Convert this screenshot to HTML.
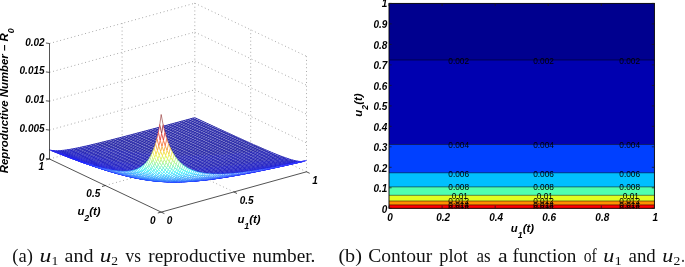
<!DOCTYPE html>
<html lang="en"><head><meta charset="utf-8"><title>Reproductive number plots</title>
<style>
html,body{margin:0;padding:0;background:#fff}
svg{display:block}
.g{stroke:#969696;stroke-width:.9;stroke-dasharray:.9 2.8;fill:none}
.a{stroke:#1a1a1a;stroke-width:.75;fill:none}
.c{stroke:#000;stroke-width:.5;fill:none}
text{font-family:"Liberation Sans",sans-serif;fill:#000}
.t{font-size:10.0px;font-weight:bold;font-style:italic}
.l{font-size:11.4px;font-weight:bold;font-style:italic}
.k{font-size:8.3px;fill:#000}
.s{font-family:"Liberation Serif",serif;font-size:18.3px;fill:#111}
</style></head>
<body>
<svg width="685" height="267" viewBox="0 0 685 267">
<rect width="685" height="267" fill="#fff"/>
<g id="grid3d">
<path class="g" d="M122.1 138.8L122.1 23.3"/>
<path class="g" d="M194.8 118.7L194.8 3.2"/>
<path class="g" d="M250.7 145.2L250.7 29.8"/>
<path class="g" d="M306.5 171.8L306.5 56.3"/>
<path class="g" d="M49.5 130.1L194.8 89.8"/>
<path class="g" d="M194.8 89.8L306.5 142.9"/>
<path class="g" d="M49.5 101.2L194.8 61.0"/>
<path class="g" d="M194.8 61.0L306.5 114.1"/>
<path class="g" d="M49.5 72.4L194.8 32.1"/>
<path class="g" d="M194.8 32.1L306.5 85.2"/>
<path class="g" d="M49.5 43.5L194.8 3.2"/>
<path class="g" d="M194.8 3.2L306.5 56.3"/>
<path class="g" d="M233.8 191.9L122.1 138.8"/>
<path class="g" d="M105.3 185.5L250.7 145.2"/>
<path class="g" d="M306.5 171.8L194.8 118.7"/>
<path class="g" d="M49.5 159.0L194.8 118.7"/>
</g>
<g id="mesh">
<g fill="#fff" stroke-width="0.56" stroke-linejoin="round">
<path fill="#fff" stroke="#fff" stroke-width=".3" d="M50.9 150.45l1.81 .47 1.82 .28 1.81 .15 1.82 .03 1.82-.04 3.63-.28 3.63-.44 5.45-.88 5.45-1.04 7.26-1.55 7.27-1.67 9.08-2.19 10.9-2.74 12.71-3.27 30.88-8.19 39.96-10.8-1.4-.65-39.96 10.81-30.87 8.18-12.72 3.28-10.89 2.74-9.09 2.2-7.26 1.67-7.27 1.56-5.44 1.04-5.45 .89-3.64 .45-3.63 .28-1.82 .05-1.81-.03-1.82-.13-1.81-.28-1.82-.46zM52.29 151l1.82 .49 1.81 .29 1.82 .15 1.82 .04 1.81-.04 3.64-.26 3.63-.44 5.45-.87 5.45-1.03 7.26-1.55 7.27-1.66 9.08-2.19 10.89-2.73 12.72-3.28 30.88-8.18 39.95-10.8-1.39-.65-39.96 10.8-30.88 8.19-12.71 3.27-10.9 2.74-9.08 2.19-7.27 1.67-7.26 1.55-5.45 1.04-5.45 .88-3.63 .44-3.63 .28-1.82 .04-1.82-.03-1.81-.15-1.82-.28-1.81-.47zM53.69 151.56l1.81 .5 1.82 .3 1.82 .15 1.81 .05 1.82-.03 3.63-.26 3.63-.43 5.45-.86 5.45-1.03 7.27-1.54 7.26-1.66 9.08-2.19 10.9-2.72 12.71-3.28 30.88-8.17 39.96-10.8-1.4-.65-39.95 10.8-30.88 8.18-12.72 3.28-10.89 2.73-9.08 2.19-7.27 1.66-7.26 1.55-5.45 1.03-5.45 .87-3.63 .44-3.64 .26-1.81 .04-1.82-.04-1.82-.15-1.81-.29-1.82-.49zM55.08 152.11l1.82 .51 1.82 .31 1.81 .17 1.82 .05 1.82-.03 3.63-.25 3.63-.42 5.45-.85 5.45-1.03 7.26-1.53 7.27-1.66 9.08-2.18 10.9-2.72 12.71-3.27 30.88-8.17 39.95-10.8-1.39-.65-39.96 10.8-30.88 8.17-12.71 3.28-10.9 2.72-9.08 2.19-7.26 1.66-7.27 1.54-5.45 1.03-5.45 .86-3.63 .43-3.63 .26-1.82 .03-1.81-.05-1.82-.15-1.82-.3-1.81-.5zM56.48 152.66l1.82 .52 1.81 .32 1.82 .17 1.82 .07 1.81-.03 3.63-.24 3.64-.41 5.45-.85 5.44-1.02 7.27-1.52 7.26-1.66 9.09-2.17 10.89-2.73 12.72-3.26 30.87-8.16 39.96-10.8-1.4-.65-39.95 10.8-30.88 8.17-12.71 3.27-10.9 2.72-9.08 2.18-7.27 1.66-7.26 1.53-5.45 1.03-5.45 .85-3.63 .42-3.63 .25-1.82 .03-1.82-.05-1.81-.17-1.82-.31-1.82-.51zM57.88 153.2l1.81 .54 1.82 .33 1.82 .18 1.81 .07 1.82-.02 3.63-.23 3.63-.41 5.45-.83 5.45-1.02 7.27-1.52 7.26-1.65 9.08-2.17 10.9-2.72 12.71-3.26 30.88-8.16 39.96-10.79-1.4-.65-39.96 10.8-30.87 8.16-12.72 3.26-10.89 2.73-9.09 2.17-7.26 1.66-7.27 1.52-5.44 1.02-5.45 .85-3.64 .41-3.63 .24-1.81 .03-1.82-.07-1.82-.17-1.81-.32-1.82-.52zM59.27 153.75l1.82 .55 1.82 .34 1.81 .19 1.82 .07 1.82-.01 3.63-.22 3.63-.4 5.45-.83 5.45-1.01 7.26-1.51 7.27-1.65 9.08-2.17 10.9-2.71 12.71-3.26 30.88-8.15 39.95-10.79-1.39-.65-39.96 10.79-30.88 8.16-12.71 3.26-10.9 2.72-9.08 2.17-7.26 1.65-7.27 1.52-5.45 1.02-5.45 .83-3.63 .41-3.63 .23-1.82 .02-1.81-.07-1.82-.18-1.82-.33-1.81-.54zM60.67 154.29l1.82 .56 1.81 .35 1.82 .2 1.81 .08 1.82 0 3.63-.21 3.64-.4 5.45-.82 5.44-1 7.27-1.51 7.26-1.64 9.09-2.16 10.89-2.71 12.72-3.26 30.87-8.15 39.96-10.78-1.4-.65-39.95 10.79-30.88 8.15-12.71 3.26-10.9 2.71-9.08 2.17-7.27 1.65-7.26 1.51-5.45 1.01-5.45 .83-3.63 .4-3.63 .22-1.82 .01-1.82-.07-1.81-.19-1.82-.34-1.82-.55zM62.07 154.82l1.81 .58 1.82 .36 1.81 .21 1.82 .09 1.82 0 3.63-.2 3.63-.39 5.45-.81 5.45-.99 7.26-1.5 7.27-1.64 9.08-2.16 10.9-2.71 12.71-3.25 14.53-3.8 16.35-4.34 39.96-10.78-1.4-.65-39.96 10.78-30.87 8.15-12.72 3.26-10.89 2.71-9.09 2.16-7.26 1.64-7.27 1.51-5.44 1-5.45 .82-3.64 .4-3.63 .21-1.82 0-1.81-.08-1.82-.2-1.81-.35-1.82-.56zM63.46 155.36l1.82 .59 1.81 .37 1.82 .22 1.82 .1 1.81 0 3.64-.19 3.63-.38 5.45-.8 5.45-.99 7.26-1.49 7.27-1.63 9.08-2.16 10.89-2.7 12.72-3.25 14.53-3.8 16.35-4.34 39.95-10.77-1.39-.65-39.96 10.78-16.35 4.34-14.53 3.8-12.71 3.25-10.9 2.71-9.08 2.16-7.27 1.64-7.26 1.5-5.45 .99-5.45 .81-3.63 .39-3.63 .2-1.82 0-1.82-.09-1.81-.21-1.82-.36-1.81-.58zM64.86 155.89l1.81 .6 1.82 .39 1.82 .22 1.81 .11 1.82 .01 3.63-.18 3.63-.37 5.45-.79 5.45-.98 7.27-1.49 7.26-1.63 9.08-2.15 10.9-2.69 12.71-3.25 14.54-3.8 16.34-4.33 39.96-10.77-1.4-.65-39.95 10.77-16.35 4.34-14.53 3.8-12.72 3.25-10.89 2.7-9.08 2.16-7.27 1.63-7.26 1.49-5.45 .99-5.45 .8-3.63 .38-3.64 .19-1.81 0-1.82-.1-1.82-.22-1.81-.37-1.82-.59zM66.25 156.42l1.82 .61 1.82 .4 1.81 .24 1.82 .11 1.82 .02 3.63-.17 3.63-.36 5.45-.79 5.45-.97 7.26-1.48 7.27-1.62 9.08-2.15 10.9-2.69 12.71-3.24 14.53-3.79 16.35-4.34 39.96-10.77-1.4-.64-39.96 10.77-16.34 4.33-14.54 3.8-12.71 3.25-10.9 2.69-9.08 2.15-7.26 1.63-7.27 1.49-5.45 .98-5.45 .79-3.63 .37-3.63 .18-1.82-.01-1.81-.11-1.82-.22-1.82-.39-1.81-.6zM67.65 156.94l1.82 .63 1.81 .41 1.82 .25 1.82 .12 1.81 .02 1.82-.04 1.81-.11 3.64-.36 5.45-.77 5.44-.97 7.27-1.47 7.26-1.62 9.09-2.14 10.89-2.69 12.72-3.24 14.53-3.78 16.34-4.34 39.96-10.76-1.39-.65-39.96 10.77-16.35 4.34-14.53 3.79-12.71 3.24-10.9 2.69-9.08 2.15-7.27 1.62-7.26 1.48-5.45 .97-5.45 .79-3.63 .36-3.63 .17-1.82-.02-1.82-.11-1.81-.24-1.82-.4-1.82-.61zM69.05 157.46l1.81 .65 1.82 .42 1.82 .25 1.81 .13 1.82 .04 1.81-.04 1.82-.11 3.63-.34 5.45-.77 5.45-.96 7.27-1.46 7.26-1.61 9.08-2.14 10.9-2.68 12.71-3.24 14.53-3.78 16.35-4.33 39.96-10.76-1.4-.65-39.96 10.76-16.34 4.34-14.53 3.78-12.72 3.24-10.89 2.69-9.09 2.14-7.26 1.62-7.27 1.47-5.44 .97-5.45 .77-3.64 .36-1.81 .11-1.82 .04-1.81-.02-1.82-.12-1.82-.25-1.81-.41-1.82-.63zM70.44 157.98l1.82 .66 1.82 .43 1.81 .27 1.82 .14 1.81 .04 1.82-.04 1.82-.09 3.63-.34 5.45-.76 5.45-.95 7.26-1.46 7.27-1.6 9.08-2.13 10.9-2.68 12.71-3.23 14.53-3.78 16.35-4.33 39.95-10.75-1.39-.65-39.96 10.76-16.35 4.33-14.53 3.78-12.71 3.24-10.9 2.68-9.08 2.14-7.26 1.61-7.27 1.46-5.45 .96-5.45 .77-3.63 .34-1.82 .11-1.81 .04-1.82-.04-1.81-.13-1.82-.25-1.82-.42-1.81-.65zM71.84 158.49l1.82 .68 1.81 .44 1.82 .28 1.81 .15 1.82 .05 1.82-.03 1.81-.09 3.64-.33 5.44-.75 5.45-.94 7.27-1.45 7.26-1.6 9.08-2.13 10.9-2.67 12.72-3.23 14.53-3.78 16.34-4.32 39.96-10.75-1.4-.64-39.95 10.75-16.35 4.33-14.53 3.78-12.71 3.23-10.9 2.68-9.08 2.13-7.27 1.6-7.26 1.46-5.45 .95-5.45 .76-3.63 .34-1.82 .09-1.82 .04-1.81-.04-1.82-.14-1.81-.27-1.82-.43-1.82-.66zM73.24 159l1.81 .69 1.82 .46 1.81 .29 1.82 .15 1.82 .06 1.81-.02 1.82-.09 3.63-.32 5.45-.73 5.45-.93 7.26-1.45 7.27-1.59 9.08-2.12 10.9-2.67 12.71-3.22 14.53-3.78 16.35-4.32 39.96-10.74-1.4-.65-39.96 10.75-16.34 4.32-14.53 3.78-12.72 3.23-10.9 2.67-9.08 2.13-7.26 1.6-7.27 1.45-5.45 .94-5.44 .75-3.64 .33-1.81 .09-1.82 .03-1.82-.05-1.81-.15-1.82-.28-1.81-.44-1.82-.68zM74.63 159.5l1.82 .71 1.81 .47 1.82 .3 1.82 .17 1.81 .06 1.82-.01 1.82-.08 3.63-.31 5.45-.72 5.45-.93 7.26-1.44 7.27-1.58 9.08-2.12 10.89-2.66 12.72-3.22 14.53-3.77 16.35-4.32 39.95-10.74-1.39-.64-39.96 10.74-16.35 4.32-14.53 3.78-12.71 3.22-10.9 2.67-9.08 2.12-7.27 1.59-7.26 1.45-5.45 .93-5.45 .73-3.63 .32-1.82 .09-1.81 .02-1.82-.06-1.82-.15-1.81-.29-1.82-.46-1.81-.69zM76.03 160l1.81 .73 1.82 .48 1.82 .31 1.81 .18 1.82 .07 1.82 0 1.81-.08 3.63-.3 5.45-.71 5.45-.92 7.27-1.43 7.26-1.57 9.08-2.11 10.9-2.66 12.72-3.22 14.53-3.76 16.34-4.32 39.96-10.73-1.4-.65-39.95 10.74-16.35 4.32-14.53 3.77-12.72 3.22-10.89 2.66-9.08 2.12-7.27 1.58-7.26 1.44-5.45 .93-5.45 .72-3.63 .31-1.82 .08-1.82 .01-1.81-.06-1.82-.17-1.82-.3-1.81-.47-1.82-.71zM77.42 160.49l1.82 .75 1.82 .5 1.81 .32 1.82 .19 1.82 .08 1.81 0 1.82-.07 3.63-.29 5.45-.7 5.45-.91 7.26-1.42 7.27-1.57 9.08-2.1 10.9-2.66 12.71-3.21 14.53-3.76 16.35-4.31 39.95-10.73-1.39-.64-39.96 10.73-16.34 4.32-14.53 3.76-12.72 3.22-10.9 2.66-9.08 2.11-7.26 1.57-7.27 1.43-5.45 .92-5.45 .71-3.63 .3-1.81 .08-1.82 0-1.82-.07-1.81-.18-1.82-.31-1.82-.48-1.81-.73zM78.82 160.98l1.82 .77 1.81 .51 1.82 .34 1.82 .19 1.81 .09 1.82 .01 1.81-.06 3.64-.28 1.81-.2 3.64-.49 5.44-.9 7.27-1.41 7.26-1.56 9.09-2.1 10.89-2.65 12.72-3.2 14.53-3.76 16.34-4.31 39.96-10.73-1.4-.64-39.95 10.73-16.35 4.31-14.53 3.76-12.71 3.21-10.9 2.66-9.08 2.1-7.27 1.57-7.26 1.42-5.45 .91-5.45 .7-3.63 .29-1.82 .07-1.81 0-1.82-.08-1.82-.19-1.81-.32-1.82-.5-1.82-.75zM80.22 161.46l1.81 .79 1.82 .53 1.82 .35 1.81 .2 1.82 .1 1.81 .02 1.82-.06 3.63-.26 1.82-.2 3.63-.48 5.45-.89 7.27-1.4 7.26-1.56 9.08-2.09 10.9-2.64 12.71-3.21 14.53-3.75 16.35-4.3 39.96-10.72-1.4-.65-39.96 10.73-16.34 4.31-14.53 3.76-12.72 3.2-10.89 2.65-9.09 2.1-7.26 1.56-7.27 1.41-5.44 .9-3.64 .49-1.81 .2-3.64 .28-1.81 .06-1.82-.01-1.81-.09-1.82-.19-1.82-.34-1.81-.51-1.82-.77zM81.61 161.94l1.82 .81 1.82 .54 1.81 .36 1.82 .22 1.81 .11 1.82 .02 1.82-.05 3.63-.25 1.82-.19 3.63-.47 5.45-.88 7.26-1.4 7.27-1.55 9.08-2.08 10.9-2.64 12.71-3.2 14.53-3.75 16.35-4.3 39.95-10.71-1.39-.64-39.96 10.72-16.35 4.3-14.53 3.75-12.71 3.21-10.9 2.64-9.08 2.09-7.26 1.56-7.27 1.4-5.45 .89-3.63 .48-1.82 .2-3.63 .26-1.82 .06-1.81-.02-1.82-.1-1.81-.2-1.82-.35-1.82-.53-1.81-.79zM83.01 162.41l1.82 .83 1.81 .56 1.82 .38 1.81 .23 1.82 .11 1.82 .03 1.81-.04 3.64-.24 1.81-.19 3.64-.46 5.44-.87 7.27-1.38 7.26-1.55 9.09-2.08 10.89-2.63 12.72-3.19 14.53-3.75 16.34-4.29 39.96-10.71-1.4-.64-39.95 10.71-16.35 4.3-14.53 3.75-12.71 3.2-10.9 2.64-9.08 2.08-7.27 1.55-7.26 1.4-5.45 .88-3.63 .47-1.82 .19-3.63 .25-1.82 .05-1.82-.02-1.81-.11-1.82-.22-1.81-.36-1.82-.54-1.82-.81zM84.41 162.88l1.81 .84 1.82 .59 1.81 .38 1.82 .24 1.82 .13 1.81 .04 1.82-.03 3.63-.23 1.82-.18 3.63-.46 5.45-.86 7.26-1.37 7.27-1.54 9.08-2.07 10.9-2.63 12.71-3.18 14.53-3.74 16.35-4.3 39.96-10.7-1.4-.64-39.96 10.71-16.34 4.29-14.53 3.75-12.72 3.19-10.89 2.63-9.09 2.08-7.26 1.55-7.27 1.38-5.44 .87-3.64 .46-1.81 .19-3.64 .24-1.81 .04-1.82-.03-1.82-.11-1.81-.23-1.82-.38-1.81-.56-1.82-.83zM85.8 163.34l1.82 .87 1.81 .6 1.82 .4 1.82 .25 1.81 .14 1.82 .04 1.82-.02 3.63-.22 1.81-.17 3.64-.45 5.45-.85 7.26-1.37 7.27-1.53 9.08-2.06 10.89-2.62 12.72-3.18 14.53-3.73 16.35-4.29 39.95-10.7-1.39-.64-39.96 10.7-16.35 4.3-14.53 3.74-12.71 3.18-10.9 2.63-9.08 2.07-7.27 1.54-7.26 1.37-5.45 .86-3.63 .46-1.82 .18-3.63 .23-1.82 .03-1.81-.04-1.82-.13-1.82-.24-1.81-.38-1.82-.59-1.81-.84zM87.2 163.79l1.81 .89 1.82 .62 1.82 .41 1.81 .27 1.82 .15 1.82 .05 1.81-.01 3.63-.21 1.82-.17 3.63-.44 5.45-.84 7.27-1.35 7.26-1.52 9.08-2.06 10.9-2.61 12.71-3.17 14.54-3.74 16.34-4.28 39.96-10.69-1.4-.64-39.95 10.7-16.35 4.29-14.53 3.73-12.72 3.18-10.89 2.62-9.08 2.06-7.27 1.53-7.26 1.37-5.45 .85-3.64 .45-1.81 .17-3.63 .22-1.82 .02-1.82-.04-1.81-.14-1.82-.25-1.82-.4-1.81-.6-1.82-.87zM88.59 164.24l1.82 .91 1.82 .64 1.81 .43 1.82 .27 1.82 .16 1.81 .07 1.82-.01 3.63-.19 1.82-.17 3.63-.42 5.45-.83 7.26-1.34 7.27-1.52 9.08-2.05 10.9-2.6 12.71-3.17 14.53-3.73 16.35-4.28 39.95-10.68-1.39-.64-39.96 10.69-16.34 4.28-14.54 3.74-12.71 3.17-10.9 2.61-9.08 2.06-7.26 1.52-7.27 1.35-5.45 .84-3.63 .44-1.82 .17-3.63 .21-1.81 .01-1.82-.05-1.82-.15-1.81-.27-1.82-.41-1.82-.62-1.81-.89zM89.99 164.67l1.82 .94 1.81 .66 1.82 .44 1.82 .3 1.81 .17 1.82 .07 1.81 0 3.64-.18 1.81-.16 3.64-.42 5.44-.81 7.27-1.33 7.26-1.51 9.09-2.04 10.89-2.6 12.72-3.16 14.53-3.72 16.34-4.28 39.96-10.67-1.4-.64-39.95 10.68-16.35 4.28-14.53 3.73-12.71 3.17-10.9 2.6-9.08 2.05-7.27 1.52-7.26 1.34-5.45 .83-3.63 .42-1.82 .17-3.63 .19-1.82 .01-1.81-.07-1.82-.16-1.82-.27-1.81-.43-1.82-.64-1.82-.91zM91.39 165.1l1.81 .97 1.82 .67 1.82 .47 1.81 .3 1.82 .18 1.81 .09 1.82 0 3.63-.16 1.82-.15 3.63-.41 5.45-.81 7.27-1.31 7.26-1.5 9.08-2.03 10.9-2.59 12.71-3.16 14.53-3.72 16.35-4.27 39.96-10.67-1.4-.63-39.96 10.67-16.34 4.28-14.53 3.72-12.72 3.16-10.89 2.6-9.09 2.04-7.26 1.51-7.27 1.33-5.44 .81-3.64 .42-1.81 .16-3.64 .18-1.81 0-1.82-.07-1.81-.17-1.82-.3-1.82-.44-1.81-.66-1.82-.94zM92.78 165.53l1.82 .99 1.82 .69 1.81 .48 1.82 .32 1.81 .19 1.82 .1 1.82 .02 3.63-.15 1.82-.15 3.63-.4 5.45-.79 7.26-1.31 7.27-1.48 9.08-2.03 10.9-2.58 12.71-3.15 14.53-3.71 16.35-4.27 39.95-10.66-1.39-.64-39.96 10.67-16.35 4.27-14.53 3.72-12.71 3.16-10.9 2.59-9.08 2.03-7.26 1.5-7.27 1.31-5.45 .81-3.63 .41-1.82 .15-3.63 .16-1.82 0-1.81-.09-1.82-.18-1.81-.3-1.82-.47-1.82-.67-1.81-.97zM94.18 165.94l1.82 1.02 1.81 .71 1.82 .5 1.81 .33 1.82 .21 1.82 .11 1.81 .02 3.64-.13 1.81-.14 3.64-.39 5.44-.78 7.27-1.29 7.26-1.48 9.09-2.02 10.89-2.57 12.72-3.14 14.53-3.71 16.34-4.26 39.96-10.66-1.4-.63-39.95 10.66-16.35 4.27-14.53 3.71-12.71 3.15-10.9 2.58-9.08 2.03-7.27 1.48-7.26 1.31-5.45 .79-3.63 .4-1.82 .15-3.63 .15-1.82-.02-1.82-.1-1.81-.19-1.82-.32-1.81-.48-1.82-.69-1.82-.99zM95.58 166.35l1.81 1.04 1.82 .74 1.81 .51 1.82 .35 1.82 .22 1.81 .12 1.82 .03 3.63-.12 1.82-.13 3.63-.37 5.45-.77 7.26-1.28 7.27-1.47 9.08-2.01 10.9-2.56 12.71-3.14 14.53-3.7 16.35-4.26 18.16-4.81 21.8-5.83-1.4-.64-39.96 10.66-16.34 4.26-14.53 3.71-12.72 3.14-10.89 2.57-9.09 2.02-7.26 1.48-7.27 1.29-5.44 .78-3.64 .39-1.81 .14-3.64 .13-1.81-.02-1.82-.11-1.82-.21-1.81-.33-1.82-.5-1.81-.71-1.82-1.02zM96.97 166.74l1.82 1.07 1.81 .76 1.82 .54 1.82 .36 1.81 .24 1.82 .12 1.82 .05 3.63-.1 1.81-.13 3.64-.36 5.45-.76 7.26-1.26 7.27-1.46 9.08-2 10.89-2.56 12.72-3.13 14.53-3.69 16.35-4.25 18.16-4.81 21.79-5.83-1.39-.63-21.8 5.83-18.16 4.81-16.35 4.26-14.53 3.7-12.71 3.14-10.9 2.56-9.08 2.01-7.27 1.47-7.26 1.28-5.45 .77-3.63 .37-1.82 .13-3.63 .12-1.82-.03-1.81-.12-1.82-.22-1.82-.35-1.81-.51-1.82-.74-1.81-1.04zM98.37 167.13l1.81 1.1 1.82 .78 1.82 .56 1.81 .38 1.82 .24 1.82 .14 1.81 .06 3.63-.09 1.82-.11 3.63-.36 5.45-.74 7.27-1.25 7.26-1.45 9.08-1.98 10.9-2.55 12.71-3.12 14.54-3.69 16.34-4.25 18.16-4.8 21.8-5.83-1.4-.63-21.79 5.83-18.16 4.81-16.35 4.25-14.53 3.69-12.72 3.13-10.89 2.56-9.08 2-7.27 1.46-7.26 1.26-5.45 .76-3.64 .36-1.81 .13-3.63 .1-1.82-.05-1.82-.12-1.81-.24-1.82-.36-1.82-.54-1.81-.76-1.82-1.07zM99.76 167.5l1.82 1.13 1.82 .81 1.81 .58 1.82 .4 1.82 .26 1.81 .15 1.82 .06 3.63-.06 1.82-.11 3.63-.34 5.45-.73 3.63-.59 3.63-.65 7.27-1.43 9.08-1.98 10.9-2.54 12.71-3.11 14.53-3.69 16.35-4.24 18.16-4.79 21.79-5.83-1.39-.63-21.8 5.83-18.16 4.8-16.34 4.25-14.54 3.69-12.71 3.12-10.9 2.55-9.08 1.98-7.26 1.45-7.27 1.25-5.45 .74-3.63 .36-1.82 .11-3.63 .09-1.81-.06-1.82-.14-1.82-.24-1.81-.38-1.82-.56-1.82-.78-1.81-1.1zM101.16 167.86l1.82 1.17 1.81 .83 1.82 .6 1.82 .41 1.81 .28 1.82 .17 1.82 .07 3.63-.05 1.81-.1 3.64-.33 5.45-.71 3.63-.58 3.63-.64 7.27-1.42 9.08-1.97 10.89-2.53 12.72-3.11 14.53-3.67 16.34-4.24 18.17-4.79 21.79-5.82-1.4-.63-21.79 5.83-18.16 4.79-16.35 4.24-14.53 3.69-12.71 3.11-10.9 2.54-9.08 1.98-7.27 1.43-3.63 .65-3.63 .59-5.45 .73-3.63 .34-1.82 .11-3.63 .06-1.82-.06-1.81-.15-1.82-.26-1.82-.4-1.81-.58-1.82-.81-1.82-1.13zM102.56 168.22l1.81 1.19 1.82 .87 1.82 .61 1.81 .44 1.82 .29 1.81 .18 1.82 .08 1.82 .02 1.81-.05 1.82-.09 3.63-.31 5.45-.7 3.63-.57 3.64-.63 7.26-1.42 9.08-1.95 10.9-2.53 12.71-3.09 14.53-3.67 16.35-4.23 18.16-4.79 21.8-5.81-1.4-.63-21.79 5.82-18.17 4.79-16.34 4.24-14.53 3.67-12.72 3.11-10.89 2.53-9.08 1.97-7.27 1.42-3.63 .64-3.63 .58-5.45 .71-3.64 .33-1.81 .1-3.63 .05-1.82-.07-1.82-.17-1.81-.28-1.82-.41-1.82-.6-1.81-.83-1.82-1.17zM103.95 168.55l1.82 1.24 1.82 .89 1.81 .64 1.82 .45 1.81 .31 1.82 .19 1.82 .1 1.81 .02 1.82-.03 1.82-.09 3.63-.3 5.45-.67 3.63-.57 3.63-.62 7.27-1.41 9.08-1.94 10.9-2.51 12.71-3.09 14.53-3.66 16.35-4.23 18.16-4.78 21.79-5.81-1.39-.62-21.8 5.81-18.16 4.79-16.35 4.23-14.53 3.67-12.71 3.09-10.9 2.53-9.08 1.95-7.26 1.42-3.64 .63-3.63 .57-5.45 .7-3.63 .31-1.82 .09-1.81 .05-1.82-.02-1.82-.08-1.81-.18-1.82-.29-1.81-.44-1.82-.61-1.82-.87-1.81-1.19zM105.35 168.88l1.82 1.27 1.81 .92 1.82 .66 1.81 .47 1.82 .33 1.82 .2 1.81 .12 1.82 .03 1.82-.02 1.81-.08 3.64-.29 5.44-.66 3.64-.55 3.63-.62 7.26-1.39 9.09-1.93 10.89-2.5 12.72-3.08 14.53-3.65 16.34-4.22 18.16-4.78 21.8-5.8-1.4-.63-21.79 5.81-18.16 4.78-16.35 4.23-14.53 3.66-12.71 3.09-10.9 2.51-9.08 1.94-7.27 1.41-3.63 .62-3.63 .57-5.45 .67-3.63 .3-1.82 .09-1.82 .03-1.81-.02-1.82-.1-1.82-.19-1.81-.31-1.82-.45-1.81-.64-1.82-.89-1.82-1.24zM106.75 169.19l1.81 1.31 1.82 .94 1.81 .69 1.82 .5 1.82 .34 1.81 .22 1.82 .13 1.82 .04 1.81-.01 1.82-.07 3.63-.27 5.45-.64 3.63-.55 3.63-.61 7.27-1.37 9.08-1.92 10.9-2.49 12.71-3.07 14.53-3.65 16.35-4.21 18.16-4.77 21.8-5.8-1.4-.62-21.8 5.8-18.16 4.78-16.34 4.22-14.53 3.65-12.72 3.08-10.89 2.5-9.09 1.93-7.26 1.39-3.63 .62-3.64 .55-5.44 .66-3.64 .29-1.81 .08-1.82 .02-1.82-.03-1.81-.12-1.82-.2-1.82-.33-1.81-.47-1.82-.66-1.81-.92-1.82-1.27zM108.14 169.49l1.82 1.34 1.81 .98 1.82 .72 1.82 .51 1.81 .36 1.82 .24 1.82 .14 1.81 .06 1.82-.01 1.81-.06 3.64-.25 5.45-.63 3.63-.53 3.63-.6 7.27-1.36 9.08-1.91 10.89-2.48 12.72-3.06 14.53-3.63 16.35-4.21 18.16-4.76 21.79-5.8-1.39-.62-21.8 5.8-18.16 4.77-16.35 4.21-14.53 3.65-12.71 3.07-10.9 2.49-9.08 1.92-7.27 1.37-3.63 .61-3.63 .55-5.45 .64-3.63 .27-1.82 .07-1.81 .01-1.82-.04-1.82-.13-1.81-.22-1.82-.34-1.82-.5-1.81-.69-1.82-.94-1.81-1.31zM109.54 169.76l1.81 1.39 1.82 1.01 1.82 .75 1.81 .53 1.82 .38 1.82 .25 1.81 .16 1.82 .07 1.81 .01 1.82-.05 3.63-.24 5.45-.6 3.63-.53 3.64-.59 7.26-1.35 9.08-1.89 10.9-2.47 12.71-3.05 14.54-3.62 16.34-4.2 18.16-4.76 21.8-5.79-1.4-.62-21.79 5.8-18.16 4.76-16.35 4.21-14.53 3.63-12.72 3.06-10.89 2.48-9.08 1.91-7.27 1.36-3.63 .6-3.63 .53-5.45 .63-3.64 .25-1.81 .06-1.82 .01-1.81-.06-1.82-.14-1.82-.24-1.81-.36-1.82-.51-1.82-.72-1.81-.98-1.82-1.34zM110.93 170.03l1.82 1.42 1.82 1.05 1.81 .77 1.82 .56 1.82 .4 1.81 .27 1.82 .17 1.81 .09 1.82 .01 1.82-.04 3.63-.21 5.45-.59 3.63-.51 3.63-.58 7.27-1.34 9.08-1.88 10.9-2.45 12.71-3.04 14.53-3.62 16.35-4.19 18.16-4.75 21.8-5.79-1.4-.61-21.8 5.79-18.16 4.76-16.34 4.2-14.54 3.62-12.71 3.05-10.9 2.47-9.08 1.89-7.26 1.35-3.64 .59-3.63 .53-5.45 .6-3.63 .24-1.82 .05-1.81-.01-1.82-.07-1.81-.16-1.82-.25-1.82-.38-1.81-.53-1.82-.75-1.82-1.01-1.81-1.39zM112.33 170.27l1.82 1.47 1.81 1.09 1.82 .8 1.82 .58 1.81 .42 1.82 .29 1.81 .18 1.82 .1 1.82 .03 1.81-.03 3.64-.2 5.44-.56 3.64-.5 3.63-.58 7.26-1.31 9.09-1.87 10.89-2.44 12.72-3.02 14.53-3.61 16.34-4.19 18.17-4.74 21.79-5.78-1.39-.62-21.8 5.79-18.16 4.75-16.35 4.19-14.53 3.62-12.71 3.04-10.9 2.45-9.08 1.88-7.27 1.34-3.63 .58-3.63 .51-5.45 .59-3.63 .21-1.82 .04-1.82-.01-1.81-.09-1.82-.17-1.81-.27-1.82-.4-1.82-.56-1.81-.77-1.82-1.05-1.82-1.42zM113.73 170.49l1.81 1.52 1.82 1.12 1.82 .83 1.81 .62 1.82 .44 1.81 .3 1.82 .21 1.82 .11 1.81 .04 1.82-.02 3.63-.18 1.82-.15 3.63-.39 3.63-.49 3.64-.56 7.26-1.3 9.08-1.85 10.9-2.43 12.71-3.01 14.53-3.6 16.35-4.18 18.16-4.73 21.8-5.78-1.4-.61-21.79 5.78-18.17 4.74-16.34 4.19-14.53 3.61-12.72 3.02-10.89 2.44-9.09 1.87-7.26 1.31-3.63 .58-3.64 .5-5.44 .56-3.64 .2-1.81 .03-1.82-.03-1.82-.1-1.81-.18-1.82-.29-1.81-.42-1.82-.58-1.82-.8-1.81-1.09-1.82-1.47zM115.12 170.7l1.82 1.56 1.82 1.17 1.81 .86 1.82 .64 1.81 .46 1.82 .33 1.82 .21 1.81 .13 1.82 .06 1.82-.01 3.63-.16 1.82-.14 3.63-.38 3.63-.47 3.63-.56 7.27-1.28 9.08-1.83 10.9-2.41 12.71-3.01 14.53-3.58 16.35-4.17 18.16-4.73 21.79-5.77-1.39-.61-21.8 5.78-18.16 4.73-16.35 4.18-14.53 3.6-12.71 3.01-10.9 2.43-9.08 1.85-7.26 1.3-3.64 .56-3.63 .49-3.63 .39-1.82 .15-3.63 .18-1.82 .02-1.81-.04-1.82-.11-1.82-.21-1.81-.3-1.82-.44-1.81-.62-1.82-.83-1.82-1.12-1.81-1.52zM116.52 170.87l1.82 1.63 1.81 1.2 1.82 .89 1.81 .67 1.82 .49 1.82 .35 1.81 .23 1.82 .15 1.82 .06 1.81 .01 3.63-.14 1.82-.13 3.63-.36 3.64-.46 3.63-.55 7.26-1.26 9.09-1.82 10.89-2.39 12.72-2.99 14.53-3.58 16.34-4.16 18.16-4.72 21.8-5.76-1.4-.61-21.79 5.77-18.16 4.73-16.35 4.17-14.53 3.58-12.71 3.01-10.9 2.41-9.08 1.83-7.27 1.28-3.63 .56-3.63 .47-3.63 .38-1.82 .14-3.63 .16-1.82 .01-1.82-.06-1.81-.13-1.82-.21-1.82-.33-1.81-.46-1.82-.64-1.81-.86-1.82-1.17-1.82-1.56zM117.92 171.03l1.81 1.67 1.82 1.25 1.81 .93 1.82 .7 1.82 .51 1.81 .37 1.82 .26 1.82 .16 1.81 .08 1.82 .02 3.63-.12 1.82-.12 3.63-.35 3.63-.44 3.63-.54 7.27-1.24 9.08-1.8 10.9-2.38 12.71-2.98 14.53-3.56 16.35-4.15 18.16-4.71 21.8-5.76-1.4-.6-21.8 5.76-18.16 4.72-16.34 4.16-14.53 3.58-12.72 2.99-10.89 2.39-9.09 1.82-7.26 1.26-3.63 .55-3.64 .46-3.63 .36-1.82 .13-3.63 .14-1.81-.01-1.82-.06-1.82-.15-1.81-.23-1.82-.35-1.82-.49-1.81-.67-1.82-.89-1.81-1.2-1.82-1.63zM119.31 171.16l1.82 1.73 1.81 1.29 1.82 .97 1.82 .73 1.81 .54 1.82 .39 1.82 .27 1.81 .18 1.82 .1 1.81 .03 3.64-.09 1.81-.11 3.64-.33 3.63-.43 3.63-.52 7.27-1.23 9.08-1.78 10.89-2.36 12.72-2.96 14.53-3.56 16.35-4.13 18.16-4.71 21.79-5.75-1.39-.6-21.8 5.76-18.16 4.71-16.35 4.15-14.53 3.56-12.71 2.98-10.9 2.38-9.08 1.8-7.27 1.24-3.63 .54-3.63 .44-3.63 .35-1.82 .12-3.63 .12-1.82-.02-1.81-.08-1.82-.16-1.82-.26-1.81-.37-1.82-.51-1.82-.7-1.81-.93-1.82-1.25-1.81-1.67zM120.71 171.26l1.81 1.79 1.82 1.34 1.82 1.01 1.81 .76 1.82 .56 1.82 .42 1.81 .3 1.82 .19 1.81 .12 1.82 .04 3.63-.07 1.82-.1 3.63-.3 3.63-.42 3.64-.51 7.26-1.2 9.08-1.76 10.9-2.35 12.71-2.94 14.54-3.55 16.34-4.12 18.16-4.7 21.8-5.74-1.4-.6-21.79 5.75-18.16 4.71-16.35 4.13-14.53 3.56-12.72 2.96-10.89 2.36-9.08 1.78-7.27 1.23-3.63 .52-3.63 .43-3.64 .33-1.81 .11-3.64 .09-1.81-.03-1.82-.1-1.81-.18-1.82-.27-1.82-.39-1.81-.54-1.82-.73-1.82-.97-1.81-1.29-1.82-1.73zM122.1 171.32l1.82 1.86 1.82 1.39 1.81 1.05 1.82 .8 1.82 .59 1.81 .45 1.82 .31 1.81 .22 1.82 .13 1.82 .06 3.63-.04 1.82-.09 3.63-.29 3.63-.4 3.63-.5 7.27-1.18 9.08-1.73 10.9-2.33 12.71-2.93 14.53-3.53 16.35-4.12 18.16-4.68 21.79-5.73-1.39-.6-21.8 5.74-18.16 4.7-16.34 4.12-14.54 3.55-12.71 2.94-10.9 2.35-9.08 1.76-7.26 1.2-3.64 .51-3.63 .42-3.63 .3-1.82 .1-3.63 .07-1.82-.04-1.81-.12-1.82-.19-1.81-.3-1.82-.42-1.82-.56-1.81-.76-1.82-1.01-1.82-1.34-1.81-1.79zM123.5 171.36l1.82 1.92 1.81 1.44 1.82 1.1 1.82 .83 1.81 .63 1.82 .47 1.81 .34 1.82 .24 1.82 .15 1.81 .07 3.64-.01 1.81-.08 3.64-.27 3.63-.39 3.63-.47 7.26-1.16 9.09-1.71 10.89-2.31 12.72-2.92 14.53-3.51 16.34-4.1 18.17-4.68 21.79-5.72-1.4-.59-21.79 5.73-18.16 4.68-16.35 4.12-14.53 3.53-12.71 2.93-10.9 2.33-9.08 1.73-7.27 1.18-3.63 .5-3.63 .4-3.63 .29-1.82 .09-3.63 .04-1.82-.06-1.82-.13-1.81-.22-1.82-.31-1.81-.45-1.82-.59-1.82-.8-1.81-1.05-1.82-1.39-1.82-1.86zM124.9 171.36l1.81 1.99 1.82 1.5 1.82 1.14 1.81 .87 1.82 .66 1.81 .5 1.82 .37 1.82 .25 1.81 .17 1.82 .1 3.63 .01 1.82-.07 3.63-.24 3.63-.37 3.64-.46 7.26-1.13 9.08-1.7 10.9-2.28 12.71-2.9 14.53-3.5 16.35-4.09 18.16-4.67 21.8-5.71-1.4-.58-21.79 5.72-18.17 4.68-16.34 4.1-14.53 3.51-12.72 2.92-10.89 2.31-9.09 1.71-7.26 1.16-3.63 .47-3.63 .39-3.64 .27-1.81 .08-3.64 .01-1.81-.07-1.82-.15-1.82-.24-1.81-.34-1.82-.47-1.81-.63-1.82-.83-1.82-1.1-1.81-1.44-1.82-1.92zM126.29 171.31l1.82 2.07 1.82 1.56 1.81 1.19 1.82 .91 1.82 .7 1.81 .53 1.82 .39 1.81 .28 1.82 .19 1.82 .11 3.63 .05 1.82-.06 3.63-.22 3.63-.35 3.63-.44 3.64-.52 3.63-.59 3.63-.63 5.45-1.04 10.9-2.26 12.71-2.88 14.53-3.48 16.35-4.08 18.16-4.65 21.79-5.71-1.39-.58-21.8 5.71-18.16 4.67-16.35 4.09-14.53 3.5-12.71 2.9-10.9 2.28-9.08 1.7-7.26 1.13-3.64 .46-3.63 .37-3.63 .24-1.82 .07-3.63-.01-1.82-.1-1.81-.17-1.82-.25-1.82-.37-1.81-.5-1.82-.66-1.81-.87-1.82-1.14-1.82-1.5-1.81-1.99zM127.69 171.23l1.82 2.14 1.81 1.63 1.82 1.24 1.81 .96 1.82 .73 1.82 .56 1.81 .42 1.82 .31 1.82 .21 1.81 .13 3.64 .07 1.81-.03 3.63-.2 3.64-.33 3.63-.43 3.63-.51 3.63-.57 3.64-.62 5.45-1.02 10.89-2.24 12.72-2.86 14.53-3.46 16.34-4.06 18.16-4.65 21.8-5.69-1.4-.58-21.79 5.71-18.16 4.65-16.35 4.08-14.53 3.48-12.71 2.88-10.9 2.26-5.45 1.04-3.63 .63-3.63 .59-3.64 .52-3.63 .44-3.63 .35-3.63 .22-1.82 .06-3.63-.05-1.82-.11-1.82-.19-1.81-.28-1.82-.39-1.81-.53-1.82-.7-1.82-.91-1.81-1.19-1.82-1.56-1.82-2.07zM129.09 171.09l1.81 2.23 1.82 1.7 1.81 1.3 1.82 1 1.82 .77 1.81 .6 1.82 .45 1.82 .33 1.81 .23 1.82 .15 3.63 .11 1.82-.02 3.63-.17 3.63-.31 3.63-.41 3.64-.49 3.63-.56 3.63-.61 5.45-1 5.45-1.08 5.45-1.14 12.71-2.83 14.53-3.45 16.35-4.05 18.16-4.63 21.8-5.68-1.4-.57-21.8 5.69-18.16 4.65-16.34 4.06-14.53 3.46-12.72 2.86-10.89 2.24-5.45 1.02-3.64 .62-3.63 .57-3.63 .51-3.63 .43-3.64 .33-3.63 .2-1.81 .03-3.64-.07-1.81-.13-1.82-.21-1.82-.31-1.81-.42-1.82-.56-1.82-.73-1.81-.96-1.82-1.24-1.81-1.63-1.82-2.14zM130.48 170.9l1.82 2.33 1.81 1.76 1.82 1.36 1.82 1.05 1.81 .82 1.82 .63 1.82 .48 1.81 .36 1.82 .26 1.81 .17 1.82 .11 1.82 .04 1.81-.01 3.64-.15 3.63-.28 3.63-.39 3.63-.47 3.64-.54 3.63-.6 5.45-.98 5.45-1.07 5.44-1.13 12.72-2.81 14.53-3.43 16.35-4.03 18.16-4.62 21.79-5.66-1.39-.57-21.8 5.68-18.16 4.63-16.35 4.05-14.53 3.45-12.71 2.83-5.45 1.14-5.45 1.08-5.45 1-3.63 .61-3.63 .56-3.64 .49-3.63 .41-3.63 .31-3.63 .17-1.82 .02-3.63-.11-1.82-.15-1.81-.23-1.82-.33-1.82-.45-1.81-.6-1.82-.77-1.82-1-1.81-1.3-1.82-1.7-1.81-2.23zM131.88 170.66l1.81 2.42 1.82 1.84 1.82 1.42 1.81 1.11 1.82 .86 1.82 .67 1.81 .51 1.82 .39 1.81 .29 1.82 .19 1.82 .13 1.81 .06 1.82 .01 3.63-.12 3.63-.26 3.64-.36 3.63-.46 3.63-.53 3.63-.58 5.45-.97 5.45-1.04 5.45-1.12 12.71-2.79 14.54-3.4 16.34-4.02 18.16-4.6 21.8-5.66-1.4-.55-21.79 5.66-18.16 4.62-16.35 4.03-14.53 3.43-12.72 2.81-5.44 1.13-5.45 1.07-5.45 .98-3.63 .6-3.64 .54-3.63 .47-3.63 .39-3.63 .28-3.64 .15-1.81 .01-1.82-.04-1.82-.11-1.81-.17-1.82-.26-1.81-.36-1.82-.48-1.82-.63-1.81-.82-1.82-1.05-1.82-1.36-1.81-1.76-1.82-2.33zM133.27 170.35l1.82 2.52 1.82 1.93 1.81 1.49 1.82 1.16 1.82 .91 1.81 .71 1.82 .55 1.81 .42 1.82 .31 1.82 .23 1.81 .14 1.82 .08 1.82 .03 3.63-.08 3.63-.23 3.63-.35 3.64-.44 3.63-.51 3.63-.57 5.45-.94 5.45-1.03 5.45-1.1 12.71-2.77 14.53-3.38 16.35-4 18.16-4.59 21.79-5.64-1.39-.55-21.8 5.66-18.16 4.6-16.34 4.02-14.54 3.4-12.71 2.79-5.45 1.12-5.45 1.04-5.45 .97-3.63 .58-3.63 .53-3.63 .46-3.64 .36-3.63 .26-3.63 .12-1.82-.01-1.81-.06-1.82-.13-1.82-.19-1.81-.29-1.82-.39-1.81-.51-1.82-.67-1.82-.86-1.81-1.11-1.82-1.42-1.82-1.84-1.81-2.42zM134.67 169.97l1.82 2.63 1.81 2.02 1.82 1.56 1.82 1.22 1.81 .97 1.82 .75 1.81 .59 1.82 .45 1.82 .35 1.81 .24 1.82 .17 1.82 .11 1.81 .04 3.63-.05 3.64-.2 3.63-.32 3.63-.42 3.63-.49 3.64-.55 5.45-.92 5.44-1.02 5.45-1.08 12.72-2.74 14.53-3.36 16.34-3.98 18.17-4.57 21.79-5.62-1.4-.55-21.79 5.64-18.16 4.59-16.35 4-14.53 3.38-12.71 2.77-5.45 1.1-5.45 1.03-5.45 .94-3.63 .57-3.63 .51-3.64 .44-3.63 .35-3.63 .23-3.63 .08-1.82-.03-1.82-.08-1.81-.14-1.82-.23-1.82-.31-1.81-.42-1.82-.55-1.81-.71-1.82-.91-1.82-1.16-1.81-1.49-1.82-1.93-1.82-2.52zM136.07 169.5l1.81 2.76 1.82 2.11 1.82 1.64 1.81 1.29 1.82 1.02 1.82 .8 1.81 .63 1.82 .49 1.81 .38 1.82 .28 1.82 .19 1.81 .13 1.82 .07 3.63-.02 3.63-.17 3.64-.3 3.63-.39 3.63-.47 3.63-.54 5.45-.9 5.45-.99 5.45-1.07 5.45-1.13 7.26-1.58 14.53-3.33 16.35-3.96 18.16-4.55 21.8-5.61-1.4-.53-21.79 5.62-18.17 4.57-16.34 3.98-14.53 3.36-12.72 2.74-5.45 1.08-5.44 1.02-5.45 .92-3.64 .55-3.63 .49-3.63 .42-3.63 .32-3.64 .2-3.63 .05-1.81-.04-1.82-.11-1.82-.17-1.81-.24-1.82-.35-1.82-.45-1.81-.59-1.82-.75-1.81-.97-1.82-1.22-1.82-1.56-1.81-2.02-1.82-2.63zM137.46 168.95l1.82 2.89 1.82 2.21 1.81 1.73 1.82 1.36 1.82 1.08 1.81 .85 1.82 .68 1.81 .53 1.82 .41 1.82 .31 1.81 .22 1.82 .15 1.81 .09 3.64 .03 3.63-.14 3.63-.27 3.64-.37 3.63-.45 3.63-.52 5.45-.87 5.45-.98 5.45-1.05 5.45-1.11 7.26-1.56 14.53-3.31 16.35-3.93 18.16-4.54 21.79-5.59-1.39-.52-21.8 5.61-18.16 4.55-16.35 3.96-14.53 3.33-7.26 1.58-5.45 1.13-5.45 1.07-5.45 .99-5.45 .9-3.63 .54-3.63 .47-3.63 .39-3.64 .3-3.63 .17-3.63 .02-1.82-.07-1.81-.13-1.82-.19-1.82-.28-1.81-.38-1.82-.49-1.81-.63-1.82-.8-1.82-1.02-1.81-1.29-1.82-1.64-1.82-2.11-1.81-2.76zM138.86 168.3l1.82 3.03 1.81 2.32 1.82 1.82 1.81 1.44 1.82 1.15 1.82 .91 1.81 .72 1.82 .57 1.82 .45 1.81 .34 1.82 .25 1.82 .18 1.81 .12 3.63 .06 3.64-.1 3.63-.23 3.63-.35 3.63-.42 3.64-.5 5.45-.85 5.44-.96 5.45-1.03 5.45-1.09 7.27-1.54 14.53-3.28 16.34-3.91 18.17-4.52 21.79-5.57-1.4-.51-21.79 5.59-18.16 4.54-16.35 3.93-14.53 3.31-7.26 1.56-5.45 1.11-5.45 1.05-5.45 .98-5.45 .87-3.63 .52-3.63 .45-3.64 .37-3.63 .27-3.63 .14-3.64-.03-1.81-.09-1.82-.15-1.81-.22-1.82-.31-1.82-.41-1.81-.53-1.82-.68-1.81-.85-1.82-1.08-1.82-1.36-1.81-1.73-1.82-2.21-1.82-2.89zM140.26 167.54l1.81 3.17 1.82 2.45 1.81 1.92 1.82 1.53 1.82 1.21 1.81 .97 1.82 .78 1.82 .62 1.81 .48 1.82 .38 1.81 .29 1.82 .21 1.82 .14 3.63 .11 3.63-.06 3.63-.21 3.64-.31 3.63-.4 3.63-.48 5.45-.82 5.45-.93 5.45-1.01 5.45-1.08 7.26-1.52 14.53-3.25 16.35-3.88 18.16-4.49 21.8-5.55-1.4-.5-21.79 5.57-18.17 4.52-16.34 3.91-14.53 3.28-7.27 1.54-5.45 1.09-5.45 1.03-5.44 .96-5.45 .85-3.64 .5-3.63 .42-3.63 .35-3.63 .23-3.64 .1-3.63-.06-1.81-.12-1.82-.18-1.82-.25-1.81-.34-1.82-.45-1.82-.57-1.81-.72-1.82-.91-1.82-1.15-1.81-1.44-1.82-1.82-1.81-2.32-1.82-3.03zM141.65 166.65l1.82 3.34 1.81 2.58 1.82 2.03 1.82 1.61 1.81 1.29 1.82 1.04 1.82 .83 1.81 .67 1.82 .54 1.81 .41 1.82 .33 1.82 .24 1.81 .17 3.64 .16 3.63-.02 3.63-.17 3.63-.28 3.64-.38 3.63-.45 5.45-.79 5.45-.9 5.44-.99 5.45-1.06 7.27-1.5 7.26-1.57 7.27-1.64 16.35-3.85 18.16-4.47 21.79-5.53-1.39-.48-21.8 5.55-18.16 4.49-16.35 3.88-14.53 3.25-7.26 1.52-5.45 1.08-5.45 1.01-5.45 .93-5.45 .82-3.63 .48-3.63 .4-3.64 .31-3.63 .21-3.63 .06-3.63-.11-1.82-.14-1.82-.21-1.81-.29-1.82-.38-1.81-.48-1.82-.62-1.82-.78-1.81-.97-1.82-1.21-1.82-1.53-1.81-1.92-1.82-2.45-1.81-3.17zM143.05 165.61l1.81 3.52 1.82 2.73 1.82 2.15 1.81 1.71 1.82 1.37 1.82 1.11 1.81 .9 1.82 .73 1.81 .58 1.82 .46 1.82 .36 1.81 .27 1.82 .2 3.63 .22 3.63 .03 3.64-.13 3.63-.25 3.63-.34 3.63-.43 5.45-.76 5.45-.87 5.45-.96 5.45-1.04 7.26-1.47 7.27-1.56 7.27-1.62 16.34-3.82 18.16-4.44 21.8-5.5-1.4-.47-21.79 5.53-18.16 4.47-16.35 3.85-7.27 1.64-7.26 1.57-7.27 1.5-5.45 1.06-5.44 .99-5.45 .9-5.45 .79-3.63 .45-3.64 .38-3.63 .28-3.63 .17-3.63 .02-3.64-.16-1.81-.17-1.82-.24-1.82-.33-1.81-.41-1.82-.54-1.81-.67-1.82-.83-1.82-1.04-1.81-1.29-1.82-1.61-1.82-2.03-1.81-2.58-1.82-3.34zM144.44 164.4l1.82 3.72 1.82 2.89 1.81 2.28 1.82 1.82 1.82 1.47 1.81 1.19 1.82 .97 1.81 .78 1.82 .63 1.82 .51 1.81 .41 1.82 .31 1.82 .24 3.63 .28 3.63 .07 3.63-.08 3.64-.21 3.63-.31 3.63-.4 5.45-.72 5.45-.84 5.45-.94 5.45-1.02 7.26-1.44 7.27-1.53 7.26-1.6 16.35-3.79 18.16-4.41 21.8-5.48-1.4-.44-21.8 5.5-18.16 4.44-16.34 3.82-7.27 1.62-7.27 1.56-7.26 1.47-5.45 1.04-5.45 .96-5.45 .87-5.45 .76-3.63 .43-3.63 .34-3.63 .25-3.64 .13-3.63-.03-3.63-.22-1.82-.2-1.81-.27-1.82-.36-1.82-.46-1.81-.58-1.82-.73-1.81-.9-1.82-1.11-1.82-1.37-1.81-1.71-1.82-2.15-1.82-2.73-1.81-3.52zM145.84 163l1.82 3.94 1.81 3.06 1.82 2.43 1.82 1.94 1.81 1.57 1.82 1.28 1.81 1.04 1.82 .85 1.82 .7 1.81 .56 1.82 .45 1.82 .36 1.81 .27 1.82 .2 1.81 .15 3.64 .13 3.63-.04 3.63-.17 3.63-.27 3.64-.37 5.45-.68 5.44-.8 5.45-.91 5.45-.99 7.27-1.42 7.26-1.5 7.27-1.58 16.34-3.75 18.17-4.37 21.79-5.46-1.39-.42-21.8 5.48-18.16 4.41-16.35 3.79-7.26 1.6-7.27 1.53-7.26 1.44-5.45 1.02-5.45 .94-5.45 .84-5.45 .72-3.63 .4-3.63 .31-3.64 .21-3.63 .08-3.63-.07-3.63-.28-1.82-.24-1.82-.31-1.81-.41-1.82-.51-1.82-.63-1.81-.78-1.82-.97-1.81-1.19-1.82-1.47-1.82-1.82-1.81-2.28-1.82-2.89-1.82-3.72zM147.24 161.37l1.81 4.18 1.82 3.26 1.82 2.59 1.81 2.08 1.82 1.68 1.81 1.38 1.82 1.12 1.82 .93 1.81 .76 1.82 .62 1.82 .5 1.81 .41 1.82 .31 1.81 .25 1.82 .17 3.63 .2 3.64 .02 3.63-.13 3.63-.23 3.63-.33 5.45-.64 5.45-.77 5.45-.87 5.45-.96 7.26-1.38 7.27-1.48 7.26-1.56 16.35-3.7 18.16-4.34 21.8-5.42-1.4-.4-21.79 5.46-18.17 4.37-16.34 3.75-7.27 1.58-7.26 1.5-7.27 1.42-5.45 .99-5.45 .91-5.44 .8-5.45 .68-3.64 .37-3.63 .27-3.63 .17-3.63 .04-3.64-.13-1.81-.15-1.82-.2-1.81-.27-1.82-.36-1.82-.45-1.81-.56-1.82-.7-1.82-.85-1.81-1.04-1.82-1.28-1.81-1.57-1.82-1.94-1.82-2.43-1.81-3.06-1.82-3.94zM148.63 159.48l1.82 4.45 1.82 3.48 1.81 2.76 1.82 2.23 1.82 1.81 1.81 1.49 1.82 1.22 1.81 1.01 1.82 .83 1.82 .69 1.81 .56 1.82 .45 1.82 .37 1.81 .29 1.82 .21 3.63 .27 3.63 .07 3.64-.07 3.63-.19 3.63-.29 5.45-.58 5.45-.73 5.45-.84 5.45-.92 7.26-1.35 7.26-1.45 7.27-1.53 7.27-1.59 9.08-2.06 18.16-4.3 21.79-5.38-1.39-.37-21.8 5.42-18.16 4.34-16.35 3.7-7.26 1.56-7.27 1.48-7.26 1.38-5.45 .96-5.45 .87-5.45 .77-5.45 .64-3.63 .33-3.63 .23-3.63 .13-3.64-.02-3.63-.2-1.82-.17-1.81-.25-1.82-.31-1.81-.41-1.82-.5-1.82-.62-1.81-.76-1.82-.93-1.82-1.12-1.81-1.38-1.82-1.68-1.81-2.08-1.82-2.59-1.82-3.26-1.81-4.18zM150.03 157.27l1.82 4.76 1.81 3.72 1.82 2.97 1.81 2.39 1.82 1.96 1.82 1.6 1.81 1.33 1.82 1.1 1.82 .92 1.81 .76 1.82 .62 1.81 .52 1.82 .42 1.82 .33 1.81 .27 3.64 .34 3.63 .14 3.63-.01 3.63-.14 3.64-.25 5.44-.53 5.45-.67 5.45-.8 5.45-.89 7.27-1.31 7.26-1.41 7.27-1.5 7.26-1.56 9.08-2.04 18.16-4.25 21.8-5.35-1.4-.32-21.79 5.38-18.16 4.3-9.08 2.06-7.27 1.59-7.27 1.53-7.26 1.45-7.26 1.35-5.45 .92-5.45 .84-5.45 .73-5.45 .58-3.63 .29-3.63 .19-3.64 .07-3.63-.07-3.63-.27-1.82-.21-1.81-.29-1.82-.37-1.82-.45-1.81-.56-1.82-.69-1.82-.83-1.81-1.01-1.82-1.22-1.81-1.49-1.82-1.81-1.82-2.23-1.81-2.76-1.82-3.48-1.82-4.45zM151.43 154.68l1.81 5.11 1.82 4 1.81 3.19 1.82 2.59 1.82 2.11 1.81 1.75 1.82 1.45 1.82 1.21 1.81 1 1.82 .84 1.81 .71 1.82 .58 1.82 .48 1.81 .39 1.82 .31 3.63 .43 3.63 .22 3.64 .05 3.63-.08 3.63-.2 5.45-.46 5.45-.63 5.45-.75 5.45-.85 7.26-1.26 7.27-1.37 7.26-1.46 7.27-1.54 9.08-2 18.16-4.2 21.8-5.3-1.4-.29-21.8 5.35-18.16 4.25-9.08 2.04-7.26 1.56-7.27 1.5-7.26 1.41-7.27 1.31-5.45 .89-5.45 .8-5.45 .67-5.44 .53-3.64 .25-3.63 .14-3.63 .01-3.63-.14-3.64-.34-1.81-.27-1.82-.33-1.82-.42-1.81-.52-1.82-.62-1.81-.76-1.82-.92-1.82-1.1-1.81-1.33-1.82-1.6-1.82-1.96-1.81-2.39-1.82-2.97-1.81-3.72-1.82-4.76zM152.82 151.64l1.82 5.5 1.81 4.32 1.82 3.45 1.82 2.8 1.81 2.3 1.82 1.91 1.82 1.58 1.81 1.33 1.82 1.11 1.81 .94 1.82 .78 1.82 .66 1.81 .55 1.82 .45 1.82 .37 1.81 .3 1.82 .24 3.63 .3 3.63 .13 3.64-.02 3.63-.14 5.45-.39 5.45-.56 5.44-.7 5.45-.8 7.27-1.21 7.26-1.33 7.27-1.42 7.26-1.5 9.09-1.97 9.08-2.04 9.08-2.11 21.79-5.24-1.39-.23-21.8 5.3-18.16 4.2-9.08 2-7.27 1.54-7.26 1.46-7.27 1.37-7.26 1.26-5.45 .85-5.45 .75-5.45 .63-5.45 .46-3.63 .2-3.63 .08-3.64-.05-3.63-.22-3.63-.43-1.82-.31-1.81-.39-1.82-.48-1.82-.58-1.81-.71-1.82-.84-1.81-1-1.82-1.21-1.82-1.45-1.81-1.75-1.82-2.11-1.82-2.59-1.81-3.19-1.82-4-1.81-5.11zM154.22 148.04l1.81 5.95 1.82 4.68 1.82 3.75 1.81 3.06 1.82 2.51 1.82 2.08 1.81 1.75 1.82 1.46 1.81 1.24 1.82 1.04 1.82 .89 1.81 .74 1.82 .63 1.82 .52 1.81 .44 1.82 .36 1.81 .29 3.64 .4 3.63 .22 3.63 .05 3.63-.07 5.45-.31 5.45-.49 5.45-.63 5.45-.75 7.27-1.15 7.26-1.27 7.27-1.38 7.26-1.47 9.08-1.92 9.08-2.01 9.08-2.07 10.9-2.56 10.9-2.62-1.4-.17-21.79 5.24-9.08 2.11-9.08 2.04-9.09 1.97-7.26 1.5-7.27 1.42-7.26 1.33-7.27 1.21-5.45 .8-5.44 .7-5.45 .56-5.45 .39-3.63 .14-3.64 .02-3.63-.13-3.63-.3-1.82-.24-1.81-.3-1.82-.37-1.82-.45-1.81-.55-1.82-.66-1.82-.78-1.81-.94-1.82-1.11-1.81-1.33-1.82-1.58-1.82-1.91-1.81-2.3-1.82-2.8-1.82-3.45-1.81-4.32-1.82-5.5zM155.61 143.74l1.82 6.48 1.82 5.11 1.81 4.09 1.82 3.35 1.82 2.75 1.81 2.3 1.82 1.93 1.81 1.63 1.82 1.37 1.82 1.18 1.81 .99 1.82 .85 1.82 .72 1.81 .61 1.82 .51 1.81 .43 1.82 .35 3.63 .52 3.64 .32 3.63 .14 3.63 0 5.45-.21 5.45-.4 5.45-.56 5.45-.69 7.26-1.08 7.27-1.21 7.26-1.33 7.27-1.42 9.08-1.87 9.08-1.97 9.08-2.04 10.9-2.52 10.9-2.59-1.4-.08-10.9 2.62-10.9 2.56-9.08 2.07-9.08 2.01-9.08 1.92-7.26 1.47-7.27 1.38-7.26 1.27-7.27 1.15-5.45 .75-5.45 .63-5.45 .49-5.45 .31-3.63 .07-3.63-.05-3.63-.22-3.64-.4-1.81-.29-1.82-.36-1.81-.44-1.82-.52-1.82-.63-1.81-.74-1.82-.89-1.82-1.04-1.81-1.24-1.82-1.46-1.81-1.75-1.82-2.08-1.82-2.51-1.81-3.06-1.82-3.75-1.82-4.68-1.81-5.95zM157.01 138.56l1.82 7.1 1.81 5.6 1.82 4.51 1.82 3.69 1.81 3.04 1.82 2.55 1.81 2.14 1.82 1.82 1.82 1.55 1.81 1.32 1.82 1.13 1.82 .96 1.81 .83 1.82 .71 1.81 .6 1.82 .52 1.82 .43 1.81 .36 1.82 .29 3.63 .43 3.63 .25 3.64 .09 5.45-.09 5.44-.31 5.45-.48 5.45-.61 7.27-.99 7.26-1.15 7.27-1.27 7.26-1.36 9.08-1.82 9.08-1.91 9.09-2 10.89-2.47 10.9-2.56-1.39 .02-10.9 2.59-10.9 2.52-9.08 2.04-9.08 1.97-9.08 1.87-7.27 1.42-7.26 1.33-7.27 1.21-7.26 1.08-5.45 .69-5.45 .56-5.45 .4-5.45 .21-3.63 0-3.63-.14-3.64-.32-3.63-.52-1.82-.35-1.81-.43-1.82-.51-1.81-.61-1.82-.72-1.82-.85-1.81-.99-1.82-1.18-1.82-1.37-1.81-1.63-1.82-1.93-1.81-2.3-1.82-2.75-1.82-3.35-1.81-4.09-1.82-5.11-1.82-6.48zM158.41 132.24l1.81 7.84 1.82 6.2 1.82 5 1.81 4.09 1.82 3.4 1.82 2.84 1.81 2.4 1.82 2.04 1.81 1.75 1.82 1.5 1.82 1.29 1.81 1.11 1.82 .96 1.82 .82 1.81 .72 1.82 .61 1.81 .52 1.82 .44 1.82 .38 3.63 .57 3.63 .36 3.63 .2 1.82 .05 3.63 0 5.45-.19 5.45-.38 5.45-.52 7.26-.89 7.27-1.06 7.26-1.2 7.27-1.3 9.08-1.75 9.08-1.85 9.08-1.95 10.9-2.42 10.9-2.51-1.4 .15-10.9 2.56-10.89 2.47-9.09 2-9.08 1.91-9.08 1.82-7.26 1.36-7.27 1.27-7.26 1.15-7.27 .99-5.45 .61-5.45 .48-5.44 .31-5.45 .09-3.64-.09-3.63-.25-3.63-.43-1.82-.29-1.81-.36-1.82-.43-1.82-.52-1.81-.6-1.82-.71-1.81-.83-1.82-.96-1.82-1.13-1.81-1.32-1.82-1.55-1.82-1.82-1.81-2.14-1.82-2.55-1.81-3.04-1.82-3.69-1.82-4.51-1.81-5.6-1.82-7.1zM159.8 124.4l1.82 8.75 1.82 6.92 1.81 5.6 1.82 4.59 1.81 3.81 1.82 3.21 1.82 2.72 1.81 2.32 1.82 1.98 1.82 1.72 1.81 1.48 1.82 1.29 1.81 1.12 1.82 .97 1.82 .84 1.81 .73 1.82 .64 1.82 .54 1.81 .47 1.82 .4 1.81 .34 3.64 .51 3.63 .33 1.82 .11 3.63 .11 5.45-.04 5.45-.26 5.44-.42 7.27-.77 7.26-.96 7.27-1.1 7.26-1.22 9.09-1.67 9.08-1.78 9.08-1.88 10.9-2.36 10.89-2.45-1.39 .32-10.9 2.51-10.9 2.42-9.08 1.95-9.08 1.85-9.08 1.75-7.27 1.3-7.26 1.2-7.27 1.06-7.26 .89-5.45 .52-5.45 .38-5.45 .19-3.63 0-1.82-.05-3.63-.2-3.63-.36-3.63-.57-1.82-.38-1.82-.44-1.81-.52-1.82-.61-1.81-.72-1.82-.82-1.82-.96-1.81-1.11-1.82-1.29-1.82-1.5-1.81-1.75-1.82-2.04-1.81-2.4-1.82-2.84-1.82-3.4-1.81-4.09-1.82-5-1.82-6.2-1.81-7.84zM161.2 114.5l1.82 9.87 1.81 7.83 1.82 6.33 1.81 5.21 1.82 4.34 1.82 3.66 1.81 3.11 1.82 2.66 1.82 2.29 1.81 1.98 1.82 1.73 1.82 1.5 1.81 1.31 1.82 1.15 1.81 1.01 1.82 .88 1.82 .77 1.81 .68 1.82 .59 1.81 .51 1.82 .44 3.63 .7 3.64 .49 1.81 .18 3.64 .25 5.44 .13 5.45-.1 5.45-.29 7.27-.62 7.26-.83 7.27-1 7.26-1.12 9.08-1.56 9.08-1.7 9.08-1.8 10.9-2.28 10.9-2.38-1.4 .57-10.89 2.45-10.9 2.36-9.08 1.88-9.08 1.78-9.09 1.67-7.26 1.22-7.27 1.1-7.26 .96-7.27 .77-5.44 .42-5.45 .26-5.45 .04-3.63-.11-1.82-.11-3.63-.33-3.64-.51-1.81-.34-1.82-.4-1.81-.47-1.82-.54-1.82-.64-1.81-.73-1.82-.84-1.82-.97-1.81-1.12-1.82-1.29-1.81-1.48-1.82-1.72-1.82-1.98-1.81-2.32-1.82-2.72-1.82-3.21-1.81-3.81-1.82-4.59-1.81-5.6-1.82-6.92-1.82-8.75z"/>
<path fill="none" stroke="#1f1fea" stroke-width="0.9" d="M258.02 171.05l9.99-2.19 9.99-2.27M232.18 175.86l9.08-1.78 10.9-2.3M217.23 178.13l8.17-1.48 8.18-1.61M209.55 178.91l8.17-1.45 8.17-1.59M198.23 180.12l7.27-1.16 7.26-1.31M192.37 180.35l6.35-.98 6.36-1.11M184.68 180.74l5.45-.77 5.45-.88M177 180.98l4.54-.54 4.54-.65M172.95 180.74l4.54-.55 4.54-.65M165.27 180.76l4.54-.42 4.54-.56M163.03 180.25l3.64-.36 3.63-.45M157.17 179.98l3.63-.29 3.63-.4M151.3 179.6l3.63-.2 3.64-.33M149.07 179.01l2.72-.17 2.73-.24M143.2 178.5l3.63-.12 3.64-.28M140.97 177.87l2.72-.11 2.73-.19M136.92 177.23l2.72-.06 2.73-.16M132.87 176.54l2.72-.01 2.72-.12M128.82 175.81l2.72 .05 2.72-.08M126.58 175.11l2.73 .02 2.72-.1M122.53 174.32l2.73 .09 2.72-.06M120.3 173.59l1.81 .06 1.82-.01M116.25 172.73l2.72 .14 2.73-.01M114.01 171.99l1.82 .09 1.82 .02M109.96 171.06l2.73 .21 2.72 .03M107.73 170.29l1.82 .14 1.81 .06M103.68 169.28l1.82 .23M101.44 168.5l1.82 .21 1.82 .11M99.21 167.71l1.82 .19 1.81 .09M95.16 166.62l1.82 .28 1.81 .17M92.93 165.82l1.81 .26 1.82 .15M90.69 165l1.82 .25 1.82 .13"/>
<path fill="none" stroke="#1f1fdc" stroke-width="0.9" d="M278 166.59l5.45-1.27M288.9 164.04l3.63-.87M252.16 171.78l14.53-3.25 16.34-3.85M233.58 175.04l11.8-2.49 13.62-3.07M225.89 175.87l10.9-2.29 12.72-2.84M212.76 177.65l9.08-1.79 10.9-2.32M205.08 178.26l9.08-1.75 10.9-2.3M195.58 179.09l8.17-1.48 8.18-1.64M186.08 179.79l7.27-1.21 9.08-1.72M182.03 179.54l7.27-1.21 7.26-1.37M174.35 179.78l6.36-.96 6.35-1.12M170.3 179.44l6.36-.96 6.35-1.11M164.43 179.29l5.45-.75 5.45-.89M158.57 179.07l5.44-.67 5.45-.84M154.52 178.6l5.44-.64 5.45-.82M150.47 178.1l4.54-.5 4.54-.63M146.42 177.57l4.54-.47 4.54-.61M142.37 177.01l4.54-.44 4.54-.59M138.31 176.41l4.55-.39 4.54-.56M134.26 175.78l4.55-.34 4.54-.53M132.03 175.03l3.63-.28 3.64-.41M127.98 174.35l3.63-.23 3.64-.37M123.93 173.64l3.63-.18 3.64-.33M121.7 172.86l2.72-.14 2.73-.23M117.65 172.1l3.63-.14 3.63-.3M115.41 171.3l2.73-.11 2.72-.2M111.36 170.49l3.63-.08 3.64-.28M110.94 169.65l3.64-.21M105.08 168.82l2.72 .01 2.73-.12M102.84 167.99l2.73-.01 2.72-.14M98.79 167.07l2.73 .08 2.72-.07M96.56 166.23l2.72 .06 2.73-.09M94.33 165.38l2.72 .04 2.72-.11M92.09 164.52l1.82 .03 1.81-.04M89.86 163.65l1.81 .02 1.82-.05M85.81 162.68l1.81 .09 1.82 .01M83.57 161.81l1.82 .08 1.82-.01M81.34 160.93l1.82 .06 1.81-.02M77.29 159.89l1.81 .15 1.82 .05M75.05 159.01l1.82 .13 1.82 .04M72.82 158.11l1.82 .12 1.81 .03M70.59 157.22l1.81 .1 1.82 .02M68.35 156.31l1.82 .1M66.12 155.4l1.81 .08M63.88 154.48l1.82 .07M61.65 153.56l1.82 .06M55.37 151.55l1.81 .15M53.13 150.63l1.82 .13"/>
<path fill="none" stroke="#1f1ff8" stroke-width="0.9" d="M226.73 176.87l5.45-1.01M208.15 179.56l4.54-.68 4.54-.75M198.65 180.52l5.45-.75 5.45-.86M189.15 181.26l4.54-.52 4.54-.62M183.29 181.44l4.54-.49 4.54-.6M175.6 181.64l4.54-.38 4.54-.52M169.74 181.56l3.63-.23 3.63-.35M165.69 181.3l3.63-.23 3.63-.33M159.82 181.02l2.72-.09 2.73-.17M155.77 180.61l3.63-.11 3.63-.25M151.72 180.15l2.72-.04 2.73-.13M145.85 179.56l2.73 .08 2.72-.04M143.62 179.04l2.72 .04 2.73-.07M139.57 178.41l1.81 .07 1.82 .02M135.52 177.71l2.72 .15 2.73 .01M131.47 176.94l2.72 .22 2.73 .07M129.23 176.33l1.82 .15 1.82 .06M125.18 175.48l1.82 .21 1.82 .12M122.95 174.84l1.82 .18 1.81 .09M118.9 173.9l1.82 .26 1.81 .16M116.67 173.23l1.81 .23 1.82 .13M112.61 172.2l1.82 .33 1.82 .2M110.38 171.5l1.82 .3 1.81 .19M108.15 170.78l1.81 .28M105.91 170.04l1.82 .25M99.63 168.17l1.81 .33M97.39 167.4l1.82 .31"/>
<path fill="none" stroke="#1f1fce" stroke-width="0.9" d="M283.03 164.68l14.53-3.53M259 169.48l17.26-4.08 19.07-4.69M249.51 170.74l18.16-4.28 21.79-5.38M232.74 173.54l15.44-3.52 17.25-4.13M225.06 174.21l14.53-3.28 16.35-3.9M211.93 175.97l12.71-2.75 14.53-3.36M202.43 176.86l10.9-2.27 12.71-2.86M196.56 176.96l10.9-2.26 12.71-2.84M187.06 177.7l9.99-1.96 11.81-2.55M183.01 177.37l9.08-1.78 10.9-2.34M175.33 177.65l9.08-1.69 10.9-2.28M169.46 177.56l8.18-1.46 9.99-2.03M165.41 177.14l7.27-1.29 9.08-1.81M159.55 176.97l7.26-1.22 9.08-1.77M155.5 176.49l7.26-1.2 9.08-1.76M151.45 175.98l6.35-1.01 8.18-1.54M147.4 175.46l6.35-1 6.36-1.16M143.35 174.91l6.35-.96 6.36-1.15M139.3 174.34l5.44-.78 5.45-.94M135.25 173.75l2.72-.35 3.63-.54 6.36-1.1M131.2 173.13l5.44-.7 5.45-.89M127.15 172.49l5.44-.66 5.45-.85M124.91 171.66l5.45-.69 5.45-.88M120.86 170.99l4.54-.51 4.54-.67M118.63 170.13l4.54-.53 4.54-.68M114.58 169.44l4.54-.48 4.54-.65M110.53 168.71l4.54-.42 4.54-.61M108.29 167.84l4.54-.44 4.54-.63M104.24 167.08l1.82-.12 2.72-.25 4.54-.58M102.01 166.2l1.81-.13 2.73-.26 4.54-.6M99.77 165.31l3.64-.31 3.63-.45M95.72 164.51l3.64-.24 3.63-.4M93.49 163.62l3.63-.26 3.63-.42M89.44 162.78l3.63-.18 3.63-.36M87.21 161.88l3.63-.2 3.63-.38M84.97 160.97l3.63-.22 3.64-.39M80.92 160.09l1.82-.03 1.81-.09 3.64-.33M78.69 159.18l1.81-.04 1.82-.1 3.63-.35M76.45 158.26l2.73-.1 2.72-.22M74.22 157.34l2.72-.11 2.73-.23M70.17 156.41l1.82 0 1.81-.07 3.63-.3M67.93 155.48l2.73-.03 2.72-.18M65.7 154.55l2.73-.05 2.72-.19M63.47 153.62l2.72-.07 2.73-.2M59.42 152.63l1.81 .05 1.82-.03 3.63-.26M57.18 151.7l2.73 .02 2.72-.13M54.95 150.76l2.72 .01 2.73-.15"/>
<path fill="none" stroke="#1f26ff" stroke-width="0.9" d="M191.39 181.31l1.81-.17M183.7 181.72l5.45-.46M176.02 181.92l3.63-.19 3.64-.29M170.15 181.86l2.73-.07 2.72-.15M166.1 181.66l3.64-.1M160.24 181.36l2.72 .02 2.73-.08M158 181.03l1.82-.01M152.14 180.54l3.63 .07M146.27 179.85l2.72 .22 2.73 .08M142.22 179.22l1.82 .21 1.81 .13M139.99 178.77l1.81 .17 1.82 .1M137.75 178.26l1.82 .15M127.42 176.1l1.81 .23"/>
<path fill="none" stroke="#1f1fc0" stroke-width="0.9" d="M289.46 161.08l3.64-.91M265.43 165.89l25.43-6.35M255.94 167.03l15.43-3.81 17.26-4.37M239.17 169.86l9.99-2.4 11.81-2.91 25.42-6.45M226.04 171.73l9.99-2.35 11.81-2.87 12.71-3.17 14.53-3.69M220.17 171.86l9.99-2.35 10.9-2.65 24.52-6.16M208.86 173.19l9.08-2.08 9.08-2.16 21.8-5.38M202.99 173.25l8.17-1.86 9.09-2.14 20.88-5.14M195.31 173.68l7.26-1.62 8.18-1.9 19.07-4.63M187.63 174.07l7.26-1.59 7.27-1.66 16.34-3.91M181.76 174.04l6.36-1.37 7.26-1.63 8.17-1.91 9.09-2.19M175.89 173.98l6.36-1.34 7.27-1.62 15.43-3.64M171.84 173.53l6.36-1.34 6.36-1.41 14.53-3.4M165.98 173.43l5.45-1.12 6.35-1.38 13.62-3.14M160.11 173.3l5.45-1.09 5.45-1.15 12.71-2.88M156.06 172.8l5.45-1.08 5.45-1.15 12.71-2.87M150.19 172.62l5.45-1.04 5.45-1.12 6.36-1.38 6.35-1.45M147.96 171.76l9.08-1.81 10.9-2.4M142.09 171.54l4.54-.83 5.45-1.09 5.45-1.16 6.36-1.42M138.04 170.98l4.54-.82 4.54-.89 10.9-2.33M135.81 170.09l8.17-1.54 9.99-2.14M129.94 169.81l3.63-.61 4.55-.85 9.98-2.07M127.71 168.92l3.63-.63 4.54-.86 9.99-2.09M123.66 168.31l7.26-1.27 9.08-1.85M119.61 167.68l3.63-.58 3.63-.65 9.08-1.82M117.37 166.77l6.36-1.08 8.17-1.63M113.32 166.13l6.36-1.04 8.17-1.6M111.09 165.21l6.36-1.06 8.17-1.61M107.04 164.55l6.36-1.02 8.17-1.58M102.99 163.87l2.72-.38 3.64-.58 3.63-.66 4.54-.88M100.75 162.94l5.45-.83 7.27-1.34M96.7 162.24l2.73-.36 3.63-.56 3.63-.64 4.54-.88M94.47 161.3l5.45-.79 7.26-1.32M92.24 160.36l5.45-.8 5.44-.98M88.19 159.64l2.72-.34 2.72-.41 3.64-.61 3.63-.68M85.95 158.69l5.45-.76 5.45-.95M81.9 157.94l2.73-.31 2.72-.38 3.63-.59 3.64-.66M79.67 157l2.72-.32 2.73-.39 5.45-.93M77.43 156.04l2.73-.32 2.72-.4 5.45-.94M73.38 155.27l2.73-.29 2.72-.36 5.45-.89M71.15 154.31l2.72-.29 2.73-.37 5.45-.9M68.92 153.35l4.54-.54 4.54-.72M66.68 152.39l4.54-.56 4.54-.73M62.63 151.59l1.82-.16 2.72-.32 2.73-.39 3.63-.61M60.4 150.62l1.81-.16 2.73-.33 4.54-.69"/>
<path fill="none" stroke="#1f34ff" stroke-width="0.9" d="M174.2 181.96l1.82-.04M150.32 180.41l1.82 .13"/>
<path fill="none" stroke="#1f1fb2" stroke-width="0.9" d="M275.08 159.65l9.08-2.34M265.58 160.7l16.35-4.21M248.82 163.57l14.53-3.7 16.34-4.23M241.13 164.11l17.26-4.39 19.07-4.96M229.82 165.53l20.88-5.29 24.52-6.37M218.5 166.91l11.81-2.93 12.71-3.22 29.97-7.8M212.64 166.94l11.8-2.93 13.62-3.46 15.44-3.99 17.26-4.52M204.95 167.38l13.63-3.35 14.53-3.69 16.34-4.23 19.07-5.01M199.09 167.38l13.62-3.35 15.44-3.91 18.16-4.71 19.98-5.26M191.4 167.79l12.72-3.09 14.53-3.65 17.25-4.45 19.07-5M183.72 168.18l11.81-2.84 14.53-3.61 15.44-3.95 18.16-4.74M179.67 167.7l11.81-2.83 13.62-3.39 15.44-3.95 17.25-4.5M173.8 167.63l10.9-2.59 11.81-2.91 13.62-3.45 16.35-4.24M167.94 167.55l10.9-2.56 11.8-2.9 13.62-3.44 16.35-4.23M163.89 167.04l9.99-2.34 10.89-2.66 12.72-3.2 15.44-3.97M158.02 166.94l9.99-2.32 10.9-2.64 12.71-3.18 13.62-3.5M153.97 166.41l9.08-2.09 10.9-2.62 11.81-2.95 13.62-3.48M148.1 166.28l9.09-2.06 9.99-2.38 11.8-2.92 12.71-3.23M145.87 165.34l8.17-1.86 9.99-2.38 10.9-2.7 12.71-3.23M140 165.19l8.18-1.82 9.08-2.14 10.9-2.67 11.8-2.98M135.95 164.63l7.27-1.6 9.08-2.12 9.99-2.43 11.81-2.96M131.9 164.06l7.27-1.58 9.08-2.11 9.99-2.42 11.8-2.96M127.85 163.49l7.27-1.57 8.17-1.88 9.99-2.4 10.9-2.72M125.62 162.54l7.26-1.59 8.18-1.89 9.08-2.19 9.99-2.49M121.57 161.95l7.26-1.56 7.27-1.66 8.17-1.96 9.99-2.47M117.52 161.37l6.36-1.35 8.17-1.85 8.17-1.95 9.99-2.46M113.47 160.77l6.36-1.33 8.17-1.83 8.17-1.94 9.99-2.46M111.23 159.8l6.36-1.33 6.36-1.43 7.26-1.71 9.08-2.21M107.18 159.19l6.36-1.31 7.27-1.62 8.17-1.92 9.08-2.23M103.13 158.58l6.36-1.29 6.36-1.4 7.26-1.68 9.08-2.2M100.9 157.6l5.45-1.1 6.36-1.39 7.26-1.69 8.17-1.97M96.85 156.98l6.36-1.28 6.35-1.38 7.27-1.68 9.08-2.2M94.62 156l5.44-1.09 5.45-1.18 7.27-1.66 7.26-1.74M90.57 155.36l5.44-1.06 6.36-1.36 7.27-1.66 8.17-1.96M88.33 154.38l5.45-1.07 5.45-1.17 7.26-1.66 7.27-1.73M84.28 153.73l5.45-1.04 5.45-1.15 6.36-1.43 8.17-1.93M82.05 152.75l4.54-.87 5.45-1.14 6.35-1.42 7.27-1.72M78 152.09l4.54-.84 5.45-1.12 6.35-1.4 7.27-1.7M75.76 151.1l4.54-.85 5.45-1.12 6.36-1.41 7.26-1.71M73.53 150.11l4.54-.85 5.45-1.13 5.45-1.21 6.35-1.49M69.48 149.44l4.54-.82 5.45-1.11 6.35-1.4 7.27-1.69"/>
<path fill="none" stroke="#1f1fa4" stroke-width="0.9" d="M254.97 151.6l9.08-2.41M243.66 153.04l18.16-4.81M237.79 153.03l21.8-5.77M226.48 154.44l30.87-8.16M220.61 154.42l34.51-9.13M212.93 154.87l18.16-4.77 21.79-5.8M205.24 155.3l20.89-5.47 24.52-6.52M199.38 155.27l22.7-5.95 26.34-7.01M191.69 155.69l24.52-6.4 29.97-7.99M187.64 155.17l25.43-6.64 30.88-8.23M179.96 155.58l27.25-7.09 34.5-9.2M174.1 155.52l12.71-3.27 15.44-4.04 37.23-9.94M170.04 154.99l13.63-3.5 15.43-4.05 38.15-10.18M164.18 154.92l13.62-3.49 16.35-4.28 40.86-10.91M160.13 154.38l14.53-3.72 16.34-4.28 19.07-5.06 22.71-6.1M154.26 154.3l14.53-3.7 17.26-4.51 20.88-5.55 23.61-6.35M150.21 153.76l14.53-3.7 18.16-4.74 20.89-5.55 24.52-6.6M146.16 153.21l14.53-3.69 18.16-4.74 21.8-5.79 25.43-6.85M140.29 153.12l15.44-3.91 19.07-4.97 22.71-6.03 26.33-7.09M138.06 152.11l15.44-3.91 19.07-4.98 22.7-6.04 26.34-7.09M132.19 152.01l16.35-4.12 19.07-4.97 23.61-6.28 28.15-7.59M128.14 151.45l16.35-4.11 19.07-4.96 24.52-6.52 29.06-7.84M125.91 150.44l16.35-4.12 19.07-4.97 24.52-6.52 29.06-7.84M120.04 150.33l16.35-4.09 19.98-5.19 25.43-6.76 30.87-8.34M117.81 149.32l16.35-4.1 19.97-5.2 25.43-6.76 30.88-8.34M113.76 148.75l16.35-4.09 20.88-5.42 25.43-6.77 31.78-8.59M109.71 148.18l16.34-4.07 20.89-5.42 26.34-7.01 32.69-8.84M105.66 147.6l16.34-4.05 20.89-5.42 27.25-7.24 33.6-9.09M101.61 147.03l16.34-4.04 21.8-5.65 27.24-7.25 34.51-9.33M99.37 146.01l16.35-4.05 21.8-5.65 27.24-7.25 34.51-9.34M95.32 145.43l16.35-4.03 21.8-5.64 28.15-7.49 35.41-9.59M93.09 144.42l16.35-4.04 21.79-5.65 28.15-7.5 35.42-9.59"/>
<path fill="none" stroke="#1f1fdc" stroke-width="0.88" d="M56.7 151.86l-2.8-1.16M79.84 160.55l-8.38-3.37-9.77-4.04M87.63 162.88l-6.98-2.8-6.99-2.86M105.19 168.82l-7.68-2.91-7.68-3.02M112.97 170.9l-1.39-.51M107.39 168.84l-9.77-3.79M119.36 172.38l-6.98-2.56-6.98-2.68M125.75 173.79l-6.98-2.51-6.98-2.67M130.75 174.65l-6.28-2.24-6.29-2.37M138.54 176.4l-5.59-1.9-5.58-2.03M143.53 177.14l-5.59-1.87-5.58-2M148.52 177.84l-5.58-1.83-5.59-1.97M152.12 178.06l-4.89-1.59-4.88-1.7M157.11 178.67l-5.58-1.77-5.59-1.93M162.11 179.23l-4.89-1.47-4.88-1.63M165.71 179.36l-4.19-1.24-4.19-1.36M169.3 179.46l-4.18-1.22-4.19-1.35M172.9 179.53l-4.19-1.19-4.19-1.33M176.5 179.59l-3.49-.97-3.49-1.07M180.1 179.61l-3.49-.93-3.49-1.05M183.7 179.62l-3.5-.91-3.49-1.03M187.29 179.6l-4.19-1.06-4.18-1.25M189.49 179.24l-3.49-.89-3.49-1.02M193.09 179.19l-2.79-.67-2.79-.76M196.69 179.12l-3.49-.81-3.49-.97M198.89 178.73l-2.79-.65-2.79-.75M202.49 178.62l-3.49-.77-3.49-.95M204.69 178.23l-2.79-.63-2.79-.74M208.29 178.09l-2.79-.58-2.8-.7M210.49 177.67l-2.79-.59-2.79-.72M214.09 177.5l-2.79-.54-2.8-.67M216.29 177.08l-2.79-.56-2.8-.69M219.89 176.87l-2.8-.49-2.79-.65M222.09 176.44l-2.79-.51-2.8-.66M224.29 176l-2.09-.38-2.1-.47M227.89 175.75l-2.79-.45-2.8-.62M230.09 175.31l-2.79-.48-2.8-.63M233.69 175.02l-2.79-.39-2.8-.57M235.89 174.57l-2.79-.41-2.8-.59M238.09 174.11l-2.09-.3-2.1-.41M240.29 173.64l-2.09-.31-2.1-.41M242.49 173.17l-2.09-.32-2.1-.43M246.09 172.84l-2.09-.24-2.1-.37M248.29 172.37l-2.09-.26-2.1-.38M250.49 171.89l-2.09-.27-2.09-.39M254.09 171.51l-1.39-.1-1.4-.18-2.79-.5M256.29 171.03l-2.09-.19-2.1-.34M258.5 170.55l-2.1-.21-2.09-.35M260.7 170.06l-2.1-.22-2.09-.36M262.9 169.57l-1.4-.14-1.39-.2M266.5 169.13l-2.1-.13-2.09-.29M268.7 168.64l-2.1-.14-2.09-.3M270.9 168.14l-2.1-.15-2.09-.31M273.1 167.64l-2.09-.16-2.1-.32M275.3 167.14l-1.39-.1-1.4-.17M277.5 166.63l-1.39-.1-1.4-.18M281.1 166.14l-2.09-.07-2.1-.25M283.3 165.64l-2.09-.08-2.1-.26M282.71 164.96l-1.39-.19M292.11 163.58l-1.4-.06-1.39-.14M292.91 162.99l-1.39-.15M295.12 162.46l-1.4-.15M297.32 161.93l-1.4-.16M299.52 161.4l-1.4-.17"/>
<path fill="none" stroke="#1f1ff8" stroke-width="0.88" d="M102.18 168.88l-5.58-1.96M114.16 172.49l-4.19-1.37-4.19-1.44M126.13 175.73l-4.19-1.21-4.19-1.32M132.52 177.14l-4.19-1.16-4.19-1.28M137.52 178.06l-3.5-.94-3.49-1.02M142.51 178.89l-3.49-.91-3.49-1M147.5 179.62l-3.49-.86-3.49-.97M153.89 180.55l-3.49-.75-3.49-.89M157.49 180.83l-2.79-.58-2.79-.68M161.09 181.05l-2.79-.57-2.8-.66M164.69 181.22l-2.8-.55-2.79-.65M168.28 181.35l-2.79-.52-2.79-.64M173.28 181.63l-2.79-.43-2.8-.56M176.88 181.65l-2.8-.38-2.79-.54M179.08 181.48l-2.1-.3-2.09-.39M182.68 181.44l-2.1-.26-2.09-.36M186.27 181.36l-2.09-.22-2.09-.33M189.87 181.23l-2.09-.17-2.1-.29M192.07 180.99l-2.79-.29M195.67 180.8l-2.09-.14-2.1-.26M197.87 180.53l-2.79-.25M201.47 180.29l-1.4-.05-1.39-.12M203.67 179.99l-1.39-.07-1.4-.13M205.87 179.67l-1.39-.08M209.47 179.37l-1.4-.03-1.39-.1M211.67 179.04l-1.39-.05-1.4-.11M213.87 178.69l-1.39-.06M216.08 178.32l-1.4-.07M227.67 176.77l-1.39 .03M229.88 176.38l-1.4 .02M232.08 175.98l-1.4 0"/>
<path fill="none" stroke="#1f1fea" stroke-width="0.88" d="M96.6 166.92l-5.59-2.06M105.78 169.68l-6.28-2.27-6.29-2.36M117.75 173.2l-4.18-1.4-4.19-1.46M124.14 174.7l-5.58-1.84-5.59-1.96M130.53 176.1l-5.58-1.79-5.59-1.93M135.53 176.98l-4.89-1.53-4.89-1.66M140.52 177.79l-4.88-1.5-4.89-1.64M146.91 178.91l-4.19-1.2-4.18-1.31M151.91 179.57l-4.19-1.15-4.19-1.28M155.5 179.82l-3.49-.94-3.49-1.04M159.1 180.02l-3.49-.93-3.49-1.03M162.7 180.19l-2.79-.72-2.8-.8M167.69 180.64l-2.79-.66-2.79-.75M171.29 180.73l-2.79-.64-2.79-.73M174.89 180.79l-2.79-.62-2.8-.71M178.49 180.82l-2.8-.59-2.79-.7M182.09 180.81l-2.8-.55-2.79-.67M185.68 180.77l-2.79-.52-2.79-.64M189.28 180.7l-2.79-.47-2.79-.61M191.48 180.4l-2.09-.36-2.1-.44M195.08 180.28l-2.79-.45-2.8-.59M198.68 180.12l-2.79-.38-2.8-.55M200.88 179.79l-2.1-.29-2.09-.38M204.48 179.59l-2.8-.34-2.79-.52M206.68 179.24l-2.1-.25-2.09-.37M208.88 178.88l-2.09-.28-2.1-.37M212.48 178.63l-2.1-.22-2.09-.32M214.68 178.25l-2.1-.23-2.09-.35M218.28 177.95l-2.1-.16-2.09-.29M220.48 177.56l-2.1-.18-2.09-.3M224.08 177.2l-2.1-.09-2.09-.24M226.28 176.8l-2.1-.11-2.09-.25M228.48 176.4l-2.1-.13-2.09-.27M230.68 175.98l-1.4-.08-1.39-.15M234.28 175.56l-2.1-.04-2.09-.21M236.48 175.14l-1.4-.02-1.39-.1M238.68 174.71l-1.39-.03-1.4-.11M240.88 174.28l-1.39-.05-1.4-.12M243.08 173.83l-1.39-.06-1.4-.13M246.68 173.36l-2.09 0-2.1-.19M248.88 172.91l-1.39 .01-1.4-.08M251.09 172.46l-1.4 0-1.4-.09M253.29 172l-1.4-.01-1.4-.1M255.49 171.53l-1.4-.02M257.69 171.06l-1.4-.03M261.29 170.53l-1.4 .06-1.39-.04M263.49 170.06l-1.4 .05-1.39-.05M265.69 169.58l-1.4 .04-1.39-.05M267.89 169.1l-1.39 .03M270.09 168.62l-1.39 .02M272.3 168.13l-1.4 .01M274.5 167.64l-1.4 0M276.7 167.14l-1.4 0M278.9 166.64l-1.4-.01"/>
<path fill="none" stroke="#1f1fce" stroke-width="0.88" d="M61.69 153.14l-5.59-2.35M73.66 157.22l-15.35-6.47M89.83 162.89l-11.87-4.86-13.26-5.61M97.62 165.05l-10.48-4.25-11.86-4.98M105.4 167.14l-10.47-4.21-11.87-4.96M111.79 168.61l-9.77-3.9-11.17-4.63M118.18 170.04l-9.07-3.58-10.48-4.32M127.37 172.47l-8.38-3.21-9.78-3.94M132.36 173.27l-7.68-2.92-9.08-3.62M137.35 174.04l-7.68-2.9-9.07-3.61M142.35 174.77l-6.98-2.6-8.38-3.29M145.94 174.97l-6.28-2.33-7.68-3.01M152.34 176.13l-6.29-2.26-7.68-2.95M157.33 176.76l-6.28-2.22-7.68-2.91M160.93 176.89l-6.29-2.2-7.68-2.91M164.52 177.01l-5.58-1.94-6.98-2.61M169.52 177.55l-5.59-1.88-6.98-2.56M173.12 177.63l-5.59-1.86-6.98-2.55M176.71 177.68l-5.58-1.83-6.98-2.54M178.92 177.29l-5.59-1.86-5.58-2.03M182.51 177.33l-5.58-1.84-5.59-2.02M187.51 177.76l-4.89-1.52-6.28-2.19M189.71 177.34l-4.89-1.54-4.88-1.7M193.31 177.33l-4.89-1.51-4.89-1.68M195.51 176.9l-4.89-1.53-4.89-1.69M199.11 176.86l-4.89-1.49-4.89-1.67M202.7 176.81l-4.88-1.45-4.89-1.64M204.91 176.36l-4.19-1.24-4.19-1.39M208.5 176.29l-4.19-1.2-4.18-1.36M210.7 175.83l-4.18-1.22-4.19-1.37M214.3 175.73l-4.19-1.16-4.19-1.35M216.5 175.27l-3.49-.97-3.49-1.1M220.1 175.15l-4.19-1.13-4.19-1.32M222.3 174.68l-3.49-.94-3.49-1.08M224.5 174.2l-3.49-.96-3.49-1.09M228.1 174.06l-3.49-.91-3.49-1.05M230.3 173.57l-3.49-.91-3.49-1.07M233.9 173.4l-3.49-.85-3.49-1.03M236.1 172.92l-3.49-.88-3.49-1.03M238.3 172.42l-3.49-.88-3.49-1.05M241.9 172.23l-3.49-.82-3.49-1M244.1 171.73l-3.49-.83-3.49-1.01M246.31 171.23l-2.8-.66-2.79-.78M248.51 170.73l-2.8-.67-2.79-.79M252.1 170.5l-3.49-.78-3.49-.98M254.31 169.99l-2.8-.61-2.79-.76M256.51 169.48l-2.79-.62-2.8-.76M260.11 169.23l-1.4-.26-2.09-.46-3.5-.95M262.31 168.71l-1.4-.26-2.09-.47-3.49-.95M264.51 168.2l-2.79-.58-2.8-.72M266.71 167.68l-2.79-.59-2.79-.73M268.91 167.16l-2.79-.6-2.79-.74M272.51 166.87l-2.79-.52-2.8-.68M274.71 166.35l-2.79-.53-2.79-.69M276.91 165.82l-2.79-.53-2.79-.7M279.11 165.3l-2.79-.55-2.79-.71M281.32 164.77l-2.8-.56-2.79-.71M284.91 164.44l-2.79-.46-2.79-.65M287.11 163.91l-2.79-.47-2.79-.66M289.32 163.38l-2.8-.48-2.79-.67M291.52 162.84l-2.79-.49-2.8-.67M293.72 162.31l-2.79-.5-2.8-.68M295.92 161.77l-2.09-.36-2.1-.47M298.12 161.23l-2.09-.37-2.1-.47"/>
<path fill="none" stroke="#1f26ff" stroke-width="0.88" d="M128.92 176.48l-2.79-.75M143.1 179.33l-2.79-.59-2.79-.68M148.09 180.08l-2.79-.55-2.79-.64M151.69 180.48l-4.19-.86M155.29 180.81l-1.4-.26M161.68 181.48l-2.09-.29-2.1-.36M163.88 181.5l-2.79-.45M167.48 181.64l-2.79-.42M172.47 181.87l-2.09-.21-2.1-.31M177.47 181.94l-2.1-.1-2.09-.21M179.67 181.86l-2.79-.21M181.87 181.73l-2.79-.25M185.47 181.62l-2.79-.18M189.07 181.46l-1.4-.02-1.4-.08M192.66 181.24l-1.39 .03-1.4-.04M193.47 181.05l-1.4-.06"/>
<path fill="none" stroke="#1f1fc0" stroke-width="0.88" d="M64.7 152.42l-4.19-1.81M75.28 155.82l-12.57-5.42M83.06 157.97l-18.15-7.84M90.85 160.08l-11.17-4.77-12.57-5.49M98.63 162.14l-13.96-5.95-15.36-6.72M109.21 165.32l-13.96-5.86-16.75-7.29M115.6 166.73l-13.26-5.54-16.06-6.95M120.6 167.53l-12.57-5.23-15.36-6.63M126.99 168.88l-12.57-5.19-15.36-6.61M131.98 169.63l-12.56-5.17-13.97-5.98M138.37 170.92l-11.17-4.53-12.56-5.33M143.37 171.63l-11.17-4.5-12.57-5.31M146.96 171.78l-10.47-4.21-11.87-5M151.96 172.46l-10.47-4.18-11.87-4.98M156.95 173.11l-9.77-3.85-11.17-4.64M160.55 173.22l-9.08-3.56-10.47-4.33M164.15 173.31l-9.08-3.54-10.47-4.33M167.75 173.4l-8.38-3.26-9.78-4.01M171.34 173.47l-8.37-3.24-9.78-4M176.34 174.05l-8.38-3.18-9.77-3.97M179.94 174.1l-4.19-1.55-4.19-1.61-9.78-3.96M183.53 174.14l-7.68-2.87-9.07-3.64M185.73 173.68l-6.98-2.62-8.37-3.36M189.33 173.7l-7.68-2.86-9.07-3.64M192.93 173.72l-6.98-2.57-8.38-3.32M196.53 173.73l-6.98-2.55-8.38-3.3M200.13 173.73l-6.99-2.52-8.37-3.28M202.33 173.24l-6.29-2.27-7.68-3M205.92 173.22l-6.28-2.23-7.68-2.98M209.52 173.2l-6.28-2.21-7.68-2.95M211.72 172.7l-6.28-2.22-7.68-2.96M215.32 172.66l-6.28-2.18-7.68-2.94M217.52 172.15l-6.28-2.19-7.68-2.95M221.12 172.1l-5.58-1.9-6.98-2.62M223.32 171.59l-5.58-1.91-6.98-2.64M226.92 171.52l-5.58-1.87-6.99-2.6M229.12 171.01l-5.58-1.88-6.98-2.62M231.32 170.49l-4.88-1.65-6.29-2.33M234.92 170.41l-2.79-.89-2.79-.96-6.98-2.59M237.12 169.89l-4.88-1.62-6.29-2.31M240.72 169.79l-2.79-.87-2.79-.94-3.49-1.25-3.5-1.32M242.92 169.27l-4.88-1.58-6.29-2.29M245.12 168.74l-4.88-1.59-6.29-2.3M248.72 168.62l-4.89-1.54-6.28-2.25M250.92 168.1l-4.88-1.56-6.29-2.26M253.12 167.56l-4.88-1.56-4.89-1.75M255.33 167.03l-4.89-1.57-4.89-1.76M258.92 166.9l-4.18-1.29-5.59-1.95M261.13 166.36l-4.19-1.29-5.59-1.97M263.33 165.82l-4.19-1.3-5.59-1.97M266.92 165.67l-2.09-.59-2.79-.88-2.79-.95-3.5-1.26M269.13 165.13l-4.19-1.25-5.59-1.94M271.33 164.59l-4.19-1.26-5.59-1.95M273.53 164.04l-4.19-1.27-5.58-1.95M275.73 163.5l-4.19-1.28-4.19-1.45M279.33 163.33l-4.19-1.22-2.79-.92-2.8-.98M281.53 162.78l-4.19-1.22-2.79-.93-2.79-.99M283.73 162.23l-4.19-1.23-4.19-1.42M285.93 161.68l-4.19-1.24-4.18-1.43M288.13 161.13l-4.18-1.25-4.19-1.43M291.73 160.94l-2.09-.56-2.1-.62-2.79-.9-2.79-.98M293.93 160.39l-2.09-.56-2.09-.63-4.19-1.39"/>
<path fill="none" stroke="#1f34ff" stroke-width="0.88" d="M153.09 180.71l-1.4-.23M173.87 181.95l-1.4-.08"/>
<path fill="none" stroke="#1f1fb2" stroke-width="0.88" d="M78.5 152.17l-6.98-3.09M86.28 154.24l-12.56-5.57M92.67 155.67l-16.75-7.43M99.06 157.08l-20.94-9.29M105.45 158.48l-11.86-5.22-13.27-5.93M114.64 161.06l-14.66-6.41-17.46-7.8M119.63 161.82l-16.06-7.02-18.85-8.44M124.62 162.57l-17.45-7.63-20.24-9.08M129.62 163.3l-8.38-3.62-9.77-4.3-22.34-10.03M136.01 164.62l-9.08-3.9-10.47-4.59-11.87-5.3-13.26-5.99M141 165.33l-9.07-3.89-10.47-4.58-11.87-5.29-13.27-5.99M144.6 165.44l-9.08-3.88-9.77-4.28-11.17-4.97-11.87-5.35M149.59 166.13l-9.07-3.87-9.77-4.26-11.17-4.96-11.87-5.35M153.19 166.23l-8.38-3.57-9.77-4.25-10.47-4.65-11.87-5.34M158.19 166.9l-7.68-3.24-9.08-3.93-9.77-4.31-11.17-5.01M161.78 166.98l-7.68-3.24-9.07-3.92-9.77-4.31-11.17-5.01M166.78 167.63l-7.68-3.21-9.08-3.91-9.77-4.29-11.17-5M170.38 167.7l-7.68-3.2-8.38-3.6-9.77-4.29-10.48-4.68M172.58 167.2l-6.98-2.93-8.38-3.6-9.08-3.98-10.47-4.68M177.57 167.83l-6.98-2.9-7.68-3.28-9.07-3.96-9.78-4.34M181.17 167.88l-6.98-2.88-7.68-3.28-9.08-3.96-9.77-4.34M184.77 167.93l-6.98-2.88-7.68-3.26-9.08-3.96-9.77-4.34M188.36 167.97l-6.28-2.57-7.68-3.25-8.38-3.64-9.77-4.32M191.96 168.01l-6.28-2.56-7.68-3.24-7.68-3.33-9.07-4M195.56 168.04l-6.28-2.55-6.98-2.93-8.38-3.62-9.08-4M197.76 167.52l-6.28-2.56-6.98-2.94-7.68-3.32-8.38-3.69M201.36 167.54l-6.28-2.54-6.98-2.94-7.68-3.31-8.38-3.68M203.56 167.01l-6.28-2.56-6.29-2.64-6.98-3-8.37-3.68M208.56 167.58l-5.59-2.23-6.98-2.9-6.98-2.99-8.38-3.66M210.76 167.04l-5.59-2.24-6.98-2.9-6.98-2.99-8.38-3.67M214.35 167.05l-5.58-2.22-6.98-2.9-6.98-2.98-8.38-3.66M216.56 166.51l-5.59-2.23-6.28-2.61-6.98-2.98-7.68-3.35M220.15 166.51l-5.58-2.21-6.28-2.6-6.99-2.97-7.68-3.34M222.36 165.97l-5.59-2.22-5.58-2.31-6.29-2.67-7.68-3.34M225.95 165.96l-5.58-2.2-5.59-2.29-6.28-2.66-7.68-3.33M228.15 165.41l-5.58-2.2-5.59-2.3-6.28-2.67-7.68-3.33M231.75 165.4l-5.58-2.19-5.59-2.28-6.28-2.65-7.68-3.33M233.95 164.85l-4.88-1.91-5.59-2.28-6.28-2.65-6.98-3.02M237.55 164.83l-4.89-1.89-5.58-2.27-6.28-2.63-6.98-3.02M239.75 164.28l-4.88-1.9-5.59-2.27-6.28-2.64-6.98-3.02M243.35 164.25l-4.89-1.88-5.58-2.25-6.28-2.63-6.99-3M245.55 163.7l-4.88-1.89-4.89-1.97-5.59-2.33-6.98-2.99M249.15 163.66l-4.89-1.86-4.88-1.95-5.59-2.32-6.98-2.98M251.35 163.1l-4.89-1.86-4.88-1.96-5.59-2.32-6.98-2.99M253.55 162.55l-4.88-1.87-4.89-1.97-5.59-2.32-6.98-2.99M255.75 161.99l-4.18-1.6-4.89-1.96-5.59-2.32-6.28-2.69M259.35 161.94l-4.88-1.85-4.89-1.95-5.59-2.31-6.98-2.99M261.55 161.38l-4.18-1.58-4.89-1.94-5.59-2.31-6.28-2.68M263.76 160.82l-4.19-1.59-4.89-1.95-10.47-4.39M267.35 160.77l-4.19-1.57-4.88-1.92-5.59-2.3-6.28-2.67M269.55 160.21l-4.18-1.57-4.89-1.93-5.59-2.31-6.28-2.67M271.76 159.64l-4.19-1.57-4.19-1.66-5.59-2.29-5.58-2.37M275.35 159.58l-4.18-1.55-4.19-1.63-5.59-2.28-5.58-2.35M277.56 159.01l-4.19-1.55-4.19-1.64-5.59-2.28-5.58-2.35M279.76 158.45l-4.19-1.56-4.19-1.64-5.59-2.29-5.58-2.36M281.96 157.88l-4.19-1.56-4.19-1.65-9.77-4.05M285.56 157.81l-4.19-1.53-4.19-1.63-5.59-2.27-5.58-2.35"/>
<path fill="none" stroke="#1f1fa4" stroke-width="0.88" d="M96.32 145.58l-2.79-1.27M102.71 146.96l-6.98-3.18M107.71 147.69l-9.78-4.44M112.7 148.42l-12.57-5.71M120.49 150.41l-18.15-8.25M124.09 150.5l-19.55-8.89M129.08 151.22l-22.34-10.16M134.07 151.93l-25.13-11.43M137.67 152.01l-26.53-12.07M144.06 153.35l-13.96-6.31-16.76-7.66M147.66 153.42l-14.66-6.62-17.45-7.99M151.26 153.49l-15.36-6.93-18.15-8.31M156.25 154.19l-16.75-7.56-19.55-8.95M161.25 154.88l-17.46-7.86-21.64-9.91M164.84 154.94l-18.15-8.17-22.34-10.24M168.44 155.01l-18.85-8.49-23.04-10.56M172.04 155.07l-19.55-8.8-23.74-10.89M175.64 155.13l-19.55-8.79-25.13-11.54M180.63 155.8l-9.77-4.35-11.17-5.05-26.53-12.18M182.83 155.24l-9.77-4.36-11.17-5.05-26.53-12.19M186.43 155.29l-10.47-4.67-11.17-5.05-27.23-12.51M190.03 155.34l-9.78-4.35-11.86-5.36-28.63-13.16M193.62 155.39l-10.47-4.66-11.87-5.36-29.32-13.48M197.22 155.43l-10.47-4.65-12.57-5.67-30.01-13.81M200.82 155.48l-10.47-4.65-12.57-5.67-14.66-6.7-16.75-7.75M203.02 154.91l-10.47-4.65-12.57-5.68-14.66-6.71-16.75-7.74M206.62 154.95l-11.17-4.95-12.57-5.68-14.66-6.71-17.45-8.07M210.22 154.99l-11.17-4.95-13.27-5.98-15.36-7.04-17.45-8.07M213.82 155.02l-11.17-4.93-13.27-5.98-16.06-7.35-18.15-8.4M216.02 154.45l-11.17-4.94-13.27-5.99-16.05-7.35-18.16-8.4M219.61 154.49l-11.17-4.93-13.96-6.3-16.05-7.36-18.85-8.72M223.21 154.52l-11.17-4.92-13.96-6.29-16.76-7.68-19.54-9.05M226.81 154.55l-11.87-5.22-13.96-6.29-16.76-7.67-20.24-9.38M229.01 153.97l-11.87-5.22-13.96-6.3-16.75-7.67-20.25-9.38M231.21 153.4l-11.87-5.24-13.96-6.29-16.75-7.68-20.25-9.39M234.81 153.42l-11.87-5.22-14.66-6.6-17.45-8.01-20.25-9.38M237.01 152.84l-11.87-5.22-14.66-6.61-17.45-8.01-20.25-9.39M240.61 152.87l-11.87-5.21-14.66-6.61-17.45-8-21.64-10.03M244.21 152.89l-12.57-5.51-14.66-6.6-18.15-8.32-21.64-10.04M246.41 152.31l-12.57-5.51-14.66-6.61-18.15-8.32-21.64-10.05M248.61 151.73l-12.57-5.52-14.66-6.61-18.15-8.33-21.64-10.04M252.21 151.75l-12.57-5.5-14.66-6.6-18.85-8.65-22.34-10.37M255.81 151.77l-12.57-5.49-15.36-6.91-18.85-8.64-23.04-10.7M258.01 151.19l-12.57-5.5-15.36-6.91-18.85-8.65-23.03-10.7M260.21 150.6l-12.57-5.49-15.36-6.92-18.84-8.65-23.04-10.7M263.81 150.62l-12.57-5.48-15.36-6.91-19.55-8.97-23.73-11.02M266.01 150.03l-12.57-5.48-15.36-6.91-19.54-8.97-23.74-11.03"/>
<path d="M52.71 150.92l1.82 .28-1.4-.57-1.81-.28z" stroke="#1f1fdc"/>
<path d="M50.9 150.45l1.81 .47-1.39-.57-1.82-.46z" stroke="#1f1fea"/>
<path d="M54.11 151.49l1.81 .29-1.39-.58-1.82-.28z" stroke="#1f1fdc"/>
<path d="M52.29 151l1.82 .49-1.4-.57-1.81-.47z" stroke="#1f1fea"/>
<path d="M55.5 152.06l1.82 .3 1.82 .15-1.4-.58-1.82-.15-1.81-.29zm1.82 .3l-1.4-.58" stroke="#1f1fdc"/>
<path d="M53.69 151.56l1.81 .5-1.39-.57-1.82-.49z" stroke="#1f1fea"/>
<path d="M56.9 152.62l1.82 .31 1.81 .17-1.39-.59-1.82-.15-1.82-.3zm1.82 .31l-1.4-.57" stroke="#1f1fdc"/>
<path d="M55.08 152.11l1.82 .51-1.4-.56-1.81-.5z" stroke="#1f1fea"/>
<path d="M60.11 153.5l1.82 .17-1.4-.57-1.81-.17z" stroke="#1f1fdc"/>
<path d="M56.48 152.66l1.82 .52 1.81 .32-1.39-.57-1.82-.31-1.82-.51zm1.82 .52l-1.4-.56" stroke="#1f1fea"/>
<path d="M61.51 154.07l1.82 .18-1.4-.58-1.82-.17z" stroke="#1f1fdc"/>
<path d="M57.88 153.2l1.81 .54 1.82 .33-1.4-.57-1.81-.32-1.82-.52zm1.81 .54l-1.39-.56" stroke="#1f1fea"/>
<path d="M62.91 154.64l1.81 .19-1.39-.58-1.82-.18z" stroke="#1f1fdc"/>
<path d="M59.27 153.75l1.82 .55 1.82 .34-1.4-.57-1.82-.33-1.81-.54zm1.82 .55l-1.4-.56" stroke="#1f1fea"/>
<path d="M64.3 155.2l1.82 .2-1.4-.57-1.81-.19z" stroke="#1f1fdc"/>
<path d="M60.67 154.29l1.82 .56 1.81 .35-1.39-.56-1.82-.34-1.82-.55zm1.82 .56l-1.4-.55" stroke="#1f1fea"/>
<path d="M65.7 155.76l1.81 .21-1.39-.57-1.82-.2z" stroke="#1f1fdc"/>
<path d="M63.88 155.4l1.82 .36-1.4-.56-1.81-.35z" stroke="#1f1fea"/>
<path d="M62.07 154.82l1.81 .58-1.39-.55-1.82-.56z" stroke="#1f1ff8"/>
<path d="M67.09 156.32l1.82 .22-1.4-.57-1.81-.21z" stroke="#1f1fdc"/>
<path d="M65.28 155.95l1.81 .37-1.39-.56-1.82-.36z" stroke="#1f1fea"/>
<path d="M63.46 155.36l1.82 .59-1.4-.55-1.81-.58z" stroke="#1f1ff8"/>
<path d="M68.49 156.88l1.82 .22-1.4-.56-1.82-.22z" stroke="#1f1fdc"/>
<path d="M66.67 156.49l1.82 .39-1.4-.56-1.81-.37z" stroke="#1f1fea"/>
<path d="M64.86 155.89l1.81 .6-1.39-.54-1.82-.59z" stroke="#1f1ff8"/>
<path d="M69.89 157.43l1.81 .24-1.39-.57-1.82-.22z" stroke="#1f1fdc"/>
<path d="M68.07 157.03l1.82 .4-1.4-.55-1.82-.39z" stroke="#1f1fea"/>
<path d="M66.25 156.42l1.82 .61-1.4-.54-1.81-.6z" stroke="#1f1ff8"/>
<path d="M69.47 157.57l1.81 .41 1.82 .25-1.4-.56-1.81-.24-1.82-.4zm1.81 .41l-1.39-.55" stroke="#1f1fea"/>
<path d="M67.65 156.94l1.82 .63-1.4-.54-1.82-.61z" stroke="#1f1ff8"/>
<path d="M70.86 158.11l1.82 .42 1.82 .25-1.4-.55-1.82-.25-1.81-.41zm1.82 .42l-1.4-.55" stroke="#1f1fea"/>
<path d="M69.05 157.46l1.81 .65-1.39-.54-1.82-.63z" stroke="#1f1ff8"/>
<path d="M72.26 158.64l1.82 .43 1.81 .27-1.39-.56-1.82-.25-1.82-.42zm1.82 .43l-1.4-.54" stroke="#1f1fea"/>
<path d="M70.44 157.98l1.82 .66-1.4-.53-1.81-.65z" stroke="#1f1ff8"/>
<path d="M73.66 159.17l1.81 .44 1.82 .28-1.4-.55-1.81-.27-1.82-.43zm1.81 .44l-1.39-.54" stroke="#1f1fea"/>
<path d="M71.84 158.49l1.82 .68-1.4-.53-1.82-.66z" stroke="#1f1ff8"/>
<path d="M75.05 159.69l1.82 .46 1.81 .29-1.39-.55-1.82-.28-1.81-.44zm1.82 .46l-1.4-.54" stroke="#1f1fea"/>
<path d="M73.24 159l1.81 .69-1.39-.52-1.82-.68z" stroke="#1f1ff8"/>
<path d="M80.08 160.98l1.82 .17-1.4-.56-1.82-.15z" stroke="#1f1fdc"/>
<path d="M78.26 160.68l1.82 .3-1.4-.54-1.81-.29z" stroke="#1f1fea"/>
<path d="M74.63 159.5l1.82 .71 1.81 .47-1.39-.53-1.82-.46-1.81-.69zm1.82 .71l-1.4-.52" stroke="#1f1ff8"/>
<path d="M81.48 161.52l1.81 .18-1.39-.55-1.82-.17z" stroke="#1f1fdc"/>
<path d="M79.66 161.21l1.82 .31-1.4-.54-1.82-.3z" stroke="#1f1fea"/>
<path d="M76.03 160l1.81 .73 1.82 .48-1.4-.53-1.81-.47-1.82-.71zm1.81 .73l-1.39-.52" stroke="#1f1ff8"/>
<path d="M81.06 161.74l1.81 .32 1.82 .19-1.4-.55-1.81-.18-1.82-.31zm1.81 .32l-1.39-.54" stroke="#1f1fea"/>
<path d="M79.24 161.24l1.82 .5-1.4-.53-1.82-.48z" stroke="#1f1ff8"/>
<path d="M77.42 160.49l1.82 .75-1.4-.51-1.81-.73z" stroke="#1f26ff"/>
<path d="M82.45 162.26l1.82 .34 1.82 .19-1.4-.54-1.82-.19-1.81-.32zm1.82 .34l-1.4-.54" stroke="#1f1fea"/>
<path d="M80.64 161.75l1.81 .51-1.39-.52-1.82-.5z" stroke="#1f1ff8"/>
<path d="M78.82 160.98l1.82 .77-1.4-.51-1.82-.75z" stroke="#1f26ff"/>
<path d="M87.48 163.33l1.82 .1-1.4-.55-1.81-.09z" stroke="#1f1fdc"/>
<path d="M83.85 162.78l1.82 .35 1.81 .2-1.39-.54-1.82-.19-1.82-.34zm1.82 .35l-1.4-.53" stroke="#1f1fea"/>
<path d="M82.03 162.25l1.82 .53-1.4-.52-1.81-.51z" stroke="#1f1ff8"/>
<path d="M80.22 161.46l1.81 .79-1.39-.5-1.82-.77z" stroke="#1f26ff"/>
<path d="M88.88 163.87l1.81 .11-1.39-.55-1.82-.1z" stroke="#1f1fdc"/>
<path d="M85.25 163.29l1.81 .36 1.82 .22-1.4-.54-1.81-.2-1.82-.35zm1.81 .36l-1.39-.52" stroke="#1f1fea"/>
<path d="M83.43 162.75l1.82 .54-1.4-.51-1.82-.53z" stroke="#1f1ff8"/>
<path d="M81.61 161.94l1.82 .81-1.4-.5-1.81-.79z" stroke="#1f26ff"/>
<path d="M90.27 164.41l1.82 .11-1.4-.54-1.81-.11z" stroke="#1f1fdc"/>
<path d="M88.46 164.18l1.81 .23-1.39-.54-1.82-.22z" stroke="#1f1fea"/>
<path d="M84.83 163.24l1.81 .56 1.82 .38-1.4-.53-1.81-.36-1.82-.54zm1.81 .56l-1.39-.51" stroke="#1f1ff8"/>
<path d="M83.01 162.41l1.82 .83-1.4-.49-1.82-.81z" stroke="#1f26ff"/>
<path d="M89.85 164.69l1.82 .24 1.82 .13-1.4-.54-1.82-.11-1.81-.23zm1.82 .24l-1.4-.52" stroke="#1f1fea"/>
<path d="M86.22 163.72l1.82 .59 1.81 .38-1.39-.51-1.82-.38-1.81-.56zm1.82 .59l-1.4-.51" stroke="#1f1ff8"/>
<path d="M84.41 162.88l1.81 .84-1.39-.48-1.82-.83z" stroke="#1f26ff"/>
<path d="M87.62 164.21l1.81 .6 1.82 .4-1.4-.52-1.81-.38-1.82-.59zm1.81 .6l-1.39-.5" stroke="#1f1ff8"/>
<path d="M85.8 163.34l1.82 .87-1.4-.49-1.81-.84z" stroke="#1f26ff"/>
<path d="M90.83 165.3l1.82 .41-1.4-.5-1.82-.4z" stroke="#1f1ff8"/>
<path d="M89.01 164.68l1.82 .62-1.4-.49-1.81-.6z" stroke="#1f26ff"/>
<path d="M87.2 163.79l1.81 .89-1.39-.47-1.82-.87z" stroke="#1f34ff"/>
<path d="M92.23 165.79l1.81 .43-1.39-.51-1.82-.41z" stroke="#1f1ff8"/>
<path d="M90.41 165.15l1.82 .64-1.4-.49-1.82-.62z" stroke="#1f26ff"/>
<path d="M88.59 164.24l1.82 .91-1.4-.47-1.81-.89z" stroke="#1f34ff"/>
<path d="M93.62 166.27l1.82 .44-1.4-.49-1.81-.43z" stroke="#1f1ff8"/>
<path d="M91.81 165.61l1.81 .66-1.39-.48-1.82-.64z" stroke="#1f26ff"/>
<path d="M89.99 164.67l1.82 .94-1.4-.46-1.82-.91z" stroke="#1f34ff"/>
<path d="M95.02 166.74l1.82 .47-1.4-.5-1.82-.44z" stroke="#1f1ff8"/>
<path d="M93.2 166.07l1.82 .67-1.4-.47-1.81-.66z" stroke="#1f26ff"/>
<path d="M91.39 165.1l1.81 .97-1.39-.46-1.82-.94z" stroke="#1f34ff"/>
<path d="M96.42 167.21l1.81 .48-1.39-.48-1.82-.47z" stroke="#1f1ff8"/>
<path d="M94.6 166.52l1.82 .69-1.4-.47-1.82-.67z" stroke="#1f26ff"/>
<path d="M92.78 165.53l1.82 .99-1.4-.45-1.81-.97z" stroke="#1f34ff"/>
<path d="M97.81 167.67l1.82 .5-1.4-.48-1.81-.48z" stroke="#1f1ff8"/>
<path d="M96 166.96l1.81 .71-1.39-.46-1.82-.69z" stroke="#1f26ff"/>
<path d="M94.18 165.94l1.82 1.02-1.4-.44-1.82-.99z" stroke="#1f34ff"/>
<path d="M106.47 169.33l1.82 .03 1.82-.03-1.4-.53-1.82 .04-1.81-.02zm1.82 .03l-1.4-.52" stroke="#1f1fdc"/>
<path d="M104.66 169.21l1.81 .12-1.39-.51-1.82-.11z" stroke="#1f1fea"/>
<path d="M97.39 167.39l1.82 .74 1.81 .51-1.39-.47-1.82-.5-1.81-.71zm1.82 .74l-1.4-.46" stroke="#1f26ff"/>
<path d="M95.58 166.35l1.81 1.04-1.39-.43-1.82-1.02z" stroke="#1f34ff"/>
<path d="M109.69 169.88l1.81-.02-1.39-.53-1.82 .03z" stroke="#1f1fdc"/>
<path d="M106.05 169.71l1.82 .12 1.82 .05-1.4-.52-1.82-.03-1.81-.12zm1.82 .12l-1.4-.5" stroke="#1f1fea"/>
<path d="M102.42 169.11l1.82 .36-1.4-.48-1.82-.35z" stroke="#1f1ff8"/>
<path d="M100.6 168.57l1.82 .54-1.4-.47-1.81-.51z" stroke="#1f26ff"/>
<path d="M98.79 167.81l1.81 .76-1.39-.44-1.82-.74z" stroke="#1f34ff"/>
<path d="M96.97 166.74l1.82 1.07-1.4-.42-1.81-1.04z" stroke="#1f42ff"/>
<path d="M111.08 170.39l1.82-.01-1.4-.52-1.81 .02z" stroke="#1f1fdc"/>
<path d="M107.45 170.19l1.82 .14 1.81 .06-1.39-.51-1.82-.05-1.82-.12zm1.82 .14l-1.4-.5" stroke="#1f1fea"/>
<path d="M103.82 169.57l1.81 .38-1.39-.48-1.82-.36z" stroke="#1f1ff8"/>
<path d="M102 169.01l1.82 .56-1.4-.46-1.82-.54z" stroke="#1f26ff"/>
<path d="M100.18 168.23l1.82 .78-1.4-.44-1.81-.76z" stroke="#1f34ff"/>
<path d="M98.37 167.13l1.81 1.1-1.39-.42-1.82-1.07z" stroke="#1f42ff"/>
<path d="M105.21 170.02l1.82 .4-1.4-.47-1.81-.38z" stroke="#1f1ff8"/>
<path d="M103.4 169.44l1.81 .58-1.39-.45-1.82-.56z" stroke="#1f26ff"/>
<path d="M101.58 168.63l1.82 .81-1.4-.43-1.82-.78z" stroke="#1f34ff"/>
<path d="M99.76 167.5l1.82 1.13-1.4-.4-1.81-1.1z" stroke="#1f42ff"/>
<path d="M106.61 170.46l1.82 .41-1.4-.45-1.82-.4z" stroke="#1f1ff8"/>
<path d="M104.79 169.86l1.82 .6-1.4-.44-1.81-.58z" stroke="#1f26ff"/>
<path d="M102.98 169.03l1.81 .83-1.39-.42-1.82-.81z" stroke="#1f34ff"/>
<path d="M101.16 167.86l1.82 1.17-1.4-.4-1.82-1.13z" stroke="#1f42ff"/>
<path d="M106.19 170.28l1.82 .61 1.81 .44-1.39-.46-1.82-.41-1.82-.6zm1.82 .61l-1.4-.43" stroke="#1f26ff"/>
<path d="M104.37 169.41l1.82 .87-1.4-.42-1.81-.83z" stroke="#1f34ff"/>
<path d="M102.56 168.22l1.81 1.19-1.39-.38-1.82-1.17z" stroke="#1f42ff"/>
<path d="M109.4 171.32l1.82 .45-1.4-.44-1.81-.44z" stroke="#1f26ff"/>
<path d="M105.77 169.79l1.82 .89 1.81 .64-1.39-.43-1.82-.61-1.82-.87zm1.82 .89l-1.4-.4" stroke="#1f34ff"/>
<path d="M103.95 168.55l1.82 1.24-1.4-.38-1.81-1.19z" stroke="#1f50ff"/>
<path d="M110.8 171.73l1.81 .47-1.39-.43-1.82-.45z" stroke="#1f26ff"/>
<path d="M108.98 171.07l1.82 .66-1.4-.41-1.81-.64z" stroke="#1f34ff"/>
<path d="M107.17 170.15l1.81 .92-1.39-.39-1.82-.89z" stroke="#1f42ff"/>
<path d="M105.35 168.88l1.82 1.27-1.4-.36-1.82-1.24z" stroke="#1f50ff"/>
<path d="M114.01 172.63l1.82 .34-1.4-.44-1.82-.33z" stroke="#1f1ff8"/>
<path d="M112.19 172.13l1.82 .5-1.4-.43-1.81-.47z" stroke="#1f26ff"/>
<path d="M110.38 171.44l1.81 .69-1.39-.4-1.82-.66z" stroke="#1f34ff"/>
<path d="M108.56 170.5l1.82 .94-1.4-.37-1.81-.92z" stroke="#1f42ff"/>
<path d="M106.75 169.19l1.81 1.31-1.39-.35-1.82-1.27z" stroke="#1f50ff"/>
<path d="M113.59 172.53l1.82 .51 1.81 .36-1.39-.43-1.82-.34-1.82-.5zm1.82 .51l-1.4-.41" stroke="#1f26ff"/>
<path d="M111.77 171.81l1.82 .72-1.4-.4-1.81-.69z" stroke="#1f34ff"/>
<path d="M109.96 170.83l1.81 .98-1.39-.37-1.82-.94z" stroke="#1f42ff"/>
<path d="M108.14 169.49l1.82 1.34-1.4-.33-1.81-1.31z" stroke="#1f50ff"/>
<path d="M114.99 172.91l1.81 .53 1.82 .38-1.4-.42-1.81-.36-1.82-.51zm1.81 .53l-1.39-.4" stroke="#1f26ff"/>
<path d="M113.17 172.16l1.82 .75-1.4-.38-1.82-.72z" stroke="#1f34ff"/>
<path d="M111.35 171.15l1.82 1.01-1.4-.35-1.81-.98z" stroke="#1f42ff"/>
<path d="M109.54 169.76l1.81 1.39-1.39-.32-1.82-1.34z" stroke="#1f5eff"/>
<path d="M118.2 173.83l1.82 .4-1.4-.41-1.82-.38z" stroke="#1f26ff"/>
<path d="M116.38 173.27l1.82 .56-1.4-.39-1.81-.53z" stroke="#1f34ff"/>
<path d="M114.57 172.5l1.81 .77-1.39-.36-1.82-.75z" stroke="#1f42ff"/>
<path d="M112.75 171.45l1.82 1.05-1.4-.34-1.82-1.01z" stroke="#1f50ff"/>
<path d="M110.93 170.03l1.82 1.42-1.4-.3-1.81-1.39z" stroke="#1f5eff"/>
<path d="M119.6 174.21l1.81 .42 1.82 .29-1.4-.42-1.81-.27-1.82-.4zm1.81 .42l-1.39-.4" stroke="#1f26ff"/>
<path d="M117.78 173.63l1.82 .58-1.4-.38-1.82-.56z" stroke="#1f34ff"/>
<path d="M115.96 172.83l1.82 .8-1.4-.36-1.81-.77z" stroke="#1f42ff"/>
<path d="M114.15 171.74l1.81 1.09-1.39-.33-1.82-1.05z" stroke="#1f50ff"/>
<path d="M112.33 170.27l1.82 1.47-1.4-.29-1.82-1.42z" stroke="#1f5eff"/>
<path d="M120.99 174.58l1.82 .44 1.81 .3-1.39-.4-1.82-.29-1.81-.42zm1.82 .44l-1.4-.39" stroke="#1f26ff"/>
<path d="M119.18 173.96l1.81 .62-1.39-.37-1.82-.58z" stroke="#1f34ff"/>
<path d="M117.36 173.13l1.82 .83-1.4-.33-1.82-.8z" stroke="#1f42ff"/>
<path d="M115.54 172.01l1.82 1.12-1.4-.3-1.81-1.09z" stroke="#1f50ff"/>
<path d="M113.73 170.49l1.81 1.52-1.39-.27-1.82-1.47z" stroke="#1f5eff"/>
<path d="M124.2 175.39l1.82 .33-1.4-.4-1.81-.3z" stroke="#1f26ff"/>
<path d="M120.57 174.29l1.82 .64 1.81 .46-1.39-.37-1.82-.44-1.81-.62zm1.82 .64l-1.4-.35" stroke="#1f34ff"/>
<path d="M118.76 173.43l1.81 .86-1.39-.33-1.82-.83z" stroke="#1f42ff"/>
<path d="M116.94 172.26l1.82 1.17-1.4-.3-1.82-1.12z" stroke="#1f50ff"/>
<path d="M115.12 170.7l1.82 1.56-1.4-.25-1.81-1.52z" stroke="#1f6cff"/>
<path d="M125.6 175.75l1.82 .35-1.4-.38-1.82-.33z" stroke="#1f26ff"/>
<path d="M123.78 175.26l1.82 .49-1.4-.36-1.81-.46z" stroke="#1f34ff"/>
<path d="M121.97 174.59l1.81 .67-1.39-.33-1.82-.64z" stroke="#1f42ff"/>
<path d="M120.15 173.7l1.82 .89-1.4-.3-1.81-.86z" stroke="#1f50ff"/>
<path d="M118.34 172.5l1.81 1.2-1.39-.27-1.82-1.17z" stroke="#1f5eff"/>
<path d="M116.52 170.87l1.82 1.63-1.4-.24-1.82-1.56z" stroke="#1f6cff"/>
<path d="M127 176.09l1.81 .37-1.39-.36-1.82-.35z" stroke="#1f26ff"/>
<path d="M125.18 175.58l1.82 .51-1.4-.34-1.82-.49z" stroke="#1f34ff"/>
<path d="M123.36 174.88l1.82 .7-1.4-.32-1.81-.67z" stroke="#1f42ff"/>
<path d="M121.55 173.95l1.81 .93-1.39-.29-1.82-.89z" stroke="#1f50ff"/>
<path d="M119.73 172.7l1.82 1.25-1.4-.25-1.81-1.2z" stroke="#1f5eff"/>
<path d="M117.92 171.03l1.81 1.67-1.39-.2-1.82-1.63z" stroke="#1f6cff"/>
<path d="M130.21 176.81l1.82 .27-1.4-.36-1.82-.26z" stroke="#1f26ff"/>
<path d="M126.58 175.88l1.81 .54 1.82 .39-1.4-.35-1.81-.37-1.82-.51zm1.81 .54l-1.39-.33" stroke="#1f34ff"/>
<path d="M124.76 175.15l1.82 .73-1.4-.3-1.82-.7z" stroke="#1f42ff"/>
<path d="M122.94 174.18l1.82 .97-1.4-.27-1.81-.93z" stroke="#1f50ff"/>
<path d="M121.13 172.89l1.81 1.29-1.39-.23-1.82-1.25z" stroke="#1f5eff"/>
<path d="M119.31 171.16l1.82 1.73-1.4-.19-1.81-1.67z" stroke="#1f7aff"/>
<path d="M131.61 177.14l1.81 .3 1.82 .19-1.4-.37-1.81-.18-1.82-.27zm1.81 .3l-1.39-.36" stroke="#1f26ff"/>
<path d="M129.79 176.72l1.82 .42-1.4-.33-1.82-.39z" stroke="#1f34ff"/>
<path d="M126.16 175.4l1.81 .76 1.82 .56-1.4-.3-1.81-.54-1.82-.73zm1.81 .76l-1.39-.28" stroke="#1f42ff"/>
<path d="M124.34 174.39l1.82 1.01-1.4-.25-1.82-.97z" stroke="#1f50ff"/>
<path d="M122.52 173.05l1.82 1.34-1.4-.21-1.81-1.29z" stroke="#1f6cff"/>
<path d="M120.71 171.26l1.81 1.79-1.39-.16-1.82-1.73z" stroke="#1f7aff"/>
<path d="M133 177.46l1.82 .31 1.81 .22-1.39-.36-1.82-.19-1.81-.3zm1.82 .31l-1.4-.33" stroke="#1f26ff"/>
<path d="M131.19 177.01l1.81 .45-1.39-.32-1.82-.42z" stroke="#1f34ff"/>
<path d="M129.37 176.42l1.82 .59-1.4-.29-1.82-.56z" stroke="#1f42ff"/>
<path d="M127.55 175.62l1.82 .8-1.4-.26-1.81-.76z" stroke="#1f50ff"/>
<path d="M125.74 174.57l1.81 1.05-1.39-.22-1.82-1.01z" stroke="#1f5eff"/>
<path d="M123.92 173.18l1.82 1.39-1.4-.18-1.82-1.34z" stroke="#1f6cff"/>
<path d="M122.1 171.32l1.82 1.86-1.4-.13-1.81-1.79z" stroke="#1f88ff"/>
<path d="M136.21 178.09l1.82 .24-1.4-.34-1.81-.22z" stroke="#1f26ff"/>
<path d="M132.58 177.28l1.82 .47 1.81 .34-1.39-.32-1.82-.31-1.81-.45zm1.82 .47l-1.4-.29" stroke="#1f34ff"/>
<path d="M130.77 176.65l1.81 .63-1.39-.27-1.82-.59z" stroke="#1f42ff"/>
<path d="M128.95 175.82l1.82 .83-1.4-.23-1.82-.8z" stroke="#1f50ff"/>
<path d="M127.13 174.72l1.82 1.1-1.4-.2-1.81-1.05z" stroke="#1f5eff"/>
<path d="M125.32 173.28l1.81 1.44-1.39-.15-1.82-1.39z" stroke="#1f6cff"/>
<path d="M123.5 171.36l1.82 1.92-1.4-.1-1.82-1.86z" stroke="#1f88ff"/>
<path d="M137.61 178.39l1.82 .25-1.4-.31-1.82-.24z" stroke="#1f26ff"/>
<path d="M135.79 178.02l1.82 .37-1.4-.3-1.81-.34z" stroke="#1f34ff"/>
<path d="M132.16 176.86l1.82 .66 1.81 .5-1.39-.27-1.82-.47-1.81-.63zm1.82 .66l-1.4-.24" stroke="#1f42ff"/>
<path d="M130.35 175.99l1.81 .87-1.39-.21-1.82-.83z" stroke="#1f50ff"/>
<path d="M128.53 174.85l1.82 1.14-1.4-.17-1.82-1.1z" stroke="#1f5eff"/>
<path d="M126.71 173.35l1.82 1.5-1.4-.13-1.81-1.44z" stroke="#1f7aff"/>
<path d="M124.9 171.36l1.81 1.99-1.39-.07-1.82-1.92z" stroke="#1f88ff"/>
<path d="M137.19 178.27l1.82 .39 1.81 .28-1.39-.3-1.82-.25-1.82-.37zm1.82 .39l-1.4-.27" stroke="#1f34ff"/>
<path d="M135.38 177.74l1.81 .53-1.4-.25-1.81-.5z" stroke="#1f42ff"/>
<path d="M133.56 177.04l1.82 .7-1.4-.22-1.82-.66z" stroke="#1f50ff"/>
<path d="M131.74 176.13l1.82 .91-1.4-.18-1.81-.87z" stroke="#1f5eff"/>
<path d="M129.93 174.94l1.81 1.19-1.39-.14-1.82-1.14z" stroke="#1f6cff"/>
<path d="M128.11 173.38l1.82 1.56-1.4-.09-1.82-1.5z" stroke="#1f7aff"/>
<path d="M126.29 171.31l1.82 2.07-1.4-.03-1.81-1.99z" stroke="#1f96ff"/>
<path d="M140.4 178.91l1.82 .31-1.4-.28-1.81-.28z" stroke="#1f34ff"/>
<path d="M136.77 177.93l1.82 .56 1.81 .42-1.39-.25-1.82-.39-1.81-.53zm1.82 .56l-1.4-.22" stroke="#1f42ff"/>
<path d="M134.95 177.2l1.82 .73-1.39-.19-1.82-.7z" stroke="#1f50ff"/>
<path d="M133.14 176.24l1.81 .96-1.39-.16-1.82-.91z" stroke="#1f5eff"/>
<path d="M131.32 175l1.82 1.24-1.4-.11-1.81-1.19z" stroke="#1f6cff"/>
<path d="M129.51 173.37l1.81 1.63-1.39-.06-1.82-1.56z" stroke="#1f88ff"/>
<path d="M127.69 171.23l1.82 2.14-1.4 .01-1.82-2.07z" stroke="#1f96ff"/>
<path d="M141.8 179.14l1.82 .33 1.81 .23-1.39-.27-1.82-.21-1.82-.31zm1.82 .33l-1.4-.25" stroke="#1f34ff"/>
<path d="M139.98 178.69l1.82 .45-1.4-.23-1.81-.42z" stroke="#1f42ff"/>
<path d="M136.35 177.32l1.82 .77 1.81 .6-1.39-.2-1.82-.56-1.82-.73zm1.82 .77l-1.4-.16" stroke="#1f50ff"/>
<path d="M134.53 176.32l1.82 1-1.4-.12-1.81-.96z" stroke="#1f5eff"/>
<path d="M132.72 175.02l1.81 1.3-1.39-.08-1.82-1.24z" stroke="#1f7aff"/>
<path d="M130.9 173.32l1.82 1.7-1.4-.02-1.81-1.63z" stroke="#1f88ff"/>
<path d="M129.09 171.09l1.81 2.23-1.39 .05-1.82-2.14z" stroke="#1fa4ff"/>
<path d="M145.01 179.69l1.82 .26-1.4-.25-1.81-.23z" stroke="#1f34ff"/>
<path d="M141.38 178.85l1.82 .48 1.81 .36-1.39-.22-1.82-.33-1.82-.45zm1.82 .48l-1.4-.19" stroke="#1f42ff"/>
<path d="M139.56 178.22l1.82 .63-1.4-.16-1.81-.6z" stroke="#1f50ff"/>
<path d="M137.75 177.4l1.81 .82-1.39-.13-1.82-.77z" stroke="#1f5eff"/>
<path d="M135.93 176.35l1.82 1.05-1.4-.08-1.82-1z" stroke="#1f6cff"/>
<path d="M134.11 174.99l1.82 1.36-1.4-.03-1.81-1.3z" stroke="#1f7aff"/>
<path d="M132.3 173.23l1.81 1.76-1.39 .03-1.82-1.7z" stroke="#1f96ff"/>
<path d="M130.48 170.9l1.82 2.33-1.4 .09-1.81-2.23z" stroke="#1fa4ff"/>
<path d="M146.41 179.88l1.81 .29 1.82 .19-1.4-.24-1.81-.17-1.82-.26zm1.81 .29l-1.39-.22" stroke="#1f34ff"/>
<path d="M144.59 179.49l1.82 .39-1.4-.19-1.81-.36z" stroke="#1f42ff"/>
<path d="M140.96 178.31l1.82 .67 1.81 .51-1.39-.16-1.82-.48-1.82-.63zm1.82 .67l-1.4-.13" stroke="#1f50ff"/>
<path d="M139.14 177.45l1.82 .86-1.4-.09-1.81-.82z" stroke="#1f5eff"/>
<path d="M137.33 176.34l1.81 1.11-1.39-.05-1.82-1.05z" stroke="#1f6cff"/>
<path d="M135.51 174.92l1.82 1.42-1.4 .01-1.82-1.36z" stroke="#1f88ff"/>
<path d="M133.69 173.08l1.82 1.84-1.4 .07-1.81-1.76z" stroke="#1f96ff"/>
<path d="M131.88 170.66l1.81 2.42-1.39 .15-1.82-2.33z" stroke="#1fb2ff"/>
<path d="M149.62 180.35l1.82 .23-1.4-.22-1.82-.19z" stroke="#1f34ff"/>
<path d="M145.99 179.62l1.81 .42 1.82 .31-1.4-.18-1.81-.29-1.82-.39zm1.81 .42l-1.39-.16" stroke="#1f42ff"/>
<path d="M144.17 179.07l1.82 .55-1.4-.13-1.81-.51z" stroke="#1f50ff"/>
<path d="M142.36 178.36l1.81 .71-1.39-.09-1.82-.67z" stroke="#1f5eff"/>
<path d="M140.54 177.45l1.82 .91-1.4-.05-1.82-.86z" stroke="#1f6cff"/>
<path d="M138.72 176.29l1.82 1.16-1.4 0-1.81-1.11z" stroke="#1f7aff"/>
<path d="M136.91 174.8l1.81 1.49-1.39 .05-1.82-1.42z" stroke="#1f88ff"/>
<path d="M135.09 172.87l1.82 1.93-1.4 .12-1.82-1.84z" stroke="#1fa4ff"/>
<path d="M133.27 170.35l1.82 2.52-1.4 .21-1.81-2.42z" stroke="#1fc0ff"/>
<path d="M154.65 180.92l1.82 .11 1.81 .04-1.39-.24-1.82-.03-1.82-.08zm1.82 .11l-1.4-.23" stroke="#1f26ff"/>
<path d="M151.02 180.51l1.81 .24 1.82 .17-1.4-.2-1.81-.14-1.82-.23zm1.81 .24l-1.39-.17" stroke="#1f34ff"/>
<path d="M149.2 180.16l1.82 .35-1.4-.16-1.82-.31z" stroke="#1f42ff"/>
<path d="M145.57 179.12l1.81 .59 1.82 .45-1.4-.12-1.81-.42-1.82-.55zm1.81 .59l-1.39-.09" stroke="#1f50ff"/>
<path d="M143.75 178.37l1.82 .75-1.4-.05-1.81-.71z" stroke="#1f5eff"/>
<path d="M141.94 177.4l1.81 .97-1.39-.01-1.82-.91z" stroke="#1f6cff"/>
<path d="M140.12 176.18l1.82 1.22-1.4 .05-1.82-1.16z" stroke="#1f7aff"/>
<path d="M138.3 174.62l1.82 1.56-1.4 .11-1.81-1.49z" stroke="#1f96ff"/>
<path d="M136.49 172.6l1.81 2.02-1.39 .18-1.82-1.93z" stroke="#1fa4ff"/>
<path d="M134.67 169.97l1.82 2.63-1.4 .27-1.82-2.52z" stroke="#1fc0ff"/>
<path d="M157.86 181.22l1.82 .07-1.4-.22-1.81-.04z" stroke="#1f26ff"/>
<path d="M154.23 180.9l1.82 .19 1.81 .13-1.39-.19-1.82-.11-1.82-.17zm1.82 .19l-1.4-.17" stroke="#1f34ff"/>
<path d="M150.6 180.24l1.81 .38 1.82 .28-1.4-.15-1.81-.24-1.82-.35zm1.81 .38l-1.39-.11" stroke="#1f42ff"/>
<path d="M148.78 179.75l1.82 .49-1.4-.08-1.82-.45z" stroke="#1f50ff"/>
<path d="M146.97 179.12l1.81 .63-1.4-.04-1.81-.59z" stroke="#1f5eff"/>
<path d="M145.15 178.32l1.82 .8-1.4 0-1.82-.75z" stroke="#1f6cff"/>
<path d="M143.33 177.3l1.82 1.02-1.4 .05-1.81-.97z" stroke="#1f7aff"/>
<path d="M141.52 176.01l1.81 1.29-1.39 .1-1.82-1.22z" stroke="#1f88ff"/>
<path d="M139.7 174.37l1.82 1.64-1.4 .17-1.82-1.56z" stroke="#1f96ff"/>
<path d="M137.88 172.26l1.82 2.11-1.4 .25-1.81-2.02z" stroke="#1fb2ff"/>
<path d="M136.07 169.5l1.81 2.76-1.39 .34-1.82-2.63z" stroke="#1fceff"/>
<path d="M157.44 181.22l1.82 .15 1.81 .09-1.39-.17-1.82-.07-1.81-.13zm1.82 .15l-1.4-.15" stroke="#1f34ff"/>
<path d="M153.81 180.69l1.82 .31 1.81 .22-1.39-.13-1.82-.19-1.82-.28zm1.82 .31l-1.4-.1" stroke="#1f42ff"/>
<path d="M150.18 179.75l1.81 .53 1.82 .41-1.4-.07-1.81-.38-1.82-.49zm1.81 .53l-1.39-.04" stroke="#1f50ff"/>
<path d="M148.36 179.07l1.82 .68-1.4 0-1.81-.63z" stroke="#1f5eff"/>
<path d="M146.55 178.22l1.81 .85-1.39 .05-1.82-.8z" stroke="#1f6cff"/>
<path d="M144.73 177.14l1.82 1.08-1.4 .1-1.82-1.02z" stroke="#1f7aff"/>
<path d="M142.91 175.78l1.82 1.36-1.4 .16-1.81-1.29z" stroke="#1f88ff"/>
<path d="M141.1 174.05l1.81 1.73-1.39 .23-1.82-1.64z" stroke="#1fa4ff"/>
<path d="M139.28 171.84l1.82 2.21-1.4 .32-1.82-2.11z" stroke="#1fc0ff"/>
<path d="M137.46 168.95l1.82 2.89-1.4 .42-1.81-2.76z" stroke="#1fdcff"/>
<path d="M164.29 181.65l1.81 .01-1.39-.17-1.82 .01z" stroke="#1f26ff"/>
<path d="M158.84 181.3l1.82 .18 1.81 .12 1.82 .05-1.4-.15-1.82-.04-1.81-.09-1.82-.15zm1.82 .18l-1.4-.11m3.21 .23l-1.4-.14" stroke="#1f34ff"/>
<path d="M157.02 181.05l1.82 .25-1.4-.08-1.81-.22z" stroke="#1f42ff"/>
<path d="M153.39 180.26l1.82 .45 1.81 .34-1.39-.05-1.82-.31-1.82-.41zm1.82 .45l-1.4-.02" stroke="#1f50ff"/>
<path d="M151.57 179.69l1.82 .57-1.4 .02-1.81-.53z" stroke="#1f5eff"/>
<path d="M149.76 178.97l1.81 .72-1.39 .06-1.82-.68z" stroke="#1f6cff"/>
<path d="M147.94 178.06l1.82 .91-1.4 .1-1.81-.85z" stroke="#1f7aff"/>
<path d="M146.12 176.91l1.82 1.15-1.39 .16-1.82-1.08z" stroke="#1f88ff"/>
<path d="M144.31 175.47l1.81 1.44-1.39 .23-1.82-1.36z" stroke="#1f96ff"/>
<path d="M142.49 173.65l1.82 1.82-1.4 .31-1.81-1.73z" stroke="#1fb2ff"/>
<path d="M140.68 171.33l1.81 2.32-1.39 .4-1.82-2.21z" stroke="#1fc0ff"/>
<path d="M138.86 168.3l1.82 3.03-1.4 .51-1.82-2.89z" stroke="#1feaff"/>
<path d="M167.5 181.8l1.82-.01-1.4-.16-1.82 .03z" stroke="#1f26ff"/>
<path d="M162.05 181.55l1.82 .14 1.81 .08 1.82 .03-1.4-.14-1.81-.01-1.82-.05-1.81-.12zm1.82 .14l-1.4-.09m3.21 .17l-1.39-.12" stroke="#1f34ff"/>
<path d="M158.42 181.05l1.81 .29 1.82 .21-1.39-.07-1.82-.18-1.82-.25zm1.81 .29l-1.39-.04" stroke="#1f42ff"/>
<path d="M156.6 180.67l1.82 .38-1.4 0-1.81-.34z" stroke="#1f50ff"/>
<path d="M152.97 179.57l1.82 .62 1.81 .48-1.39 .04-1.82-.45-1.82-.57zm1.82 .62l-1.4 .07" stroke="#1f5eff"/>
<path d="M151.15 178.79l1.82 .78-1.4 .12-1.81-.72z" stroke="#1f6cff"/>
<path d="M149.34 177.82l1.81 .97-1.39 .18-1.82-.91z" stroke="#1f7aff"/>
<path d="M147.52 176.61l1.82 1.21-1.4 .24-1.82-1.15z" stroke="#1f88ff"/>
<path d="M145.7 175.08l1.82 1.53-1.4 .3-1.81-1.44z" stroke="#1fa4ff"/>
<path d="M143.89 173.16l1.81 1.92-1.39 .39-1.82-1.82z" stroke="#1fb2ff"/>
<path d="M142.07 170.71l1.82 2.45-1.4 .49-1.81-2.32z" stroke="#1fceff"/>
<path d="M140.26 167.54l1.81 3.17-1.39 .62-1.82-3.03z" stroke="#1ff8ff"/>
<path d="M165.26 181.73l1.82 .1 1.82 .06 1.81 .01-1.39-.11-1.82 .01-1.82-.03-1.81-.08zm1.82 .1l-1.4-.06m3.22 .12l-1.4-.09" stroke="#1f34ff"/>
<path d="M161.63 181.32l1.82 .24 1.81 .17-1.39-.04-1.82-.14-1.82-.21zm1.82 .24l-1.4-.01" stroke="#1f42ff"/>
<path d="M159.81 180.99l1.82 .33-1.4 .02-1.81-.29z" stroke="#1f50ff"/>
<path d="M156.18 180.04l1.82 .54 1.81 .41-1.39 .06-1.82-.38-1.81-.48zm1.82 .54l-1.4 .09" stroke="#1f5eff"/>
<path d="M154.37 179.37l1.81 .67-1.39 .15-1.82-.62z" stroke="#1f6cff"/>
<path d="M152.55 178.54l1.82 .83-1.4 .2-1.82-.78z" stroke="#1f7aff"/>
<path d="M150.73 177.5l1.82 1.04-1.4 .25-1.81-.97z" stroke="#1f88ff"/>
<path d="M148.92 176.21l1.81 1.29-1.39 .32-1.82-1.21z" stroke="#1f96ff"/>
<path d="M147.1 174.6l1.82 1.61-1.4 .4-1.82-1.53z" stroke="#1fa4ff"/>
<path d="M145.28 172.57l1.82 2.03-1.4 .48-1.81-1.92z" stroke="#1fc0ff"/>
<path d="M143.47 169.99l1.81 2.58-1.39 .59-1.82-2.45z" stroke="#1fdcff"/>
<path d="M141.65 166.65l1.82 3.34-1.4 .72-1.81-3.17z" stroke="#26fff8"/>
<path d="M168.48 181.84l1.81 .08 1.82 .04-1.4-.06-1.81-.01-1.82-.06zm1.81 .08l-1.39-.03" stroke="#1f34ff"/>
<path d="M164.84 181.5l1.82 .2 1.82 .14-1.4-.01-1.82-.1-1.81-.17zm1.82 .2l-1.4 .03" stroke="#1f42ff"/>
<path d="M161.21 180.87l1.82 .36 1.81 .27-1.39 .06-1.82-.24-1.82-.33zm1.82 .36l-1.4 .09" stroke="#1f50ff"/>
<path d="M159.39 180.41l1.82 .46-1.4 .12-1.81-.41z" stroke="#1f5eff"/>
<path d="M157.58 179.83l1.81 .58-1.39 .17-1.82-.54z" stroke="#1f6cff"/>
<path d="M155.76 179.1l1.82 .73-1.4 .21-1.81-.67z" stroke="#1f7aff"/>
<path d="M153.95 178.2l1.81 .9-1.39 .27-1.82-.83z" stroke="#1f88ff"/>
<path d="M152.13 177.09l1.82 1.11-1.4 .34-1.82-1.04z" stroke="#1f96ff"/>
<path d="M150.31 175.72l1.82 1.37-1.4 .41-1.81-1.29z" stroke="#1fa4ff"/>
<path d="M148.5 174.01l1.81 1.71-1.39 .49-1.82-1.61z" stroke="#1fb2ff"/>
<path d="M146.68 171.86l1.82 2.15-1.4 .59-1.82-2.03z" stroke="#1fceff"/>
<path d="M144.86 169.13l1.82 2.73-1.4 .71-1.81-2.58z" stroke="#1feaff"/>
<path d="M143.05 165.61l1.81 3.52-1.39 .86-1.82-3.34z" stroke="#34ffea"/>
<path d="M173.5 181.96l1.82 .01-1.4-.02-1.81 .01z" stroke="#1f34ff"/>
<path d="M168.06 181.62l1.81 .17 1.82 .11 1.81 .06-1.39 0-1.82-.04-1.81-.08-1.82-.14zm1.81 .17l-1.39 .05m3.21 .06l-1.4 .02" stroke="#1f42ff"/>
<path d="M164.42 181.07l1.82 .31 1.82 .24-1.4 .08-1.82-.2-1.81-.27zm1.82 .31l-1.4 .12" stroke="#1f50ff"/>
<path d="M162.61 180.66l1.81 .41-1.39 .16-1.82-.36z" stroke="#1f5eff"/>
<path d="M158.97 179.52l1.82 .63 1.82 .51-1.4 .21-1.82-.46-1.81-.58zm1.82 .63l-1.4 .26" stroke="#1f6cff"/>
<path d="M157.16 178.74l1.81 .78-1.39 .31-1.82-.73z" stroke="#1f7aff"/>
<path d="M155.34 177.77l1.82 .97-1.4 .36-1.81-.9z" stroke="#1f88ff"/>
<path d="M153.53 176.58l1.81 1.19-1.39 .43-1.82-1.11z" stroke="#1f96ff"/>
<path d="M151.71 175.11l1.82 1.47-1.4 .51-1.82-1.37z" stroke="#1fb2ff"/>
<path d="M149.89 173.29l1.82 1.82-1.4 .61-1.81-1.71z" stroke="#1fc0ff"/>
<path d="M148.08 171.01l1.81 2.28-1.39 .72-1.82-2.15z" stroke="#1fdcff"/>
<path d="M146.26 168.12l1.82 2.89-1.4 .85-1.82-2.73z" stroke="#1ff8ff"/>
<path d="M144.44 164.4l1.82 3.72-1.4 1.01-1.81-3.52z" stroke="#42ffdc"/>
<path d="M182.17 181.82l1.81-.1-1.39-.04-1.82 .12z" stroke="#1f26ff"/>
<path d="M176.72 181.93l1.81 0 1.82-.04 1.82-.07-1.4-.02-1.82 .09-1.81 .06-1.82 .02zm1.81 0l-1.39 .02m3.21-.06l-1.4 0" stroke="#1f34ff"/>
<path d="M171.27 181.65l1.81 .15 1.82 .09 1.82 .04-1.4 .04-1.82-.01-1.81-.06-1.82-.11zm1.81 .15l-1.39 .1m3.21-.01l-1.4 .07" stroke="#1f42ff"/>
<path d="M167.64 181.18l1.81 .27 1.82 .2-1.4 .14-1.81-.17-1.82-.24zm1.81 .27l-1.39 .17" stroke="#1f50ff"/>
<path d="M165.82 180.82l1.82 .36-1.4 .2-1.82-.31z" stroke="#1f5eff"/>
<path d="M162.19 179.81l1.81 .56 1.82 .45-1.4 .25-1.81-.41-1.82-.51zm1.81 .56l-1.39 .29" stroke="#1f6cff"/>
<path d="M160.37 179.11l1.82 .7-1.4 .34-1.82-.63z" stroke="#1f7aff"/>
<path d="M158.55 178.26l1.82 .85-1.4 .41-1.81-.78z" stroke="#1f88ff"/>
<path d="M156.74 177.22l1.81 1.04-1.39 .48-1.82-.97z" stroke="#1f96ff"/>
<path d="M154.92 175.94l1.82 1.28-1.4 .55-1.81-1.19z" stroke="#1fa4ff"/>
<path d="M153.11 174.37l1.81 1.57-1.39 .64-1.82-1.47z" stroke="#1fc0ff"/>
<path d="M151.29 172.43l1.82 1.94-1.4 .74-1.82-1.82z" stroke="#1fceff"/>
<path d="M149.47 170l1.82 2.43-1.4 .86-1.81-2.28z" stroke="#1feaff"/>
<path d="M147.66 166.94l1.81 3.06-1.39 1.01-1.82-2.89z" stroke="#34ffea"/>
<path d="M145.84 163l1.82 3.94-1.4 1.18-1.82-3.72z" stroke="#5effc0"/>
<path d="M187.19 181.6l1.82-.13-1.4-.02-1.81 .15z" stroke="#1f26ff"/>
<path d="M179.93 181.84l1.82-.01 1.81-.05 1.82-.08 1.81-.1-1.39 0-1.82 .12-1.81 .1-1.82 .07-1.82 .04zm1.82-.01l-1.4 .06m3.21-.11l-1.39 .04m3.21-.12l-1.4 .02" stroke="#1f34ff"/>
<path d="M176.3 181.74l1.81 .07 1.82 .03-1.4 .09-1.81 0-1.82-.04zm1.81 .07l-1.39 .12" stroke="#1f42ff"/>
<path d="M172.66 181.44l1.82 .17 1.82 .13-1.4 .15-1.82-.09-1.81-.15zm1.82 .17l-1.4 .19" stroke="#1f50ff"/>
<path d="M169.03 180.88l1.82 .31 1.81 .25-1.39 .21-1.82-.2-1.81-.27zm1.82 .31l-1.4 .26" stroke="#1f5eff"/>
<path d="M165.4 179.97l1.82 .5 1.81 .41-1.39 .3-1.82-.36-1.82-.45zm1.82 .5l-1.4 .35" stroke="#1f6cff"/>
<path d="M163.58 179.35l1.82 .62-1.4 .4-1.81-.56z" stroke="#1f7aff"/>
<path d="M161.77 178.59l1.81 .76-1.39 .46-1.82-.7z" stroke="#1f88ff"/>
<path d="M159.95 177.66l1.82 .93-1.4 .52-1.82-.85z" stroke="#1f96ff"/>
<path d="M158.13 176.54l1.82 1.12-1.4 .6-1.81-1.04z" stroke="#1fa4ff"/>
<path d="M156.32 175.16l1.81 1.38-1.39 .68-1.82-1.28z" stroke="#1fb2ff"/>
<path d="M154.5 173.48l1.82 1.68-1.4 .78-1.81-1.57z" stroke="#1fceff"/>
<path d="M152.69 171.4l1.81 2.08-1.39 .89-1.82-1.94z" stroke="#1fdcff"/>
<path d="M150.87 168.81l1.82 2.59-1.4 1.03-1.82-2.43z" stroke="#1ff8ff"/>
<path d="M149.05 165.55l1.82 3.26-1.4 1.19-1.81-3.06z" stroke="#42ffdc"/>
<path d="M147.24 161.37l1.81 4.18-1.39 1.39-1.82-3.94z" stroke="#6cffb2"/>
<path d="M194.04 181.12l1.82-.18 1.81-.19 1.82-.21-1.4-.04-1.81 .23-1.82 .21-1.82 .2zm1.82-.18l-1.4 0m3.21-.19l-1.39-.02" stroke="#1f26ff"/>
<path d="M190.41 181.41l1.81-.13-1.39 .03-1.82 .16z" stroke="#1f26ff"/>
<path d="M184.96 181.66l1.82-.06 1.81-.08 1.82-.11-1.4 .06-1.82 .13-1.81 .1-1.82 .08zm1.82-.06l-1.4 .1m3.21-.18l-1.4 .08" stroke="#1f34ff"/>
<path d="M179.51 181.6l1.82 .06 1.81 .01 1.82-.01-1.4 .12-1.81 .05-1.82 .01-1.82-.03zm1.82 .06l-1.4 .18m3.21-.17l-1.39 .16" stroke="#1f42ff"/>
<path d="M175.88 181.33l1.81 .16 1.82 .11-1.4 .21-1.81-.07-1.82-.13zm1.81 .16l-1.39 .25" stroke="#1f50ff"/>
<path d="M172.25 180.83l1.81 .29 1.82 .21-1.4 .28-1.82-.17-1.81-.25zm1.81 .29l-1.4 .32" stroke="#1f5eff"/>
<path d="M168.61 180.01l1.82 .45 1.82 .37-1.4 .36-1.82-.31-1.81-.41zm1.82 .45l-1.4 .42" stroke="#1f6cff"/>
<path d="M166.8 179.45l1.81 .56-1.39 .46-1.82-.5z" stroke="#1f7aff"/>
<path d="M164.98 178.76l1.82 .69-1.4 .52-1.82-.62z" stroke="#1f88ff"/>
<path d="M163.16 177.93l1.82 .83-1.4 .59-1.81-.76z" stroke="#1f96ff"/>
<path d="M161.35 176.92l1.81 1.01-1.39 .66-1.82-.93z" stroke="#1fa4ff"/>
<path d="M159.53 175.7l1.82 1.22-1.4 .74-1.82-1.12z" stroke="#1fb2ff"/>
<path d="M157.72 174.21l1.81 1.49-1.4 .84-1.81-1.38z" stroke="#1fc0ff"/>
<path d="M155.9 172.4l1.82 1.81-1.4 .95-1.82-1.68z" stroke="#1fdcff"/>
<path d="M154.08 170.17l1.82 2.23-1.4 1.08-1.81-2.08z" stroke="#1ff8ff"/>
<path d="M152.27 167.41l1.81 2.76-1.39 1.23-1.82-2.59z" stroke="#34ffea"/>
<path d="M150.45 163.93l1.82 3.48-1.4 1.4-1.82-3.26z" stroke="#50ffce"/>
<path d="M148.63 159.48l1.82 4.45-1.4 1.62-1.81-4.18z" stroke="#88ff96"/>
<path d="M206.33 179.82l1.82-.26-1.4-.02-1.81 .27z" stroke="#1f1ff8"/>
<path d="M197.25 180.86l1.82-.17 1.81-.2 1.82-.21 1.82-.22 1.81-.24-1.39-.01-1.82 .26-1.82 .24-1.81 .23-1.82 .21-1.81 .19zm1.82-.17l-1.4 .06m3.21-.26l-1.39 .05m3.21-.26l-1.4 .03m3.22-.25l-1.4 .01" stroke="#1f26ff"/>
<path d="M189.99 181.35l1.81-.08 1.82-.11 1.82-.14 1.81-.16-1.39 .08-1.82 .18-1.82 .16-1.81 .13-1.82 .11zm1.81-.08l-1.39 .14m3.21-.25l-1.4 .12m3.22-.26l-1.4 .1" stroke="#1f34ff"/>
<path d="M184.54 181.42l1.81 .01 1.82-.02 1.82-.06-1.4 .17-1.81 .08-1.82 .06-1.82 .01zm1.81 .01l-1.39 .23m3.21-.25l-1.39 .19" stroke="#1f42ff"/>
<path d="M179.09 181.14l1.82 .14 1.81 .09 1.82 .05-1.4 .25-1.81-.01-1.82-.06-1.82-.11zm1.82 .14l-1.4 .32m3.21-.23l-1.39 .29" stroke="#1f50ff"/>
<path d="M175.46 180.67l1.81 .27 1.82 .2-1.4 .35-1.81-.16-1.82-.21zm1.81 .27l-1.39 .39" stroke="#1f5eff"/>
<path d="M173.64 180.34l1.82 .33-1.4 .45-1.81-.29z" stroke="#1f6cff"/>
<path d="M170.01 179.4l1.81 .52 1.82 .42-1.39 .49-1.82-.37-1.82-.45zm1.81 .52l-1.39 .54" stroke="#1f7aff"/>
<path d="M168.19 178.78l1.82 .62-1.4 .61-1.81-.56z" stroke="#1f88ff"/>
<path d="M166.38 178.02l1.81 .76-1.39 .67-1.82-.69z" stroke="#1f96ff"/>
<path d="M164.56 177.1l1.82 .92-1.4 .74-1.82-.83z" stroke="#1fa4ff"/>
<path d="M162.74 176l1.82 1.1-1.4 .83-1.81-1.01z" stroke="#1fb2ff"/>
<path d="M160.93 174.67l1.81 1.33-1.39 .92-1.82-1.22z" stroke="#1fc0ff"/>
<path d="M159.11 173.07l1.82 1.6-1.4 1.03-1.81-1.49z" stroke="#1fceff"/>
<path d="M157.29 171.11l1.82 1.96-1.39 1.14-1.82-1.81z" stroke="#1feaff"/>
<path d="M155.48 168.72l1.81 2.39-1.39 1.29-1.82-2.23z" stroke="#26fff8"/>
<path d="M153.66 165.75l1.82 2.97-1.4 1.45-1.81-2.76z" stroke="#42ffdc"/>
<path d="M151.85 162.03l1.81 3.72-1.39 1.66-1.82-3.48z" stroke="#6cffb2"/>
<path d="M150.03 157.27l1.82 4.76-1.4 1.9-1.82-4.45z" stroke="#a4ff7a"/>
<path d="M211.36 179.25l1.82-.27 1.82-.27 1.81-.28 1.82-.3 1.81-.3 1.82-.31-1.4-.03-1.81 .32-1.82 .32-1.82 .3-1.81 .3-1.82 .29-1.81 .28zm1.82-.27l-1.4 .04m3.22-.31l-1.4 .02m3.21-.3l-1.4 0m3.22-.3l-1.4 0m3.21-.3l-1.39-.02" stroke="#1f1ff8"/>
<path d="M202.28 180.36l1.82-.19 1.81-.21 1.82-.23 1.82-.23 1.81-.25-1.39 .05-1.82 .26-1.82 .26-1.81 .24-1.82 .22-1.82 .21zm1.82-.19l-1.4 .11m3.21-.32l-1.39 .1m3.21-.33l-1.4 .09m3.22-.32l-1.4 .06" stroke="#1f26ff"/>
<path d="M195.02 180.93l1.81-.11 1.82-.13 1.81-.16 1.82-.17-1.4 .13-1.81 .2-1.82 .17-1.81 .16-1.82 .14zm1.81-.11l-1.39 .2m3.21-.33l-1.4 .17m3.21-.33l-1.39 .16" stroke="#1f34ff"/>
<path d="M189.57 181.1l1.81-.03 1.82-.05 1.82-.09-1.4 .23-1.82 .11-1.81 .08-1.82 .06zm1.81-.03l-1.39 .28m3.21-.33l-1.4 .25" stroke="#1f42ff"/>
<path d="M184.12 180.96l1.81 .09 1.82 .04 1.82 .01-1.4 .31-1.82 .02-1.81-.01-1.82-.05zm1.81 .09l-1.39 .37m3.21-.33l-1.4 .34" stroke="#1f50ff"/>
<path d="M180.49 180.64l1.81 .19 1.82 .13-1.4 .41-1.81-.09-1.82-.14zm1.81 .19l-1.39 .45" stroke="#1f5eff"/>
<path d="M176.85 180.09l1.82 .31 1.82 .24-1.4 .5-1.82-.2-1.81-.27zm1.82 .31l-1.4 .54" stroke="#1f6cff"/>
<path d="M175.04 179.7l1.81 .39-1.39 .58-1.82-.33z" stroke="#1f7aff"/>
<path d="M171.4 178.64l1.82 .58 1.82 .48-1.4 .64-1.82-.42-1.81-.52zm1.82 .58l-1.4 .7" stroke="#1f88ff"/>
<path d="M169.59 177.93l1.81 .71-1.39 .76-1.82-.62z" stroke="#1f96ff"/>
<path d="M167.77 177.09l1.82 .84-1.4 .85-1.81-.76z" stroke="#1fa4ff"/>
<path d="M165.96 176.09l1.81 1-1.39 .93-1.82-.92z" stroke="#1fb2ff"/>
<path d="M164.14 174.88l1.82 1.21-1.4 1.01-1.82-1.1z" stroke="#1fc0ff"/>
<path d="M162.32 173.43l1.82 1.45-1.4 1.12-1.81-1.33z" stroke="#1fceff"/>
<path d="M160.51 171.68l1.81 1.75-1.39 1.24-1.82-1.6z" stroke="#1feaff"/>
<path d="M158.69 169.57l1.82 2.11-1.4 1.39-1.82-1.96z" stroke="#26fff8"/>
<path d="M156.87 166.98l1.82 2.59-1.4 1.54-1.81-2.39z" stroke="#42ffdc"/>
<path d="M155.06 163.79l1.81 3.19-1.39 1.74-1.82-2.97z" stroke="#5effc0"/>
<path d="M153.24 159.79l1.82 4-1.4 1.96-1.81-3.72z" stroke="#88ff96"/>
<path d="M151.43 154.68l1.81 5.11-1.39 2.24-1.82-4.76z" stroke="#c0ff5e"/>
<path d="M220.02 178.05l1.82-.29 1.82-.3 1.81-.31 1.82-.31-1.4 .03-1.81 .33-1.82 .32-1.82 .31-1.81 .3zm1.82-.29l-1.4 .07m3.22-.37l-1.4 .06m3.21-.37l-1.39 .05" stroke="#1f1ff8"/>
<path d="M209.13 179.55l1.81-.22 1.82-.23 1.81-.25 1.82-.26 1.82-.26 1.81-.28-1.39 .08-1.82 .3-1.81 .28-1.82 .27-1.82 .27-1.81 .25-1.82 .23zm1.81-.22l-1.39 .17m3.21-.4l-1.4 .15m3.21-.4l-1.39 .13m3.21-.39l-1.39 .12m3.21-.38l-1.4 .1" stroke="#1f26ff"/>
<path d="M200.04 180.39l1.82-.13 1.82-.15 1.81-.17 1.82-.19 1.82-.2-1.4 .18-1.82 .23-1.81 .21-1.82 .19-1.82 .17-1.81 .16zm1.82-.13l-1.4 .27m3.22-.42l-1.4 .25m3.21-.42l-1.39 .23m3.21-.42l-1.4 .21" stroke="#1f34ff"/>
<path d="M194.6 180.64l1.81-.06 1.82-.08 1.81-.11-1.39 .3-1.82 .13-1.81 .11-1.82 .09zm1.81-.06l-1.39 .35m3.21-.43l-1.4 .32" stroke="#1f42ff"/>
<path d="M189.15 180.61l1.81 .05 1.82 0 1.82-.02-1.4 .38-1.82 .05-1.81 .03-1.82-.01zm1.81 .05l-1.39 .44m3.21-.44l-1.4 .41" stroke="#1f50ff"/>
<path d="M185.51 180.4l1.82 .13 1.82 .08-1.4 .48-1.82-.04-1.81-.09zm1.82 .13l-1.4 .52" stroke="#1f5eff"/>
<path d="M181.88 179.99l1.82 .24 1.81 .17-1.39 .56-1.82-.13-1.81-.19zm1.82 .24l-1.4 .6" stroke="#1f6cff"/>
<path d="M178.25 179.32l1.82 .37 1.81 .3-1.39 .65-1.82-.24-1.82-.31zm1.82 .37l-1.4 .71" stroke="#1f7aff"/>
<path d="M176.43 178.87l1.82 .45-1.4 .77-1.81-.39z" stroke="#1f88ff"/>
<path d="M172.8 177.66l1.82 .66 1.81 .55-1.39 .83-1.82-.48-1.82-.58zm1.82 .66l-1.4 .9" stroke="#1f96ff"/>
<path d="M170.98 176.88l1.82 .78-1.4 .98-1.81-.71z" stroke="#1fa4ff"/>
<path d="M169.17 175.94l1.81 .94-1.39 1.05-1.82-.84z" stroke="#1fb2ff"/>
<path d="M167.35 174.83l1.82 1.11-1.4 1.15-1.81-1z" stroke="#1fc0ff"/>
<path d="M165.54 173.5l1.81 1.33-1.39 1.26-1.82-1.21z" stroke="#1fceff"/>
<path d="M163.72 171.92l1.82 1.58-1.4 1.38-1.82-1.45z" stroke="#1feaff"/>
<path d="M161.9 170.01l1.82 1.91-1.4 1.51-1.81-1.75z" stroke="#1ff8ff"/>
<path d="M160.09 167.71l1.81 2.3-1.39 1.67-1.82-2.11z" stroke="#34ffea"/>
<path d="M158.27 164.91l1.82 2.8-1.4 1.86-1.82-2.59z" stroke="#50ffce"/>
<path d="M156.45 161.46l1.82 3.45-1.4 2.07-1.81-3.19z" stroke="#7affa4"/>
<path d="M154.64 157.14l1.81 4.32-1.39 2.33-1.82-4z" stroke="#a4ff7a"/>
<path d="M152.82 151.64l1.82 5.5-1.4 2.65-1.81-5.11z" stroke="#dcff42"/>
<path d="M283.17 165.31l1.82-.43 1.82-.43 1.81-.43-1.4-.14-1.81 .44-1.82 .43-1.81 .44zm1.82-.43l-1.4-.13m3.22-.3l-1.4-.13" stroke="#1f1fdc"/>
<path d="M243.22 174.05l1.81-.36-1.4 .03-1.81 .37z" stroke="#1f1fea"/>
<path d="M230.5 176.39l1.82-.31 1.81-.32 1.82-.33 1.82-.34 1.81-.34 1.82-.35 1.82-.35-1.4 .04-1.82 .36-1.81 .36-1.82 .35-1.82 .35-1.81 .34-1.82 .34-1.81 .33zm1.82-.31l-1.4 .11m3.21-.43l-1.39 .09m3.21-.42l-1.4 .08m3.22-.42l-1.4 .07m3.21-.41l-1.39 .06m3.21-.41l-1.4 .05" stroke="#1f1ff8"/>
<path d="M228.69 176.7l1.81-.31-1.39 .13-1.82 .32z" stroke="#1f1ff8"/>
<path d="M215.97 178.6l1.82-.24 1.81-.25 1.82-.26 1.82-.27 1.81-.29 1.82-.29 1.82-.3-1.4 .14-1.82 .31-1.81 .31-1.82 .3-1.82 .29-1.81 .28-1.82 .26-1.82 .26zm1.82-.24l-1.4 .23m3.21-.48l-1.39 .22m3.21-.48l-1.4 .2m3.22-.47l-1.4 .18m3.21-.47l-1.39 .17m3.21-.46l-1.4 .15" stroke="#1f26ff"/>
<path d="M206.89 179.58l1.82-.17 1.81-.18 1.82-.19 1.82-.22 1.81-.22-1.4 .25-1.81 .25-1.82 .23-1.81 .22-1.82 .2-1.82 .19zm1.82-.17l-1.4 .34m3.21-.52l-1.39 .32m3.21-.51l-1.4 .29m3.22-.51l-1.4 .28" stroke="#1f34ff"/>
<path d="M201.44 179.95l1.82-.1 1.81-.13 1.82-.14-1.4 .36-1.81 .17-1.82 .15-1.82 .13zm1.82-.1l-1.4 .41m3.21-.54l-1.39 .39" stroke="#1f42ff"/>
<path d="M194.18 180.09l1.81 .01 1.82-.02 1.81-.05 1.82-.08-1.4 .44-1.81 .11-1.82 .08-1.81 .06-1.82 .02zm1.81 .01l-1.39 .54m3.21-.56l-1.4 .5m3.21-.55l-1.39 .47" stroke="#1f50ff"/>
<path d="M190.54 179.96l1.82 .09 1.82 .04-1.4 .57-1.82 0-1.81-.05zm1.82 .09l-1.4 .61" stroke="#1f5eff"/>
<path d="M186.91 179.66l1.82 .17 1.81 .13-1.39 .65-1.82-.08-1.82-.13zm1.82 .17l-1.4 .7" stroke="#1f6cff"/>
<path d="M183.28 179.14l1.81 .29 1.82 .23-1.4 .74-1.81-.17-1.82-.24zm1.81 .29l-1.39 .8" stroke="#1f7aff"/>
<path d="M179.65 178.34l1.81 .44 1.82 .36-1.4 .85-1.81-.3-1.82-.37zm1.81 .44l-1.39 .91" stroke="#1f88ff"/>
<path d="M177.83 177.82l1.82 .52-1.4 .98-1.82-.45z" stroke="#1f96ff"/>
<path d="M176.01 177.19l1.82 .63-1.4 1.05-1.81-.55z" stroke="#1fa4ff"/>
<path d="M172.38 175.56l1.82 .89 1.81 .74-1.39 1.13-1.82-.66-1.82-.78zm1.82 .89l-1.4 1.21" stroke="#1fb2ff"/>
<path d="M170.56 174.52l1.82 1.04-1.4 1.32-1.81-.94z" stroke="#1fceff"/>
<path d="M168.75 173.28l1.81 1.24-1.39 1.42-1.82-1.11z" stroke="#1fdcff"/>
<path d="M166.93 171.82l1.82 1.46-1.4 1.55-1.81-1.33z" stroke="#1feaff"/>
<path d="M165.12 170.07l1.81 1.75-1.39 1.68-1.82-1.58z" stroke="#1ff8ff"/>
<path d="M163.3 167.99l1.82 2.08-1.4 1.85-1.82-1.91z" stroke="#34ffea"/>
<path d="M161.48 165.48l1.82 2.51-1.4 2.02-1.81-2.3z" stroke="#50ffce"/>
<path d="M159.67 162.42l1.81 3.06-1.39 2.23-1.82-2.8z" stroke="#7affa4"/>
<path d="M157.85 158.67l1.82 3.75-1.4 2.49-1.82-3.45z" stroke="#96ff88"/>
<path d="M156.03 153.99l1.82 4.68-1.4 2.79-1.81-4.32z" stroke="#ceff50"/>
<path d="M154.22 148.04l1.81 5.95-1.39 3.15-1.82-5.5z" stroke="#fff81f"/>
<path d="M293.65 163.22l1.82-.43 1.81-.44 1.82-.43 1.82-.44-1.4-.08-1.82 .44-1.81 .44-1.82 .44-1.82 .43zm1.82-.43l-1.4-.07m3.21-.37l-1.39-.07m3.21-.36l-1.4-.08" stroke="#1f1fdc"/>
<path d="M284.57 165.34l1.82-.42 1.81-.42 1.82-.43-1.4-.05-1.81 .43-1.82 .43-1.82 .43zm1.82-.42l-1.4-.04m3.21-.38l-1.39-.05" stroke="#1f1fdc"/>
<path d="M255.51 171.73l1.81-.37 1.82-.38-1.39 .07-1.82 .39-1.82 .38zm1.81-.37l-1.39 .08" stroke="#1f1fea"/>
<path d="M242.79 174.23l1.82-.34 1.82-.35 1.81-.35 1.82-.36 1.82-.36 1.81-.37 1.82-.37-1.4 .09-1.81 .39-1.82 .37-1.82 .38-1.81 .36-1.82 .37-1.81 .36-1.82 .35zm1.82-.34l-1.39 .16m3.21-.51l-1.4 .15m3.21-.5l-1.39 .13m3.21-.49l-1.4 .13m3.22-.49l-1.4 .11m3.21-.48l-1.39 .11" stroke="#1f1ff8"/>
<path d="M237.35 175.22l1.81-.33 1.82-.33 1.81-.33-1.39 .17-1.82 .35-1.81 .34-1.82 .34zm1.81-.33l-1.39 .2m3.21-.53l-1.4 .19" stroke="#1f1ff8"/>
<path d="M224.63 177.25l1.82-.26 1.81-.27 1.82-.29 1.82-.29 1.81-.3 1.82-.31 1.82-.31-1.4 .21-1.82 .33-1.81 .32-1.82 .31-1.81 .31-1.82 .3-1.82 .29-1.81 .29zm1.82-.26l-1.4 .3m3.21-.57l-1.39 .28m3.21-.57l-1.39 .27m3.21-.56l-1.4 .25m3.21-.55l-1.39 .24m3.21-.55l-1.4 .23" stroke="#1f26ff"/>
<path d="M215.55 178.4l1.82-.2 1.81-.22 1.82-.23 1.82-.24 1.81-.26-1.39 .33-1.82 .27-1.82 .26-1.81 .25-1.82 .24-1.81 .22zm1.82-.2l-1.4 .4m3.21-.62l-1.39 .38m3.21-.61l-1.4 .36m3.22-.6l-1.4 .34" stroke="#1f34ff"/>
<path d="M208.29 179.05l1.81-.14 1.82-.15 1.81-.17 1.82-.19-1.39 .42-1.82 .22-1.82 .19-1.81 .18-1.82 .17zm1.81-.14l-1.39 .5m3.21-.65l-1.4 .47m3.21-.64l-1.39 .45" stroke="#1f42ff"/>
<path d="M201.02 179.37l1.82-.04 1.81-.07 1.82-.1 1.82-.11-1.4 .53-1.82 .14-1.81 .13-1.82 .1-1.82 .08zm1.82-.04l-1.4 .62m3.21-.69l-1.39 .59m3.21-.69l-1.4 .56" stroke="#1f50ff"/>
<path d="M195.57 179.32l1.82 .05 1.81 .01 1.82-.01-1.4 .66-1.81 .05-1.82 .02-1.81-.01zm1.82 .05l-1.4 .73m3.21-.72l-1.39 .7" stroke="#1f5eff"/>
<path d="M191.94 179.09l1.82 .14 1.81 .09-1.39 .77-1.82-.04-1.82-.09zm1.82 .14l-1.4 .82" stroke="#1f6cff"/>
<path d="M188.31 178.68l1.81 .23 1.82 .18-1.4 .87-1.81-.13-1.82-.17zm1.81 .23l-1.39 .92" stroke="#1f7aff"/>
<path d="M184.67 178.04l1.82 .35 1.82 .29-1.4 .98-1.82-.23-1.81-.29zm1.82 .35l-1.4 1.04" stroke="#1f88ff"/>
<path d="M182.86 177.61l1.81 .43-1.39 1.1-1.82-.36z" stroke="#1f96ff"/>
<path d="M179.23 176.49l1.81 .61 1.82 .51-1.4 1.17-1.81-.44-1.82-.52zm1.81 .61l-1.39 1.24" stroke="#1fa4ff"/>
<path d="M177.41 175.77l1.82 .72-1.4 1.33-1.82-.63z" stroke="#1fb2ff"/>
<path d="M175.59 174.92l1.82 .85-1.4 1.42-1.81-.74z" stroke="#1fc0ff"/>
<path d="M173.78 173.93l1.81 .99-1.39 1.53-1.82-.89z" stroke="#1fceff"/>
<path d="M171.96 172.75l1.82 1.18-1.4 1.63-1.82-1.04z" stroke="#1fdcff"/>
<path d="M170.14 171.38l1.82 1.37-1.4 1.77-1.81-1.24z" stroke="#1feaff"/>
<path d="M168.33 169.75l1.81 1.63-1.39 1.9-1.82-1.46z" stroke="#26fff8"/>
<path d="M166.51 167.82l1.82 1.93-1.4 2.07-1.81-1.75z" stroke="#34ffea"/>
<path d="M164.7 165.52l1.81 2.3-1.39 2.25-1.82-2.08z" stroke="#50ffce"/>
<path d="M162.88 162.77l1.82 2.75-1.4 2.47-1.82-2.51z" stroke="#6cffb2"/>
<path d="M161.06 159.42l1.82 3.35-1.4 2.71-1.81-3.06z" stroke="#96ff88"/>
<path d="M159.25 155.33l1.81 4.09-1.39 3-1.82-3.75z" stroke="#c0ff5e"/>
<path d="M157.43 150.22l1.82 5.11-1.4 3.34-1.82-4.68z" stroke="#f8ff26"/>
<path d="M155.61 143.74l1.82 6.48-1.4 3.77-1.81-5.95z" stroke="#ffce1f"/>
<path d="M296.86 162.75l1.82-.43 1.82-.43 1.81-.43-1.39 .02-1.82 .44-1.82 .43-1.81 .44zm1.82-.43l-1.4 .03m3.22-.46l-1.4 .03" stroke="#1f1fdc"/>
<path d="M284.15 165.68l1.81-.41 1.82-.42 1.82-.42 1.81-.41 1.82-.42 1.82-.43 1.81-.42-1.39 .04-1.82 .43-1.82 .43-1.81 .42-1.82 .43-1.81 .42-1.82 .42-1.82 .42zm1.81-.41l-1.39 .07m3.21-.49l-1.39 .07m3.21-.49l-1.4 .07m3.21-.48l-1.39 .05m3.21-.47l-1.4 .05m3.22-.48l-1.4 .05" stroke="#1f1fea"/>
<path d="M271.43 168.49l1.82-.39 1.82-.4 1.81-.4 1.82-.4 1.82-.41 1.81-.4 1.82-.41-1.4 .08-1.81 .42-1.82 .41-1.82 .42-1.81 .41-1.82 .4-1.81 .41-1.82 .4zm1.82-.39l-1.39 .13m3.21-.53l-1.4 .12m3.21-.52l-1.39 .12m3.21-.52l-1.4 .11m3.22-.52l-1.4 .1m3.21-.5l-1.39 .09" stroke="#1f1fea"/>
<path d="M269.62 168.88l1.81-.39-1.39 .14-1.82 .4z" stroke="#1f1fea"/>
<path d="M256.9 171.51l1.82-.37 1.82-.36 1.81-.38 1.82-.37 1.82-.38 1.81-.39 1.82-.38-1.4 .15-1.81 .4-1.82 .39-1.82 .39-1.81 .39-1.82 .38-1.82 .38-1.81 .37zm1.82-.37l-1.4 .22m3.22-.58l-1.4 .2m3.21-.58l-1.39 .2m3.21-.57l-1.4 .18m3.22-.56l-1.4 .17m3.21-.56l-1.39 .17" stroke="#1f1ff8"/>
<path d="M249.64 172.91l1.82-.34 1.81-.35 1.82-.35 1.81-.36-1.39 .22-1.82 .37-1.81 .37-1.82 .36-1.82 .36zm1.82-.34l-1.4 .26m3.21-.61l-1.39 .25m3.21-.6l-1.4 .23" stroke="#1f1ff8"/>
<path d="M236.93 175.15l1.81-.3 1.82-.31 1.82-.31 1.81-.32 1.82-.33 1.81-.33 1.82-.34-1.4 .28-1.81 .35-1.82 .35-1.82 .34-1.81 .33-1.82 .33-1.81 .33-1.82 .31zm1.81-.3l-1.39 .37m3.21-.68l-1.4 .35m3.22-.66l-1.4 .33m3.21-.65l-1.4 .32m3.22-.65l-1.4 .31m3.21-.64l-1.39 .29" stroke="#1f26ff"/>
<path d="M235.11 175.44l1.82-.29-1.4 .38-1.82 .31z" stroke="#1f26ff"/>
<path d="M224.21 176.99l1.82-.23 1.81-.25 1.82-.25 1.82-.26 1.81-.28 1.82-.28-1.4 .4-1.81 .3-1.82 .29-1.82 .29-1.81 .27-1.82 .26-1.81 .26zm1.82-.23l-1.4 .49m3.21-.74l-1.39 .48m3.21-.73l-1.4 .46m3.22-.72l-1.4 .43m3.21-.71l-1.39 .42" stroke="#1f34ff"/>
<path d="M215.13 177.94l1.82-.16 1.81-.18 1.82-.19 1.82-.2 1.81-.22-1.39 .52-1.82 .24-1.82 .23-1.81 .22-1.82 .2-1.82 .19zm1.82-.16l-1.4 .62m3.21-.8l-1.39 .6m3.21-.79l-1.4 .57m3.22-.77l-1.4 .54" stroke="#1f42ff"/>
<path d="M207.87 178.39l1.81-.08 1.82-.11 1.81-.12 1.82-.14-1.4 .65-1.81 .17-1.82 .15-1.81 .14-1.82 .11zm1.81-.08l-1.39 .74m3.21-.85l-1.4 .71m3.21-.83l-1.39 .68" stroke="#1f50ff"/>
<path d="M202.42 178.48l1.81 0 1.82-.03 1.82-.06-1.4 .77-1.82 .1-1.81 .07-1.82 .04zm1.81 0l-1.39 .85m3.21-.88l-1.4 .81" stroke="#1f5eff"/>
<path d="M198.78 178.39l1.82 .06 1.82 .03-1.4 .89-1.82 .01-1.81-.01zm1.82 .06l-1.4 .93" stroke="#1f6cff"/>
<path d="M193.34 177.95l1.81 .19 1.82 .14 1.81 .11-1.39 .98-1.82-.05-1.81-.09-1.82-.14zm1.81 .19l-1.39 1.09m3.21-.95l-1.4 1.04" stroke="#1f7aff"/>
<path d="M189.7 177.42l1.82 .29 1.82 .24-1.4 1.14-1.82-.18-1.81-.23zm1.82 .29l-1.4 1.2" stroke="#1f88ff"/>
<path d="M187.89 177.06l1.81 .36-1.39 1.26-1.82-.29z" stroke="#1f96ff"/>
<path d="M184.25 176.11l1.82 .52 1.82 .43-1.4 1.33-1.82-.35-1.81-.43zm1.82 .52l-1.4 1.41" stroke="#1fa4ff"/>
<path d="M182.44 175.51l1.81 .6-1.39 1.5-1.82-.51z" stroke="#1fb2ff"/>
<path d="M180.62 174.8l1.82 .71-1.4 1.59-1.81-.61z" stroke="#1fc0ff"/>
<path d="M178.81 173.97l1.81 .83-1.39 1.69-1.82-.72z" stroke="#1fceff"/>
<path d="M176.99 173.01l1.82 .96-1.4 1.8-1.82-.85z" stroke="#1fdcff"/>
<path d="M175.17 171.88l1.82 1.13-1.4 1.91-1.81-.99z" stroke="#1feaff"/>
<path d="M173.36 170.56l1.81 1.32-1.39 2.05-1.82-1.18z" stroke="#1ff8ff"/>
<path d="M171.54 169.01l1.82 1.55-1.4 2.19-1.82-1.37z" stroke="#26fff8"/>
<path d="M169.72 167.19l1.82 1.82-1.4 2.37-1.81-1.63z" stroke="#42ffdc"/>
<path d="M167.91 165.05l1.81 2.14-1.39 2.56-1.82-1.93z" stroke="#5effc0"/>
<path d="M166.09 162.5l1.82 2.55-1.4 2.77-1.81-2.3z" stroke="#7affa4"/>
<path d="M164.28 159.46l1.81 3.04-1.39 3.02-1.82-2.75z" stroke="#96ff88"/>
<path d="M162.46 155.77l1.82 3.69-1.4 3.31-1.82-3.35z" stroke="#c0ff5e"/>
<path d="M160.64 151.26l1.82 4.51-1.4 3.65-1.81-4.09z" stroke="#eaff34"/>
<path d="M158.83 145.66l1.81 5.6-1.39 4.07-1.82-5.11z" stroke="#ffdc1f"/>
<path d="M157.01 138.56l1.82 7.1-1.4 4.56-1.82-6.48z" stroke="#ff961f"/>
<path d="M290.99 164.23l1.82-.41 1.82-.41 1.81-.42 1.82-.41 1.81-.42 1.82-.42 1.82-.43-1.4 .15-1.81 .43-1.82 .43-1.82 .43-1.81 .42-1.82 .43-1.82 .42-1.81 .41zm1.82-.41l-1.4 .2m3.22-.61l-1.4 .19m3.21-.61l-1.39 .18m3.21-.59l-1.4 .17m3.21-.59l-1.39 .16m3.21-.58l-1.39 .15" stroke="#1f1fea"/>
<path d="M285.54 165.45l1.82-.41 1.82-.4 1.81-.41-1.39 .2-1.82 .42-1.82 .42-1.81 .41zm1.82-.41l-1.4 .23m3.22-.63l-1.4 .21" stroke="#1f1fea"/>
<path d="M272.83 168.19l1.82-.39 1.81-.38 1.82-.39 1.82-.39 1.81-.4 1.82-.39 1.81-.4-1.39 .23-1.82 .41-1.81 .4-1.82 .41-1.82 .4-1.81 .4-1.82 .4-1.82 .39zm1.82-.39l-1.4 .3m3.21-.68l-1.39 .28m3.21-.67l-1.4 .27m3.22-.66l-1.4 .26m3.21-.66l-1.39 .25m3.21-.64l-1.4 .24" stroke="#1f1ff8"/>
<path d="M263.75 170.04l1.82-.36 1.81-.37 1.82-.37 1.81-.37 1.82-.38-1.4 .3-1.81 .39-1.82 .38-1.81 .39-1.82 .38-1.82 .37zm1.82-.36l-1.4 .35m3.21-.72l-1.39 .34m3.21-.71l-1.4 .32m3.21-.69l-1.39 .31" stroke="#1f1ff8"/>
<path d="M251.04 172.45l1.81-.33 1.82-.33 1.82-.34 1.81-.34 1.82-.35 1.81-.36 1.82-.36-1.4 .36-1.81 .38-1.82 .36-1.82 .37-1.81 .36-1.82 .35-1.81 .35-1.82 .34zm1.81-.33l-1.39 .45m3.21-.78l-1.4 .43m3.22-.77l-1.4 .42m3.21-.76l-1.4 .4m3.22-.75l-1.4 .38m3.21-.74l-1.39 .38" stroke="#1f26ff"/>
<path d="M247.4 173.09l1.82-.31 1.82-.33-1.4 .46-1.82 .34-1.81 .33zm1.82-.31l-1.4 .47" stroke="#1f26ff"/>
<path d="M234.69 175.09l1.82-.26 1.81-.27 1.82-.27 1.82-.29 1.81-.3 1.82-.3 1.81-.31-1.39 .49-1.82 .33-1.81 .32-1.82 .31-1.82 .31-1.81 .3-1.82 .29-1.82 .28zm1.82-.26l-1.4 .61m3.21-.88l-1.39 .59m3.21-.86l-1.4 .56m3.22-.85l-1.4 .54m3.21-.84l-1.39 .53m3.21-.83l-1.4 .51" stroke="#1f34ff"/>
<path d="M225.61 176.24l1.81-.21 1.82-.21 1.82-.23 1.81-.24 1.82-.26-1.4 .63-1.81 .28-1.82 .26-1.82 .25-1.81 .25-1.82 .23zm1.81-.21l-1.39 .73m3.21-.94l-1.4 .69m3.22-.92l-1.4 .67m3.21-.91l-1.39 .65" stroke="#1f42ff"/>
<path d="M216.53 177.04l1.81-.13 1.82-.15 1.82-.16 1.81-.17 1.82-.19-1.4 .75-1.81 .22-1.82 .2-1.82 .19-1.81 .18-1.82 .16zm1.81-.13l-1.39 .87m3.21-1.02l-1.4 .84m3.22-1l-1.4 .81m3.21-.98l-1.39 .78" stroke="#1f50ff"/>
<path d="M211.08 177.29l1.82-.06 1.81-.09 1.82-.1-1.4 .9-1.82 .14-1.81 .12-1.82 .11zm1.82-.06l-1.4 .97m3.21-1.06l-1.4 .94" stroke="#1f5eff"/>
<path d="M205.63 177.33l1.82 .02 1.81-.02 1.82-.04-1.4 1.02-1.81 .08-1.82 .06-1.82 .03zm1.82 .02l-1.4 1.1m3.21-1.12l-1.39 1.06" stroke="#1f6cff"/>
<path d="M200.18 177.08l1.82 .12 1.81 .08 1.82 .05-1.4 1.15-1.81 0-1.82-.03-1.82-.06zm1.82 .12l-1.4 1.25m3.21-1.17l-1.39 1.2" stroke="#1f7aff"/>
<path d="M196.55 176.72l1.82 .2 1.81 .16-1.4 1.31-1.81-.11-1.82-.14zm1.82 .2l-1.4 1.36" stroke="#1f88ff"/>
<path d="M192.92 176.15l1.81 .31 1.82 .26-1.4 1.42-1.81-.19-1.82-.24zm1.81 .31l-1.39 1.49" stroke="#1f96ff"/>
<path d="M191.1 175.77l1.82 .38-1.4 1.56-1.82-.29z" stroke="#1fa4ff"/>
<path d="M187.47 174.81l1.81 .52 1.82 .44-1.4 1.65-1.81-.36-1.82-.43zm1.81 .52l-1.39 1.73" stroke="#1fb2ff"/>
<path d="M185.65 174.2l1.82 .61-1.4 1.82-1.82-.52z" stroke="#1fc0ff"/>
<path d="M183.84 173.48l1.81 .72-1.4 1.91-1.81-.6z" stroke="#1fceff"/>
<path d="M182.02 172.66l1.82 .82-1.4 2.03-1.82-.71z" stroke="#1fdcff"/>
<path d="M180.2 171.7l1.82 .96-1.4 2.14-1.81-.83z" stroke="#1feaff"/>
<path d="M178.39 170.59l1.81 1.11-1.39 2.27-1.82-.96z" stroke="#1ff8ff"/>
<path d="M176.57 169.3l1.82 1.29-1.4 2.42-1.82-1.13z" stroke="#26fff8"/>
<path d="M174.75 167.8l1.82 1.5-1.4 2.58-1.81-1.32z" stroke="#34ffea"/>
<path d="M172.94 166.05l1.81 1.75-1.39 2.76-1.82-1.55z" stroke="#50ffce"/>
<path d="M171.12 164.01l1.82 2.04-1.4 2.96-1.82-1.82z" stroke="#5effc0"/>
<path d="M169.31 161.61l1.81 2.4-1.4 3.18-1.81-2.14z" stroke="#7affa4"/>
<path d="M167.49 158.77l1.82 2.84-1.4 3.44-1.82-2.55z" stroke="#a4ff7a"/>
<path d="M165.67 155.37l1.82 3.4-1.4 3.73-1.81-3.04z" stroke="#c0ff5e"/>
<path d="M163.86 151.28l1.81 4.09-1.39 4.09-1.82-3.69z" stroke="#eaff34"/>
<path d="M162.04 146.28l1.82 5-1.4 4.49-1.82-4.51z" stroke="#ffdc1f"/>
<path d="M160.22 140.08l1.82 6.2-1.4 4.98-1.81-5.6z" stroke="#ffa41f"/>
<path d="M158.41 132.24l1.81 7.84-1.39 5.58-1.82-7.1z" stroke="#ff501f"/>
<path d="M292.39 163.84l1.82-.4 1.81-.41 1.82-.4 1.81-.41 1.82-.41 1.82-.41 1.81-.41-1.39 .32-1.82 .43-1.82 .42-1.81 .42-1.82 .41-1.81 .42-1.82 .41-1.82 .41zm1.82-.4l-1.4 .38m3.21-.79l-1.39 .38m3.21-.78l-1.4 .36m3.21-.77l-1.39 .36m3.21-.77l-1.4 .35m3.22-.76l-1.4 .34" stroke="#1f1ff8"/>
<path d="M281.49 166.18l1.82-.38 1.81-.39 1.82-.39 1.82-.39 1.81-.4 1.82-.39-1.4 .39-1.81 .41-1.82 .4-1.82 .41-1.81 .4-1.82 .39-1.81 .4zm1.82-.38l-1.4 .44m3.21-.83l-1.39 .44m3.21-.83l-1.4 .43m3.22-.82l-1.4 .41m3.21-.81l-1.39 .41" stroke="#1f1ff8"/>
<path d="M268.78 168.76l1.81-.36 1.82-.36 1.82-.36 1.81-.37 1.82-.38 1.82-.37 1.81-.38-1.39 .46-1.82 .39-1.82 .39-1.81 .38-1.82 .39-1.82 .38-1.81 .37-1.82 .37zm1.81-.36l-1.39 .54m3.21-.9l-1.4 .53m3.22-.89l-1.4 .51m3.21-.88l-1.39 .49m3.21-.87l-1.4 .49m3.22-.86l-1.4 .47" stroke="#1f26ff"/>
<path d="M261.51 170.14l1.82-.34 1.82-.34 1.81-.35 1.82-.35-1.4 .55-1.81 .37-1.82 .36-1.82 .36-1.81 .36zm1.82-.34l-1.4 .6m3.22-.94l-1.4 .58m3.21-.93l-1.39 .57" stroke="#1f26ff"/>
<path d="M248.8 172.35l1.82-.3 1.81-.3 1.82-.31 1.81-.31 1.82-.33 1.82-.32 1.81-.34-1.39 .62-1.82 .35-1.81 .34-1.82 .34-1.82 .33-1.81 .33-1.82 .33-1.82 .31zm1.82-.3l-1.4 .73m3.21-1.03l-1.39 .7m3.21-1.01l-1.4 .68m3.21-.99l-1.39 .66m3.21-.99l-1.39 .65m3.21-.97l-1.4 .63" stroke="#1f34ff"/>
<path d="M246.98 172.64l1.82-.29-1.4 .74-1.81 .31z" stroke="#1f34ff"/>
<path d="M236.09 174.19l1.81-.24 1.82-.24 1.81-.26 1.82-.26 1.82-.27 1.81-.28-1.39 .76-1.82 .3-1.81 .3-1.82 .29-1.82 .27-1.81 .27-1.82 .26zm1.81-.24l-1.39 .88m3.21-1.12l-1.4 .85m3.21-1.11l-1.39 .84m3.21-1.1l-1.39 .81m3.21-1.08l-1.4 .78" stroke="#1f42ff"/>
<path d="M227 175.18l1.82-.17 1.82-.19 1.81-.2 1.82-.21 1.82-.22-1.4 .9-1.82 .26-1.81 .24-1.82 .23-1.82 .21-1.81 .21zm1.82-.17l-1.4 1.02m3.22-1.21l-1.4 1m3.21-1.2l-1.39 .97m3.21-1.18l-1.4 .94" stroke="#1f50ff"/>
<path d="M219.74 175.71l1.82-.11 1.81-.12 1.82-.14 1.81-.16-1.39 1.06-1.82 .19-1.81 .17-1.82 .16-1.82 .15zm1.82-.11l-1.4 1.16m3.21-1.28l-1.39 1.12m3.21-1.26l-1.4 1.09" stroke="#1f5eff"/>
<path d="M214.29 175.9l1.82-.04 1.81-.07 1.82-.08-1.4 1.2-1.81 .13-1.82 .1-1.81 .09zm1.82-.04l-1.4 1.28m3.21-1.35l-1.39 1.25" stroke="#1f6cff"/>
<path d="M208.84 175.86l1.82 .04 1.81 .01 1.82-.01-1.39 1.33-1.82 .06-1.82 .04-1.81 .02zm1.82 .04l-1.4 1.43m3.21-1.42l-1.39 1.38" stroke="#1f7aff"/>
<path d="M205.21 175.68l1.82 .11 1.81 .07-1.39 1.49-1.82-.02-1.82-.05zm1.82 .11l-1.4 1.54" stroke="#1f88ff"/>
<path d="M201.58 175.35l1.81 .19 1.82 .14-1.4 1.6-1.81-.08-1.82-.12zm1.81 .19l-1.39 1.66" stroke="#1f96ff"/>
<path d="M197.94 174.84l1.82 .28 1.82 .23-1.4 1.73-1.81-.16-1.82-.2zm1.82 .28l-1.39 1.8" stroke="#1fa4ff"/>
<path d="M194.31 174.1l1.82 .4 1.81 .34-1.39 1.88-1.82-.26-1.81-.31zm1.82 .4l-1.4 1.96" stroke="#1fb2ff"/>
<path d="M192.5 173.63l1.81 .47-1.39 2.05-1.82-.38z" stroke="#1fc0ff"/>
<path d="M188.86 172.45l1.82 .64 1.82 .54-1.4 2.14-1.82-.44-1.81-.52zm1.82 .64l-1.4 2.24" stroke="#1fceff"/>
<path d="M187.05 171.72l1.81 .73-1.39 2.36-1.82-.61z" stroke="#1fdcff"/>
<path d="M185.23 170.88l1.82 .84-1.4 2.48-1.81-.72z" stroke="#1feaff"/>
<path d="M183.41 169.91l1.82 .97-1.39 2.6-1.82-.82z" stroke="#1ff8ff"/>
<path d="M181.6 168.79l1.81 1.12-1.39 2.75-1.82-.96z" stroke="#26fff8"/>
<path d="M179.78 167.5l1.82 1.29-1.4 2.91-1.81-1.11z" stroke="#34ffea"/>
<path d="M177.97 166.02l1.81 1.48-1.39 3.09-1.82-1.29z" stroke="#50ffce"/>
<path d="M176.15 164.3l1.82 1.72-1.4 3.28-1.82-1.5z" stroke="#5effc0"/>
<path d="M174.33 162.32l1.82 1.98-1.4 3.5-1.81-1.75z" stroke="#7affa4"/>
<path d="M172.52 160l1.81 2.32-1.39 3.73-1.82-2.04z" stroke="#96ff88"/>
<path d="M170.7 157.28l1.82 2.72-1.4 4.01-1.81-2.4z" stroke="#b2ff6c"/>
<path d="M168.88 154.07l1.82 3.21-1.39 4.33-1.82-2.84z" stroke="#ceff50"/>
<path d="M167.07 150.26l1.81 3.81-1.39 4.7-1.82-3.4z" stroke="#f8ff26"/>
<path d="M165.25 145.67l1.82 4.59-1.4 5.11-1.81-4.09z" stroke="#ffdc1f"/>
<path d="M163.44 140.07l1.81 5.6-1.39 5.61-1.82-5z" stroke="#ffa41f"/>
<path d="M161.62 133.15l1.82 6.92-1.4 6.21-1.82-6.2z" stroke="#ff5e1f"/>
<path d="M159.8 124.4l1.82 8.75-1.4 6.93-1.81-7.84z" stroke="#ea1f1f"/>
<path d="M302.87 161.22l1.81-.4 1.82-.4-1.4 .57-1.81 .41-1.82 .41zm1.81-.4l-1.39 .58" stroke="#1f1ff8"/>
<path d="M290.15 163.95l1.82-.38 1.82-.38 1.81-.39 1.82-.39 1.82-.4 1.81-.39 1.82-.4-1.4 .59-1.82 .41-1.81 .41-1.82 .4-1.81 .41-1.82 .4-1.82 .39-1.81 .4zm1.82-.38l-1.4 .66m3.22-1.04l-1.4 .65m3.21-1.04l-1.39 .64m3.21-1.03l-1.4 .62m3.22-1.02l-1.4 .62m3.21-1.01l-1.4 .6" stroke="#1f26ff"/>
<path d="M281.07 165.81l1.82-.36 1.81-.37 1.82-.37 1.82-.38 1.81-.38-1.39 .68-1.82 .39-1.82 .39-1.81 .39-1.82 .38-1.81 .38zm1.82-.36l-1.4 .73m3.21-1.1l-1.39 .72m3.21-1.09l-1.4 .7m3.22-1.08l-1.4 .69" stroke="#1f26ff"/>
<path d="M268.36 168.25l1.82-.34 1.81-.34 1.82-.34 1.81-.35 1.82-.35 1.82-.36 1.81-.36-1.39 .75-1.82 .37-1.82 .38-1.81 .37-1.82 .36-1.82 .36-1.81 .36-1.82 .35zm1.82-.34l-1.4 .85m3.21-1.19l-1.4 .83m3.22-1.17l-1.4 .81m3.21-1.16l-1.39 .8m3.21-1.15l-1.4 .78m3.22-1.14l-1.4 .76" stroke="#1f34ff"/>
<path d="M264.73 168.9l1.81-.32 1.82-.33-1.4 .86-1.81 .35-1.82 .34zm1.81-.32l-1.39 .88" stroke="#1f34ff"/>
<path d="M252.01 170.99l1.82-.27 1.81-.29 1.82-.29 1.82-.3 1.81-.31 1.82-.31 1.82-.32-1.4 .9-1.82 .34-1.81 .34-1.82 .32-1.82 .33-1.81 .31-1.82 .31-1.81 .3zm1.82-.27l-1.4 1.03m3.21-1.32l-1.39 1.01m3.21-1.3l-1.4 .99m3.22-1.29l-1.4 .96m3.21-1.27l-1.39 .95m3.21-1.26l-1.4 .92" stroke="#1f42ff"/>
<path d="M241.12 172.48l1.81-.22 1.82-.24 1.81-.24 1.82-.25 1.82-.27 1.81-.27-1.39 1.06-1.82 .3-1.82 .29-1.81 .28-1.82 .27-1.82 .26-1.81 .26zm1.81-.22l-1.4 1.19m3.22-1.43l-1.4 1.17m3.21-1.41l-1.39 1.14m3.21-1.39l-1.4 1.11m3.22-1.38l-1.4 1.09" stroke="#1f50ff"/>
<path d="M232.03 173.43l1.82-.17 1.82-.17 1.81-.19 1.82-.2 1.82-.22-1.4 1.23-1.82 .24-1.81 .24-1.82 .22-1.82 .21-1.81 .2zm1.82-.17l-1.4 1.36m3.22-1.53l-1.4 1.32m3.21-1.51l-1.39 1.29m3.21-1.49l-1.4 1.25" stroke="#1f5eff"/>
<path d="M224.77 173.92l1.81-.1 1.82-.11 1.82-.14 1.81-.14-1.39 1.39-1.82 .19-1.82 .17-1.81 .16-1.82 .14zm1.81-.1l-1.39 1.52m3.21-1.63l-1.4 1.47m3.22-1.61l-1.4 1.44" stroke="#1f6cff"/>
<path d="M219.32 174.09l1.82-.04 1.81-.05 1.82-.08-1.4 1.56-1.81 .12-1.82 .11-1.82 .08zm1.82-.04l-1.4 1.66m3.21-1.71l-1.39 1.6" stroke="#1f7aff"/>
<path d="M213.87 174.04l1.82 .04 1.81 .02 1.82-.01-1.4 1.7-1.81 .07-1.82 .04-1.82 .01zm1.82 .04l-1.4 1.82m3.21-1.8l-1.39 1.76" stroke="#1f88ff"/>
<path d="M210.24 173.86l1.82 .11 1.81 .07-1.4 1.87-1.81-.01-1.82-.04zm1.82 .11l-1.4 1.93" stroke="#1f96ff"/>
<path d="M204.79 173.31l1.82 .23 1.81 .18 1.82 .14-1.4 2-1.81-.07-1.82-.11-1.82-.14zm1.82 .23l-1.4 2.14m3.21-1.96l-1.39 2.07" stroke="#1fa4ff"/>
<path d="M202.97 173.05l1.82 .26-1.4 2.23-1.81-.19z" stroke="#1fb2ff"/>
<path d="M199.34 172.35l1.82 .37 1.81 .33-1.39 2.3-1.82-.23-1.82-.28zm1.82 .37l-1.4 2.4" stroke="#1fc0ff"/>
<path d="M195.71 171.4l1.81 .51 1.82 .44-1.4 2.49-1.81-.34-1.82-.4zm1.81 .51l-1.39 2.59" stroke="#1fceff"/>
<path d="M193.89 170.81l1.82 .59-1.4 2.7-1.81-.47z" stroke="#1fdcff"/>
<path d="M192.08 170.13l1.81 .68-1.39 2.82-1.82-.54z" stroke="#1feaff"/>
<path d="M190.26 169.36l1.82 .77-1.4 2.96-1.82-.64z" stroke="#1ff8ff"/>
<path d="M188.44 168.48l1.82 .88-1.4 3.09-1.81-.73z" stroke="#26fff8"/>
<path d="M186.63 167.47l1.81 1.01-1.39 3.24-1.82-.84z" stroke="#34ffea"/>
<path d="M184.81 166.32l1.82 1.15-1.4 3.41-1.82-.97z" stroke="#42ffdc"/>
<path d="M183 165.01l1.81 1.31-1.4 3.59-1.81-1.12z" stroke="#50ffce"/>
<path d="M181.18 163.51l1.82 1.5-1.4 3.78-1.82-1.29z" stroke="#5effc0"/>
<path d="M179.36 161.78l1.82 1.73-1.4 3.99-1.81-1.48z" stroke="#7affa4"/>
<path d="M177.55 159.8l1.81 1.98-1.39 4.24-1.82-1.72z" stroke="#88ff96"/>
<path d="M175.73 157.51l1.82 2.29-1.4 4.5-1.82-1.98z" stroke="#a4ff7a"/>
<path d="M173.91 154.85l1.82 2.66-1.4 4.81-1.81-2.32z" stroke="#c0ff5e"/>
<path d="M172.1 151.74l1.81 3.11-1.39 5.15-1.82-2.72z" stroke="#eaff34"/>
<path d="M170.28 148.08l1.82 3.66-1.4 5.54-1.82-3.21z" stroke="#ffea1f"/>
<path d="M168.46 143.74l1.82 4.34-1.4 5.99-1.81-3.81z" stroke="#ffc01f"/>
<path d="M166.65 138.53l1.81 5.21-1.39 6.52-1.82-4.59z" stroke="#ff881f"/>
<path d="M164.83 132.2l1.82 6.33-1.4 7.14-1.81-5.6z" stroke="#ff501f"/>
<path d="M163.02 124.37l1.81 7.83-1.39 7.87-1.82-6.92z" stroke="#dc1f1f"/>
<path d="M161.2 114.5l1.82 9.87-1.4 8.78-1.82-8.75z" stroke="#881f1f"/>
</g>
</g>
<g id="axes3d">
<path class="a" d="M49.5 159.0L49.5 43.5"/>
<path class="a" d="M49.5 159.0L161.2 212.1"/>
<path class="a" d="M161.2 212.1L306.5 171.8"/>
<path class="a" d="M161.2 212.1L164.4 213.6"/>
<path class="a" d="M161.2 212.1L157.8 213.0"/>
<path class="a" d="M233.8 191.9L237.0 193.5"/>
<path class="a" d="M105.3 185.5L102.0 186.5"/>
<path class="a" d="M306.5 171.8L309.7 173.3"/>
<path class="a" d="M49.5 159.0L46.1 159.9"/>
<path class="a" d="M49.5 159.0L45.9 158.5"/>
<path class="a" d="M49.5 130.1L45.9 129.6"/>
<path class="a" d="M49.5 101.2L45.9 100.8"/>
<path class="a" d="M49.5 72.4L45.9 71.9"/>
<path class="a" d="M49.5 43.5L45.9 43.0"/>
</g>
<g id="labels3d">
<text x="44.6" y="161.0" class="t" text-anchor="end">0</text>
<text x="44.6" y="132.1" class="t" text-anchor="end">0.005</text>
<text x="44.6" y="103.2" class="t" text-anchor="end">0.01</text>
<text x="44.6" y="74.4" class="t" text-anchor="end">0.015</text>
<text x="44.6" y="45.5" class="t" text-anchor="end">0.02</text>
<text x="41.2" y="170.2" class="t" text-anchor="middle">1</text>
<text x="93.3" y="197.0" class="t" text-anchor="middle">0.5</text>
<text x="152.7" y="223.5" class="t" text-anchor="middle">0</text>
<text x="169.5" y="224.3" class="t" text-anchor="middle">0</text>
<text x="246.6" y="204.2" class="t" text-anchor="middle">0.5</text>
<text x="315.0" y="184.0" class="t" text-anchor="middle">1</text>
<text x="77.4" y="215.0" class="l">u<tspan dy="6" font-size="8.8">2</tspan><tspan dy="-6">(t)</tspan></text>
<text x="237.4" y="223.0" class="l">u<tspan dy="6" font-size="8.8">1</tspan><tspan dy="-6">(t)</tspan></text>
<text transform="translate(8.4 173.2) rotate(-90)" class="l">Reproductive Number – R<tspan dy="6" font-size="8.8">0</tspan></text>
</g>
<g id="contour">
<rect x="389.0" y="3.4" width="265.4" height="56.9" fill="#00008f"/>
<rect x="389.0" y="60.0" width="265.4" height="84.8" fill="#0000b0"/>
<rect x="389.0" y="144.5" width="265.4" height="28.6" fill="#0040ff"/>
<rect x="389.0" y="172.8" width="265.4" height="14.4" fill="#00bfff"/>
<rect x="389.0" y="186.9" width="265.4" height="8.7" fill="#50ffaf"/>
<rect x="389.0" y="195.3" width="265.4" height="6.0" fill="#dfff20"/>
<rect x="389.0" y="201.0" width="265.4" height="4.2" fill="#ff8f00"/>
<rect x="389.0" y="204.9" width="265.4" height="3.7" fill="#ff0000"/>
<path class="c" d="M389.0 60.0H654.4"/>
<path class="c" d="M389.0 144.5H654.4"/>
<path class="c" d="M389.0 172.8H654.4"/>
<path class="c" d="M389.0 186.9H654.4"/>
<path class="c" d="M389.0 195.3H654.4"/>
<path class="c" d="M389.0 201.0H654.4"/>
<path class="c" d="M389.0 204.9H654.4"/>
<clipPath id="cc"><rect x="389.0" y="3.4" width="265.4" height="205.3"/></clipPath>
<text x="458.7" y="63.9" class="k" text-anchor="middle">0.002</text>
<text x="543.6" y="63.9" class="k" text-anchor="middle">0.002</text>
<text x="629.7" y="63.9" class="k" text-anchor="middle">0.002</text>
<text x="458.7" y="148.1" class="k" text-anchor="middle">0.004</text>
<text x="543.6" y="148.1" class="k" text-anchor="middle">0.004</text>
<text x="629.7" y="148.1" class="k" text-anchor="middle">0.004</text>
<text x="458.7" y="176.5" class="k" text-anchor="middle">0.006</text>
<text x="543.6" y="176.5" class="k" text-anchor="middle">0.006</text>
<text x="629.7" y="176.5" class="k" text-anchor="middle">0.006</text>
<text x="458.7" y="190.0" class="k" text-anchor="middle">0.008</text>
<text x="543.6" y="190.0" class="k" text-anchor="middle">0.008</text>
<text x="629.7" y="190.0" class="k" text-anchor="middle">0.008</text>
<text x="459.9" y="198.7" class="k" text-anchor="middle">0.01</text>
<text x="544.8" y="198.7" class="k" text-anchor="middle">0.01</text>
<text x="630.9" y="198.7" class="k" text-anchor="middle">0.01</text>
<text x="458.7" y="204.4" class="k" text-anchor="middle">0.012</text>
<text x="543.6" y="204.4" class="k" text-anchor="middle">0.012</text>
<text x="629.7" y="204.4" class="k" text-anchor="middle">0.012</text>
<text x="458.7" y="208.3" class="k" text-anchor="middle">0.014</text>
<text x="543.6" y="208.3" class="k" text-anchor="middle">0.014</text>
<text x="629.7" y="208.3" class="k" text-anchor="middle">0.014</text>
<text x="458.7" y="211.0" class="k" text-anchor="middle" clip-path="url(#cc)">0.016</text>
<text x="543.6" y="211.0" class="k" text-anchor="middle" clip-path="url(#cc)">0.016</text>
<text x="629.7" y="211.0" class="k" text-anchor="middle" clip-path="url(#cc)">0.016</text>
<rect x="389.0" y="3.4" width="265.4" height="204.9" fill="none" stroke="#000" stroke-width="0.9"/>
<path class="a" d="M389.0 208.3h2.6M654.4 208.3h-2.6"/>
<text x="387.4" y="212.5" class="t" text-anchor="end">0</text>
<path class="a" d="M389.0 187.8h2.6M654.4 187.8h-2.6"/>
<text x="387.4" y="192.0" class="t" text-anchor="end">0.1</text>
<path class="a" d="M389.0 167.3h2.6M654.4 167.3h-2.6"/>
<text x="387.4" y="171.5" class="t" text-anchor="end">0.2</text>
<path class="a" d="M389.0 146.8h2.6M654.4 146.8h-2.6"/>
<text x="387.4" y="151.0" class="t" text-anchor="end">0.3</text>
<path class="a" d="M389.0 126.3h2.6M654.4 126.3h-2.6"/>
<text x="387.4" y="130.5" class="t" text-anchor="end">0.4</text>
<path class="a" d="M389.0 105.9h2.6M654.4 105.9h-2.6"/>
<text x="387.4" y="110.0" class="t" text-anchor="end">0.5</text>
<path class="a" d="M389.0 85.4h2.6M654.4 85.4h-2.6"/>
<text x="387.4" y="89.5" class="t" text-anchor="end">0.6</text>
<path class="a" d="M389.0 64.9h2.6M654.4 64.9h-2.6"/>
<text x="387.4" y="69.0" class="t" text-anchor="end">0.7</text>
<path class="a" d="M389.0 44.4h2.6M654.4 44.4h-2.6"/>
<text x="387.4" y="48.6" class="t" text-anchor="end">0.8</text>
<path class="a" d="M389.0 23.9h2.6M654.4 23.9h-2.6"/>
<text x="387.4" y="28.1" class="t" text-anchor="end">0.9</text>
<path class="a" d="M389.0 3.4h2.6M654.4 3.4h-2.6"/>
<text x="387.4" y="6.8" class="t" text-anchor="end">1</text>
<path class="a" d="M389.0 208.3v-2.6M389.0 3.4v2.6"/>
<text x="390.0" y="220.7" class="t" text-anchor="middle">0</text>
<path class="a" d="M442.1 208.3v-2.6M442.1 3.4v2.6"/>
<text x="443.1" y="220.7" class="t" text-anchor="middle">0.2</text>
<path class="a" d="M495.2 208.3v-2.6M495.2 3.4v2.6"/>
<text x="496.2" y="220.7" class="t" text-anchor="middle">0.4</text>
<path class="a" d="M548.2 208.3v-2.6M548.2 3.4v2.6"/>
<text x="549.2" y="220.7" class="t" text-anchor="middle">0.6</text>
<path class="a" d="M601.3 208.3v-2.6M601.3 3.4v2.6"/>
<text x="602.3" y="220.7" class="t" text-anchor="middle">0.8</text>
<path class="a" d="M654.4 208.3v-2.6M654.4 3.4v2.6"/>
<text x="655.4" y="220.7" class="t" text-anchor="middle">1</text>
<text x="510.8" y="231.9" class="l">u<tspan dy="6" font-size="8.8">1</tspan><tspan dy="-6">(t)</tspan></text>
<text transform="translate(362.0 116.7) rotate(-90)" class="l">u<tspan dy="6" font-size="8.8">2</tspan><tspan dy="-6">(t)</tspan></text>
</g>
<g id="captions">
<text x="12.28" y="262.4" class="s" textLength="20.58" lengthAdjust="spacingAndGlyphs">(a)</text>
<text x="39.62" y="262.4" class="s" font-style="italic" textLength="11.82" lengthAdjust="spacingAndGlyphs">u</text>
<text x="51.56" y="265.1" class="s" style="font-size:12.2px" textLength="6.82" lengthAdjust="spacingAndGlyphs">1</text>
<text x="64.56" y="262.4" class="s" textLength="28.94" lengthAdjust="spacingAndGlyphs">and</text>
<text x="99.70" y="262.4" class="s" font-style="italic" textLength="11.60" lengthAdjust="spacingAndGlyphs">u</text>
<text x="111.28" y="265.1" class="s" style="font-size:12.2px" textLength="6.80" lengthAdjust="spacingAndGlyphs">2</text>
<text x="125.58" y="262.4" class="s" textLength="15.28" lengthAdjust="spacingAndGlyphs">vs</text>
<text x="148.36" y="262.4" class="s" textLength="97.28" lengthAdjust="spacingAndGlyphs">reproductive</text>
<text x="252.64" y="262.4" class="s" textLength="62.80" lengthAdjust="spacingAndGlyphs">number.</text>
<text x="338.42" y="262.4" class="s" textLength="23.52" lengthAdjust="spacingAndGlyphs">(b)</text>
<text x="368.28" y="262.4" class="s" textLength="64.08" lengthAdjust="spacingAndGlyphs">Contour</text>
<text x="439.28" y="262.4" class="s" textLength="28.58" lengthAdjust="spacingAndGlyphs">plot</text>
<text x="476.42" y="262.4" class="s" textLength="14.08" lengthAdjust="spacingAndGlyphs">as</text>
<text x="497.92" y="262.4" class="s" textLength="9.66" lengthAdjust="spacingAndGlyphs">a</text>
<text x="512.42" y="262.4" class="s" textLength="64.08" lengthAdjust="spacingAndGlyphs">function</text>
<text x="583.64" y="262.4" class="s" textLength="13.06" lengthAdjust="spacingAndGlyphs">of</text>
<text x="603.34" y="262.4" class="s" font-style="italic" textLength="11.02" lengthAdjust="spacingAndGlyphs">u</text>
<text x="614.48" y="265.1" class="s" style="font-size:12.2px" textLength="7.40" lengthAdjust="spacingAndGlyphs">1</text>
<text x="628.50" y="262.4" class="s" textLength="27.28" lengthAdjust="spacingAndGlyphs">and</text>
<text x="662.28" y="262.4" class="s" font-style="italic" textLength="11.02" lengthAdjust="spacingAndGlyphs">u</text>
<text x="673.64" y="265.1" class="s" style="font-size:12.2px" textLength="6.80" lengthAdjust="spacingAndGlyphs">2</text>
<text x="681.28" y="262.4" class="s" textLength="3.52" lengthAdjust="spacingAndGlyphs">.</text>
</g>
</svg>
</body></html>
